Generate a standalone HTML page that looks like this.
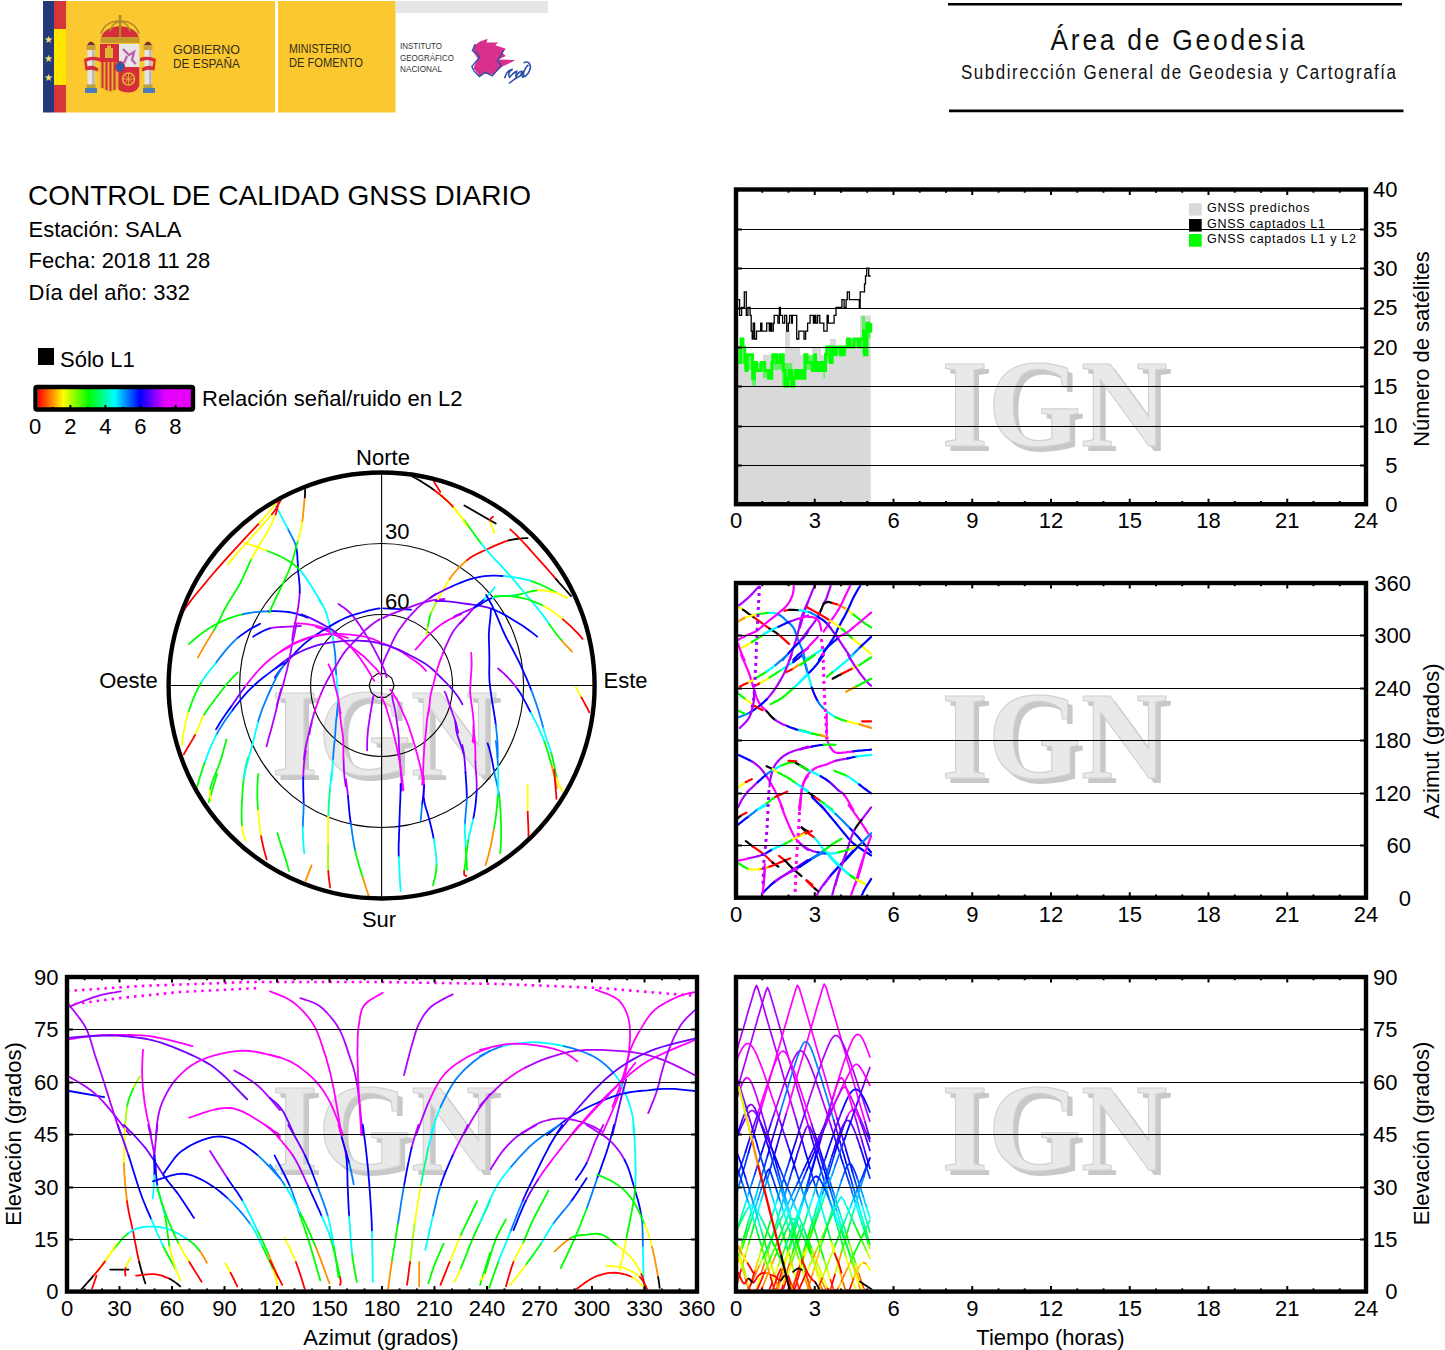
<!DOCTYPE html>
<html><head><meta charset="utf-8"><style>html,body{margin:0;padding:0;background:#fff;}svg{display:block;}</style></head>
<body><svg width="1445" height="1350" viewBox="0 0 1445 1350" font-family='"Liberation Sans", sans-serif'>
<rect width="1445" height="1350" fill="#fff"/>
<g id="logo">
<rect x="43" y="1" width="11" height="111.5" fill="#233a7a"/>
<rect x="54" y="1" width="12" height="28" fill="#d8343b"/>
<rect x="54" y="29" width="12" height="56" fill="#ffe600"/>
<rect x="54" y="85" width="12" height="27.5" fill="#d8343b"/>
<text x="48.5" y="42.5" font-size="10" text-anchor="middle" fill="#f5e06a">&#9733;</text>
<text x="48.5" y="62.0" font-size="10" text-anchor="middle" fill="#f5e06a">&#9733;</text>
<text x="48.5" y="80.5" font-size="10" text-anchor="middle" fill="#f5e06a">&#9733;</text>
<rect x="66" y="1" width="209" height="111.5" fill="#fcc830"/>
<rect x="278" y="1" width="117.5" height="111.5" fill="#fcc830"/>
<rect x="395.5" y="1" width="152.5" height="12" fill="#e6e6e6"/>
<g>
<!-- pillars -->
<rect x="87.5" y="49" width="7" height="37" fill="#e4e4e4"/><rect x="92" y="49" width="2.5" height="37" fill="#b9b9b9"/>
<rect x="144.5" y="49" width="7" height="37" fill="#e4e4e4"/><rect x="149" y="49" width="2.5" height="37" fill="#b9b9b9"/>
<rect x="86.5" y="45" width="9" height="5" fill="#c9a23a"/><rect x="143.5" y="45" width="9" height="5" fill="#c9a23a"/>
<rect x="86.5" y="84.5" width="9" height="3.5" fill="#b8a040"/><rect x="143.5" y="84.5" width="9" height="3.5" fill="#b8a040"/>
<rect x="85" y="88" width="12" height="5" fill="#4a7cc0"/><rect x="143" y="88" width="12" height="5" fill="#4a7cc0"/>
<path d="M87 45 q4 -7 8 0z" fill="#7a2a3a"/><path d="M144 45 q4 -7 8 0z" fill="#7a2a3a"/>
<!-- ribbons -->
<path d="M84 59 q8 -4 16 -1 l0 3.5 q-8 -3 -13.5 0 l1 5 q6 -2 11 2 l-1 3 q-5 -3 -12 -1z" fill="#d62d3a"/>
<path d="M156 59 q-8 -4 -16 -1 l0 3.5 q8 -3 13.5 0 l-1 5 q-6 -2 -11 2 l1 3 q5 -3 12 -1z" fill="#d62d3a"/>
<!-- shield -->
<path d="M100 44 h19 v18 h-19z" fill="#d62d3a"/>
<path d="M119 44 h20.3 v23 h-20.3z" fill="#e6e6e6"/>
<path d="M100 62 h18.5 v25 q-4 5 -9 5 q-6 -1 -9.5 -6z" fill="#e0b530"/>
<path d="M102.5 62 v26 M106.5 62 v28 M110.5 62 v29 M114.5 62 v28" stroke="#d62d3a" stroke-width="2"/>
<path d="M118.5 67 h20.8 v19 q-3 6 -10 6.5 q-8 0 -11 -3z" fill="#d62d3a"/>
<circle cx="128.5" cy="79" r="6" fill="none" stroke="#e0b530" stroke-width="1.6"/>
<path d="M122.5 79 h12 M128.5 73 v12 M124.3 74.8 l8.4 8.4 M132.7 74.8 l-8.4 8.4" stroke="#e0b530" stroke-width="0.9"/>
<rect x="105" y="48" width="8" height="10" fill="#e0b530"/><rect x="107" y="45.5" width="4" height="3" fill="#e0b530"/>
<path d="M123 49 l6 6 l5 -3 l-2 8 l4 4 M127 56 l-3 7" stroke="#c060b0" stroke-width="2.4" fill="none"/>
<ellipse cx="120" cy="66.8" rx="4.6" ry="5.3" fill="#2c5ab0" stroke="#d62d3a" stroke-width="1.2"/>
<!-- crown -->
<path d="M101 42 q-1 -14 19 -16 q20 2 19 16z" fill="#d62d3a"/>
<path d="M100.5 37 h39 v6 h-39z" fill="#c49a2c"/>
<path d="M101 34 q4 -13 19 -13 q15 0 19 13" fill="none" stroke="#b08a2a" stroke-width="1.6"/>
<path d="M110 32 q2 -10 10 -10 q8 0 10 10" fill="none" stroke="#b08a2a" stroke-width="1.3"/>
<rect x="119" y="15" width="2.2" height="22" fill="#b08a2a"/>
<circle cx="120" cy="16.5" r="1.6" fill="#b08a2a"/>
</g>
<text x="173" y="54" font-size="12.5" fill="#332e1a" textLength="67" lengthAdjust="spacingAndGlyphs">GOBIERNO</text>
<text x="173" y="68" font-size="12.5" fill="#332e1a" textLength="67" lengthAdjust="spacingAndGlyphs">DE ESPAÑA</text>
<text x="289" y="53.2" font-size="12" fill="#332e1a" textLength="62" lengthAdjust="spacingAndGlyphs">MINISTERIO</text>
<text x="289" y="67.2" font-size="12" fill="#332e1a" textLength="74" lengthAdjust="spacingAndGlyphs">DE FOMENTO</text>
<text x="400" y="49.3" font-size="9" fill="#333" textLength="42" lengthAdjust="spacingAndGlyphs">INSTITUTO</text>
<text x="400" y="60.5" font-size="9" fill="#333" textLength="54" lengthAdjust="spacingAndGlyphs">GEOGRÁFICO</text>
<text x="400" y="71.8" font-size="9" fill="#333" textLength="42" lengthAdjust="spacingAndGlyphs">NACIONAL</text>
<polygon points="473.5,46.5 479.4,41.8 487.6,38.8 486.5,42.4 498.2,42.4 495.3,45.3 505.9,48.8 502.4,52.9 505.9,55.9 498.2,59.4 515.3,60.0 510.0,62.9 502.4,66.5 492.9,74.7 483.5,73.5 480.0,76.5 473.5,68.2 477.6,58.2 473.5,52.4" fill="#d8308c"/>
<polyline points="475.3,44.1 472.4,50.6 477.6,53.5 479.4,57.6 471.8,66.5 474.1,71.2 479.4,76.5 485.3,72.4 492.4,75.9 501.2,65.3 497.6,60.6 502.4,52.4 503.5,50.6" fill="none" stroke="#2a4fa8" stroke-width="1.4"/>
<path d="M504.7 78.2 q2 -8 8 -9 q-6 4 -3 8 q4 -5 7 -6 l-1 6 q3 -6 6 -6 l-1 5 q2 -3 3 -5 l-1 7 M523.5 62.9 q6 -3 7 4 q-1 6 -4 8 q-3 4 -3 -2 q2 -6 5 -8 M508.8 83.5 q6 -5 12 -8" fill="none" stroke="#2a4fa8" stroke-width="1.6"/>
</g>
<line x1="948" y1="4.2" x2="1402" y2="4.2" stroke="#000" stroke-width="2.4"/>
<line x1="949" y1="110.8" x2="1403.5" y2="110.8" stroke="#000" stroke-width="2.8"/>
<text transform="scale(0.88 1)" x="1193.75" y="49.8" font-size="30" fill="#111" textLength="288.64" lengthAdjust="spacing">Área de Geodesia</text>
<text transform="scale(0.88 1)" x="1092.05" y="78.8" font-size="19.3" fill="#111" textLength="494.32" lengthAdjust="spacing">Subdirección General de Geodesia y Cartografía</text>
<text x="28" y="204.8" font-size="28" text-anchor="start" fill="#000" >CONTROL DE CALIDAD GNSS DIARIO</text>
<text x="28.5" y="236.6" font-size="22" text-anchor="start" fill="#000" >Estación: SALA</text>
<text x="28.5" y="268.4" font-size="22" text-anchor="start" fill="#000" >Fecha: 2018 11 28</text>
<text x="28.5" y="299.8" font-size="22" text-anchor="start" fill="#000" >Día del año: 332</text>
<rect x="38" y="348" width="16" height="17" fill="#000"/>
<text x="60" y="366.8" font-size="22" text-anchor="start" fill="#000" >Sólo L1</text>
<defs><linearGradient id="cb" x1="0" x2="1" y1="0" y2="0"><stop offset="0.0000" stop-color="#ff0000"/><stop offset="0.1667" stop-color="#ffff00"/><stop offset="0.3333" stop-color="#00ff00"/><stop offset="0.5000" stop-color="#00ffff"/><stop offset="0.6667" stop-color="#0000ff"/><stop offset="0.8333" stop-color="#e800ff"/></linearGradient></defs>
<rect x="37.8" y="389" width="153.2" height="19" fill="url(#cb)"/>
<rect x="35.5" y="387" width="157.5" height="22.5" fill="none" stroke="#000" stroke-width="4.4" rx="1.5"/>
<line x1="52.8" y1="408.5" x2="52.8" y2="407.0" stroke="#000" stroke-width="2"/>
<line x1="70.4" y1="408.5" x2="70.4" y2="405.0" stroke="#000" stroke-width="2"/>
<line x1="87.9" y1="408.5" x2="87.9" y2="407.0" stroke="#000" stroke-width="2"/>
<line x1="105.4" y1="408.5" x2="105.4" y2="405.0" stroke="#000" stroke-width="2"/>
<line x1="123.0" y1="408.5" x2="123.0" y2="407.0" stroke="#000" stroke-width="2"/>
<line x1="140.5" y1="408.5" x2="140.5" y2="405.0" stroke="#000" stroke-width="2"/>
<line x1="158.0" y1="408.5" x2="158.0" y2="407.0" stroke="#000" stroke-width="2"/>
<line x1="175.5" y1="408.5" x2="175.5" y2="405.0" stroke="#000" stroke-width="2"/>
<text x="35.2" y="434" font-size="22" text-anchor="middle" fill="#000" >0</text>
<text x="70.26" y="434" font-size="22" text-anchor="middle" fill="#000" >2</text>
<text x="105.32000000000001" y="434" font-size="22" text-anchor="middle" fill="#000" >4</text>
<text x="140.38" y="434" font-size="22" text-anchor="middle" fill="#000" >6</text>
<text x="175.44" y="434" font-size="22" text-anchor="middle" fill="#000" >8</text>
<text x="202" y="406" font-size="22" text-anchor="start" fill="#000" >Relación señal/ruido en L2</text>
<g font-family='"Liberation Serif", serif' font-size="125" font-weight="bold">
<text x="946.5" y="450.975" fill="#c8c8c8" textLength="226" lengthAdjust="spacingAndGlyphs">IGN</text>
<text x="941.5" y="445.975" fill="#e9e9e9" stroke="#d2d2d2" stroke-width="1.2" textLength="226" lengthAdjust="spacingAndGlyphs">IGN</text>
</g>
<g font-family='"Liberation Serif", serif' font-size="125" font-weight="bold">
<text x="946.5" y="782.675" fill="#c8c8c8" textLength="226" lengthAdjust="spacingAndGlyphs">IGN</text>
<text x="941.5" y="777.675" fill="#e9e9e9" stroke="#d2d2d2" stroke-width="1.2" textLength="226" lengthAdjust="spacingAndGlyphs">IGN</text>
</g>
<g font-family='"Liberation Serif", serif' font-size="125" font-weight="bold">
<text x="946.5" y="1174.675" fill="#c8c8c8" textLength="226" lengthAdjust="spacingAndGlyphs">IGN</text>
<text x="941.5" y="1169.675" fill="#e9e9e9" stroke="#d2d2d2" stroke-width="1.2" textLength="226" lengthAdjust="spacingAndGlyphs">IGN</text>
</g>
<g font-family='"Liberation Serif", serif' font-size="125" font-weight="bold">
<text x="276.5" y="780.375" fill="#c8c8c8" textLength="226" lengthAdjust="spacingAndGlyphs">IGN</text>
<text x="271.5" y="775.375" fill="#e9e9e9" stroke="#d2d2d2" stroke-width="1.2" textLength="226" lengthAdjust="spacingAndGlyphs">IGN</text>
</g>
<g font-family='"Liberation Serif", serif' font-size="125" font-weight="bold">
<text x="276.5" y="1174.675" fill="#c8c8c8" textLength="226" lengthAdjust="spacingAndGlyphs">IGN</text>
<text x="271.5" y="1169.675" fill="#e9e9e9" stroke="#d2d2d2" stroke-width="1.2" textLength="226" lengthAdjust="spacingAndGlyphs">IGN</text>
</g>
<path d="M737.8 504.2 L737.8 346.9 L744 346.9 L744 354.7 L751 354.7 L751 362.6 L763 362.6 L763 354.7 L785 354.7 L785 331.1 L790 331.1 L790 346.9 L800 346.9 L800 354.7 L812 354.7 L812 346.9 L821 346.9 L821 354.7 L830 354.7 L830 339.0 L836 339.0 L836 346.9 L845 346.9 L845 339.0 L860 339.0 L860 315.4 L870.7 315.4 L870.7 504.2 Z" fill="#d9d9d9"/>
<rect x="737.8" y="347.4" width="2.6" height="14.7" fill="#00ff00" opacity="0.55"/>
<rect x="740.4" y="339.5" width="3.6" height="6.9" fill="#00ff00" opacity="0.55"/>
<rect x="744.0" y="355.2" width="7.8" height="14.7" fill="#00ff00" opacity="0.55"/>
<rect x="751.8" y="363.1" width="4.2" height="22.6" fill="#00ff00" opacity="0.55"/>
<rect x="756.0" y="363.1" width="7.0" height="6.9" fill="#00ff00" opacity="0.55"/>
<rect x="763.0" y="371.0" width="8.5" height="6.9" fill="#00ff00" opacity="0.55"/>
<rect x="771.5" y="355.2" width="10.5" height="14.7" fill="#00ff00" opacity="0.55"/>
<rect x="782.0" y="363.1" width="10.3" height="22.6" fill="#00ff00" opacity="0.55"/>
<rect x="792.3" y="371.0" width="12.4" height="6.9" fill="#00ff00" opacity="0.55"/>
<rect x="804.7" y="355.2" width="11.5" height="14.7" fill="#00ff00" opacity="0.55"/>
<rect x="816.2" y="363.1" width="7.2" height="6.9" fill="#00ff00" opacity="0.55"/>
<rect x="823.4" y="363.1" width="1.6" height="14.7" fill="#00ff00" opacity="0.55"/>
<rect x="825.0" y="347.4" width="6.2" height="14.7" fill="#00ff00" opacity="0.55"/>
<rect x="831.2" y="347.4" width="8.8" height="6.9" fill="#00ff00" opacity="0.55"/>
<rect x="840.0" y="347.4" width="6.3" height="6.9" fill="#00ff00" opacity="0.55"/>
<rect x="846.3" y="339.5" width="15.5" height="6.9" fill="#00ff00" opacity="0.55"/>
<rect x="861.8" y="315.9" width="3.2" height="38.3" fill="#00ff00" opacity="0.55"/>
<rect x="865.0" y="323.7" width="5.7" height="14.7" fill="#00ff00" opacity="0.55"/>
<path d="M737.8 362.6 L739.6 362.6 L739.6 362.6 L741.0 362.6 L741.0 339.0 L742.9 339.0 L742.9 346.9 L744.7 346.9 L744.7 362.6 L746.0 362.6 L746.0 370.5 L747.1 370.5 L747.1 354.7 L748.7 354.7 L748.7 354.7 L750.3 354.7 L750.3 354.7 L752.6 354.7 L752.6 378.3 L754.4 378.3 L754.4 362.6 L756.5 362.6 L756.5 370.5 L757.6 370.5 L757.6 370.5 L758.9 370.5 L758.9 370.5 L761.1 370.5 L761.1 362.6 L762.7 362.6 L762.7 362.6 L764.7 362.6 L764.7 370.5 L766.2 370.5 L766.2 370.5 L768.6 370.5 L768.6 378.3 L770.9 378.3 L770.9 378.3 L771.8 378.3 L771.8 362.6 L772.9 362.6 L772.9 354.7 L774.5 354.7 L774.5 354.7 L776.7 354.7 L776.7 362.6 L778.4 362.6 L778.4 362.6 L780.2 362.6 L780.2 354.7 L782.0 354.7 L782.0 354.7 L783.2 354.7 L783.2 370.5 L785.1 370.5 L785.1 386.2 L787.4 386.2 L787.4 378.3 L789.4 378.3 L789.4 370.5 L791.8 370.5 L791.8 386.2 L793.8 386.2 L793.8 378.3 L795.7 378.3 L795.7 370.5 L797.0 370.5 L797.0 378.3 L798.6 378.3 L798.6 370.5 L799.6 370.5 L799.6 378.3 L801.1 378.3 L801.1 378.3 L801.9 378.3 L801.9 370.5 L804.0 370.5 L804.0 378.3 L804.9 378.3 L804.9 354.7 L807.0 354.7 L807.0 362.6 L809.0 362.6 L809.0 362.6 L810.7 362.6 L810.7 362.6 L812.4 362.6 L812.4 370.5 L813.7 370.5 L813.7 370.5 L814.7 370.5 L814.7 354.7 L815.5 354.7 L815.5 370.5 L818.0 370.5 L818.0 362.6 L819.8 362.6 L819.8 370.5 L821.8 370.5 L821.8 362.6 L823.1 362.6 L823.1 370.5 L825.5 370.5 L825.5 354.7 L826.9 354.7 L826.9 346.9 L828.4 346.9 L828.4 346.9 L830.3 346.9 L830.3 362.6 L832.2 362.6 L832.2 346.9 L833.7 346.9 L833.7 354.7 L836.1 354.7 L836.1 346.9 L838.6 346.9 L838.6 346.9 L840.3 346.9 L840.3 354.7 L842.4 354.7 L842.4 346.9 L843.3 346.9 L843.3 354.7 L844.2 354.7 L844.2 346.9 L845.8 346.9 L845.8 346.9 L847.6 346.9 L847.6 339.0 L849.7 339.0 L849.7 346.9 L851.5 346.9 L851.5 346.9 L853.9 346.9 L853.9 339.0 L855.8 339.0 L855.8 339.0 L857.6 339.0 L857.6 339.0 L858.7 339.0 L858.7 346.9 L860.0 346.9 L860.0 339.0 L862.2 339.0 L862.2 339.0 L863.5 339.0 L863.5 331.1 L864.5 331.1 L864.5 354.7 L867.0 354.7 L867.0 323.2 L869.0 323.2 L869.0 331.1 L870.7 331.1 L870.7 323.2 L870.7 323.2" stroke="#00ff00" stroke-width="3" fill="none"/>
<path d="M737.8 299.6 L739.6 299.6 L739.6 315.4 L741.6 315.4 L741.6 307.5 L743.3 307.5 L743.3 307.5 L744.3 307.5 L744.3 291.8 L746.3 291.8 L746.3 315.4 L747.9 315.4 L747.9 307.5 L749.0 307.5 L749.0 307.5 L750.1 307.5 L750.1 315.4 L751.2 315.4 L751.2 331.1 L752.2 331.1 L752.2 339.0 L753.2 339.0 L753.2 323.2 L754.6 323.2 L754.6 339.0 L755.4 339.0 L755.4 339.0 L756.5 339.0 L756.5 331.1 L758.6 331.1 L758.6 331.1 L760.7 331.1 L760.7 323.2 L761.9 323.2 L761.9 331.1 L763.5 331.1 L763.5 331.1 L764.5 331.1 L764.5 331.1 L766.7 331.1 L766.7 323.2 L767.9 323.2 L767.9 323.2 L769.3 323.2 L769.3 331.1 L770.4 331.1 L770.4 323.2 L771.7 323.2 L771.7 331.1 L773.3 331.1 L773.3 323.2 L774.2 323.2 L774.2 315.4 L776.1 315.4 L776.1 315.4 L777.9 315.4 L777.9 323.2 L779.4 323.2 L779.4 307.5 L780.4 307.5 L780.4 315.4 L782.6 315.4 L782.6 323.2 L784.7 323.2 L784.7 315.4 L786.7 315.4 L786.7 331.1 L788.3 331.1 L788.3 323.2 L789.6 323.2 L789.6 315.4 L791.6 315.4 L791.6 323.2 L792.4 323.2 L792.4 315.4 L793.5 315.4 L793.5 315.4 L795.6 315.4 L795.6 315.4 L796.7 315.4 L796.7 339.0 L798.8 339.0 L798.8 331.1 L800.1 331.1 L800.1 331.1 L802.1 331.1 L802.1 331.1 L804.0 331.1 L804.0 339.0 L805.6 339.0 L805.6 331.1 L807.6 331.1 L807.6 323.2 L809.0 323.2 L809.0 323.2 L810.1 323.2 L810.1 315.4 L812.2 315.4 L812.2 315.4 L813.4 315.4 L813.4 323.2 L814.7 323.2 L814.7 315.4 L815.9 315.4 L815.9 323.2 L817.6 323.2 L817.6 315.4 L819.8 315.4 L819.8 323.2 L820.8 323.2 L820.8 323.2 L821.6 323.2 L821.6 323.2 L823.8 323.2 L823.8 331.1 L825.9 331.1 L825.9 331.1 L827.1 331.1 L827.1 315.4 L828.3 315.4 L828.3 323.2 L829.8 323.2 L829.8 323.2 L831.2 323.2 L831.2 323.2 L832.0 323.2 L832.0 323.2 L834.1 323.2 L834.1 315.4 L836.0 315.4 L836.0 307.5 L838.0 307.5 L838.0 307.5 L840.2 307.5 L840.2 307.5 L841.9 307.5 L841.9 299.6 L842.8 299.6 L842.8 299.6 L844.1 299.6 L844.1 307.5 L846.1 307.5 L846.1 299.6 L847.3 299.6 L847.3 291.8 L849.4 291.8 L849.4 299.6 L851.6 299.6 L851.6 299.6 L853.0 299.6 L853.0 299.6 L854.5 299.6 L854.5 299.6 L856.3 299.6 L856.3 299.6 L857.8 299.6 L857.8 299.6 L859.3 299.6 L859.3 307.5 L860.2 307.5 L860.2 291.8 L862.4 291.8 L862.4 291.8 L864.5 291.8 L864.5 283.9 L865.5 283.9 L865.5 276.0 L866.7 276.0 L866.7 268.2 L868.7 268.2 L868.7 276.0 L869.6 276.0 L869.6 276.0 L870.7 276.0" stroke="#000" stroke-width="1.3" fill="none"/>
<line x1="736" y1="229.50" x2="1366" y2="229.50" stroke="#000" stroke-width="1"/>
<line x1="736" y1="229.50" x2="742" y2="229.50" stroke="#000" stroke-width="2"/>
<line x1="1360" y1="229.50" x2="1366" y2="229.50" stroke="#000" stroke-width="2"/>
<line x1="736" y1="268.50" x2="1366" y2="268.50" stroke="#000" stroke-width="1"/>
<line x1="736" y1="268.50" x2="742" y2="268.50" stroke="#000" stroke-width="2"/>
<line x1="1360" y1="268.50" x2="1366" y2="268.50" stroke="#000" stroke-width="2"/>
<line x1="736" y1="308.50" x2="1366" y2="308.50" stroke="#000" stroke-width="1"/>
<line x1="736" y1="308.50" x2="742" y2="308.50" stroke="#000" stroke-width="2"/>
<line x1="1360" y1="308.50" x2="1366" y2="308.50" stroke="#000" stroke-width="2"/>
<line x1="736" y1="347.50" x2="1366" y2="347.50" stroke="#000" stroke-width="1"/>
<line x1="736" y1="347.50" x2="742" y2="347.50" stroke="#000" stroke-width="2"/>
<line x1="1360" y1="347.50" x2="1366" y2="347.50" stroke="#000" stroke-width="2"/>
<line x1="736" y1="386.50" x2="1366" y2="386.50" stroke="#000" stroke-width="1"/>
<line x1="736" y1="386.50" x2="742" y2="386.50" stroke="#000" stroke-width="2"/>
<line x1="1360" y1="386.50" x2="1366" y2="386.50" stroke="#000" stroke-width="2"/>
<line x1="736" y1="426.50" x2="1366" y2="426.50" stroke="#000" stroke-width="1"/>
<line x1="736" y1="426.50" x2="742" y2="426.50" stroke="#000" stroke-width="2"/>
<line x1="1360" y1="426.50" x2="1366" y2="426.50" stroke="#000" stroke-width="2"/>
<line x1="736" y1="465.50" x2="1366" y2="465.50" stroke="#000" stroke-width="1"/>
<line x1="736" y1="465.50" x2="742" y2="465.50" stroke="#000" stroke-width="2"/>
<line x1="1360" y1="465.50" x2="1366" y2="465.50" stroke="#000" stroke-width="2"/>
<line x1="762.25" y1="504.2" x2="762.25" y2="501.0" stroke="#000" stroke-width="2"/>
<line x1="762.25" y1="189.5" x2="762.25" y2="192.7" stroke="#000" stroke-width="2"/>
<line x1="788.50" y1="504.2" x2="788.50" y2="501.0" stroke="#000" stroke-width="2"/>
<line x1="788.50" y1="189.5" x2="788.50" y2="192.7" stroke="#000" stroke-width="2"/>
<line x1="814.75" y1="504.2" x2="814.75" y2="498.7" stroke="#000" stroke-width="2"/>
<line x1="814.75" y1="189.5" x2="814.75" y2="195.0" stroke="#000" stroke-width="2"/>
<line x1="841.00" y1="504.2" x2="841.00" y2="501.0" stroke="#000" stroke-width="2"/>
<line x1="841.00" y1="189.5" x2="841.00" y2="192.7" stroke="#000" stroke-width="2"/>
<line x1="867.25" y1="504.2" x2="867.25" y2="501.0" stroke="#000" stroke-width="2"/>
<line x1="867.25" y1="189.5" x2="867.25" y2="192.7" stroke="#000" stroke-width="2"/>
<line x1="893.50" y1="504.2" x2="893.50" y2="498.7" stroke="#000" stroke-width="2"/>
<line x1="893.50" y1="189.5" x2="893.50" y2="195.0" stroke="#000" stroke-width="2"/>
<line x1="919.75" y1="504.2" x2="919.75" y2="501.0" stroke="#000" stroke-width="2"/>
<line x1="919.75" y1="189.5" x2="919.75" y2="192.7" stroke="#000" stroke-width="2"/>
<line x1="946.00" y1="504.2" x2="946.00" y2="501.0" stroke="#000" stroke-width="2"/>
<line x1="946.00" y1="189.5" x2="946.00" y2="192.7" stroke="#000" stroke-width="2"/>
<line x1="972.25" y1="504.2" x2="972.25" y2="498.7" stroke="#000" stroke-width="2"/>
<line x1="972.25" y1="189.5" x2="972.25" y2="195.0" stroke="#000" stroke-width="2"/>
<line x1="998.50" y1="504.2" x2="998.50" y2="501.0" stroke="#000" stroke-width="2"/>
<line x1="998.50" y1="189.5" x2="998.50" y2="192.7" stroke="#000" stroke-width="2"/>
<line x1="1024.75" y1="504.2" x2="1024.75" y2="501.0" stroke="#000" stroke-width="2"/>
<line x1="1024.75" y1="189.5" x2="1024.75" y2="192.7" stroke="#000" stroke-width="2"/>
<line x1="1051.00" y1="504.2" x2="1051.00" y2="498.7" stroke="#000" stroke-width="2"/>
<line x1="1051.00" y1="189.5" x2="1051.00" y2="195.0" stroke="#000" stroke-width="2"/>
<line x1="1077.25" y1="504.2" x2="1077.25" y2="501.0" stroke="#000" stroke-width="2"/>
<line x1="1077.25" y1="189.5" x2="1077.25" y2="192.7" stroke="#000" stroke-width="2"/>
<line x1="1103.50" y1="504.2" x2="1103.50" y2="501.0" stroke="#000" stroke-width="2"/>
<line x1="1103.50" y1="189.5" x2="1103.50" y2="192.7" stroke="#000" stroke-width="2"/>
<line x1="1129.75" y1="504.2" x2="1129.75" y2="498.7" stroke="#000" stroke-width="2"/>
<line x1="1129.75" y1="189.5" x2="1129.75" y2="195.0" stroke="#000" stroke-width="2"/>
<line x1="1156.00" y1="504.2" x2="1156.00" y2="501.0" stroke="#000" stroke-width="2"/>
<line x1="1156.00" y1="189.5" x2="1156.00" y2="192.7" stroke="#000" stroke-width="2"/>
<line x1="1182.25" y1="504.2" x2="1182.25" y2="501.0" stroke="#000" stroke-width="2"/>
<line x1="1182.25" y1="189.5" x2="1182.25" y2="192.7" stroke="#000" stroke-width="2"/>
<line x1="1208.50" y1="504.2" x2="1208.50" y2="498.7" stroke="#000" stroke-width="2"/>
<line x1="1208.50" y1="189.5" x2="1208.50" y2="195.0" stroke="#000" stroke-width="2"/>
<line x1="1234.75" y1="504.2" x2="1234.75" y2="501.0" stroke="#000" stroke-width="2"/>
<line x1="1234.75" y1="189.5" x2="1234.75" y2="192.7" stroke="#000" stroke-width="2"/>
<line x1="1261.00" y1="504.2" x2="1261.00" y2="501.0" stroke="#000" stroke-width="2"/>
<line x1="1261.00" y1="189.5" x2="1261.00" y2="192.7" stroke="#000" stroke-width="2"/>
<line x1="1287.25" y1="504.2" x2="1287.25" y2="498.7" stroke="#000" stroke-width="2"/>
<line x1="1287.25" y1="189.5" x2="1287.25" y2="195.0" stroke="#000" stroke-width="2"/>
<line x1="1313.50" y1="504.2" x2="1313.50" y2="501.0" stroke="#000" stroke-width="2"/>
<line x1="1313.50" y1="189.5" x2="1313.50" y2="192.7" stroke="#000" stroke-width="2"/>
<line x1="1339.75" y1="504.2" x2="1339.75" y2="501.0" stroke="#000" stroke-width="2"/>
<line x1="1339.75" y1="189.5" x2="1339.75" y2="192.7" stroke="#000" stroke-width="2"/>
<rect x="736" y="189.5" width="630" height="314.7" fill="none" stroke="#000" stroke-width="4.4"/>
<text x="1397.5" y="197.3" font-size="22" text-anchor="end" fill="#000" >40</text>
<text x="1397.5" y="236.63750000000002" font-size="22" text-anchor="end" fill="#000" >35</text>
<text x="1397.5" y="275.975" font-size="22" text-anchor="end" fill="#000" >30</text>
<text x="1397.5" y="315.3125" font-size="22" text-anchor="end" fill="#000" >25</text>
<text x="1397.5" y="354.65000000000003" font-size="22" text-anchor="end" fill="#000" >20</text>
<text x="1397.5" y="393.9875" font-size="22" text-anchor="end" fill="#000" >15</text>
<text x="1397.5" y="433.325" font-size="22" text-anchor="end" fill="#000" >10</text>
<text x="1397.5" y="472.6625" font-size="22" text-anchor="end" fill="#000" >5</text>
<text x="1397.5" y="512.0" font-size="22" text-anchor="end" fill="#000" >0</text>
<text x="736.0" y="528.2" font-size="22" text-anchor="middle" fill="#000" >0</text>
<text x="814.75" y="528.2" font-size="22" text-anchor="middle" fill="#000" >3</text>
<text x="893.5" y="528.2" font-size="22" text-anchor="middle" fill="#000" >6</text>
<text x="972.25" y="528.2" font-size="22" text-anchor="middle" fill="#000" >9</text>
<text x="1051.0" y="528.2" font-size="22" text-anchor="middle" fill="#000" >12</text>
<text x="1129.75" y="528.2" font-size="22" text-anchor="middle" fill="#000" >15</text>
<text x="1208.5" y="528.2" font-size="22" text-anchor="middle" fill="#000" >18</text>
<text x="1287.25" y="528.2" font-size="22" text-anchor="middle" fill="#000" >21</text>
<text x="1366.0" y="528.2" font-size="22" text-anchor="middle" fill="#000" >24</text>
<text transform="translate(1428.6 349) rotate(-90)" font-size="22" text-anchor="middle">Número de satélites</text>
<rect x="1189" y="203.2" width="12.7" height="12.4" fill="#d9d9d9"/>
<rect x="1189" y="219" width="12.7" height="12.6" fill="#000"/>
<rect x="1189" y="234" width="12.7" height="12.7" fill="#00ff00"/>
<g font-size="12.5"><text x="1207" y="212" textLength="102.5" lengthAdjust="spacing">GNSS predichos</text><text x="1207" y="227.5" textLength="118" lengthAdjust="spacing">GNSS captados L1</text><text x="1207" y="243" textLength="149" lengthAdjust="spacing">GNSS captados L1 y L2</text></g>
<defs><clipPath id="clipB"><rect x="738" y="585.2" width="626" height="310.3"/></clipPath></defs><g clip-path="url(#clipB)" fill="none" stroke-width="2.2" stroke-linecap="round" stroke-linejoin="round">
<path d="M738.1 606.1 739.3 605.1 740.9 603.8 742.9 602.3 744.9 600.6 746.9 598.9 748.8 597.2 750.6 595.4 752.6 593.4 754.5 591.3 756.3 589.3 757.8 587.7 758.9 586.5" stroke="#b000ff"/>
<path d="M738.7 607.3 739.1 607.4 739.5 607.6 740.1 607.9 740.8 608.3 741.7 608.9 742.9 609.6" stroke="#ffff00"/>
<path d="M742.9 609.6 744.4 610.6 746.2 611.9 748.1 613.3 750.3 614.8 752.5 616.3 754.7 617.9" stroke="#000000"/>
<path d="M754.7 617.9 757.1 619.6 759.7 621.5 762.3 623.4 764.9 625.3 767.4 627.1 769.5 628.6" stroke="#ff0000"/>
<path d="M769.5 628.6 771.4 629.8 772.9 630.8 774.3 631.6 775.6 632.4 776.9 633.4 778.4 634.5" stroke="#000000"/>
<path d="M778.4 634.5 780.2 636 782.3 637.8 784.3 639.6 786.3 641.4 787.9 642.9 789.1 644" stroke="#ff0000"/>
<path d="M738.1 621.5 738.9 621 740 620.4 741.3 619.6 742.7 618.8 744.2 618 745.8 617.3" stroke="#ff9000"/>
<path d="M745.8 617.3 747.6 616.7 749.5 616.2 751.5 615.7 753.6 615.2 755.7 614.8 757.7 614.4" stroke="#ffff00"/>
<path d="M757.7 614.4 759.7 614 761.8 613.7 763.8 613.3 765.8 613.1 767.7 612.9 769.5 612.9" stroke="#00ff00"/>
<path d="M769.5 612.9 771.2 612.9 772.7 612.9 774.2 613.1 775.6 613.3 777 613.8 778.4 614.4" stroke="#00ffff"/>
<path d="M778.4 614.4 780 615.2 781.5 616.4 783.1 617.6 784.6 619 786 620.3 787.3 621.5 788.5 622.5 789.6 623.5 790.7 624.4 791.6 625.4 792.5 626.4 793.2 627.4 793.9 628.5 794.5 629.7 794.9 630.8 795.3 632 795.8 633.3 796.2 634.5 796.7 635.7 797.2 637 797.7 638.2 798.1 639.5 798.6 640.9 799.2 642.2 799.7 643.6 800.4 645.1 801 646.6 801.6 648.1 802.2 649.6 802.7 651.1 803.2 652.7 803.7 654.4 804.1 656.1 804.5 657.6 804.9 659 805.1 659.9" stroke="#0080ff"/>
<path d="M793.8 585.3 793.8 586.4 793.7 587.8 793.6 589.4 793.4 591.3 793.1 593.1 792.7 594.8 792 596.5 791.3 598.2 790.5 599.9 789.5 601.6 788.5 603.3 787.3 604.9 786.1 606.4 784.7 607.7 783.3 609.1 781.7 610.4 780.1 611.7 778.4 613.2 776.6 614.7 774.6 616.3 772.6 617.9 770.5 619.5 768.5 621.1 766.6 622.7 764.8 624.2 763.1 625.6 761.5 627.1 759.8 628.5 758.2 629.8 756.5 631 754.7 632 752.9 632.8 751 633.6 749.2 634.3 747.5 635 745.8 635.7 744.3 636.5 742.8 637.3 741.3 638.1 740 638.8 739 639.4 738.1 639.8" stroke="#ff00ff"/>
<path d="M741.1 648.1 742.3 647.5 743.8 646.7 745.7 645.7 747.7 644.5 749.8 643.4 751.8 642.2" stroke="#ffff00"/>
<path d="M751.8 642.2 753.7 641 755.9 639.6 758 638.2 760.1 636.8 762 635.6 763.6 634.5" stroke="#00ff00"/>
<path d="M763.6 634.5 764.9 633.7 765.9 633 766.8 632.5 767.6 632 768.5 631.5 769.5 631 770.8 630.3 772.2 629.7 773.6 629 775.1 628.3 776.7 627.6 778.4 626.8" stroke="#00ffff"/>
<path d="M778.4 626.8 780.2 626 781.9 625.1 783.8 624.3 785.8 623.3 787.9 622.4 790.3 621.5" stroke="#0000ff"/>
<path d="M790.3 621.5 793.1 620.5 796.4 619.3 799.9 618.2 803.2 617.1 806 616.2 808 615.5" stroke="#b000ff"/>
<path d="M784.4 610.8 784.8 610.7 785.4 610.5 786.1 610.3 786.9 610.2 787.9 610 789.1 609.9" stroke="#ff0000"/>
<path d="M789.1 609.9 790.5 609.9 792.1 609.9 793.9 609.9 795.7 610 797.5 610.1 799.2 610.2" stroke="#000000"/>
<path d="M799.2 610.2 800.8 610.4 802.5 610.8 804.2 611.1 805.8 611.5 807.1 611.8 808 612" stroke="#00ffff"/>
<path d="M808 601.9 807.3 603.4 806.4 605.5 805.3 608 804.1 610.6 803 613.2 802.1 615.5 801.5 617.6 800.9 619.6 800.5 621.6 800.1 623.5 799.6 625.4 799.2 627.4 798.7 629.4 798.2 631.5 797.7 633.5 797.2 635.5 796.7 637.4 796.2 639.2 795.7 640.9 795.2 642.3 794.8 643.7 794.3 645.1 793.8 646.5 793.2 648.1 792.6 650.1 792 652.3 791.3 654.6 790.6 656.8 790.1 658.6 789.7 659.9" stroke="#b000ff"/>
<path d="M738.1 644 738.5 645.1 739.1 646.8 739.7 648.7 740.4 650.6 741.1 652.5 741.7 654.1 742.3 655.3 742.8 656.5 743.4 657.6 743.9 658.6 744.3 659.3 744.7 659.9" stroke="#ff00ff"/>
<path d="M808 631.5 807.4 632.4 806.6 633.5 805.6 634.8 804.5 636.3 803.4 637.8 802.1 639.2 800.8 640.6 799.5 642 798 643.4 796.5 644.9 794.9 646.5 793.2 648.1 791.4 650.1 789.4 652.3 787.4 654.6 785.4 656.8 783.8 658.6 782.6 659.9" stroke="#0000ff"/>
<path d="M808 648.1 807 648.8 805.6 649.7 804 650.7 802.2 651.9 800.6 653 799.2 654.1 797.9 655.1 796.8 656.2 795.7 657.4 794.7 658.4 793.9 659.3 793.2 659.9" stroke="#0000ff"/>
<path d="M814.8 585.3 814.2 586.9 813.2 589.1 812.1 591.6 811 594.4 809.9 597.1 808.9 599.6 808 601.8 807.2 603.9 806.4 606 805.6 608.2 804.9 610.3 804.1 612.6 803.4 615.1 802.6 617.9 801.8 620.8 801.1 623.5 800.4 625.8 800 627.4" stroke="#b000ff"/>
<path d="M830.8 585.3 830.3 586.8 829.7 588.8 828.9 591.2 828.1 593.6 827.3 595.9 826.7 597.8 826.1 599.1 825.6 600.1 825.2 600.9 824.7 601.7 824.2 602.6 823.7 603.7" stroke="#b000ff"/>
<path d="M823.7 603.7 823.1 605.1 822.4 606.6 821.7 608.3 821 610 820.3 611.6 819.6 613.2" stroke="#000000"/>
<path d="M819.6 613.2 818.8 614.6 818.2 615.9 817.5 617.2 816.7 618.5 815.8 619.9 814.8 621.5 813.5 623.3 812 625.3 810.4 627.4 808.8 629.5 807.3 631.5 805.9 633.3 804.7 634.9 803.5 636.5 802.4 637.9 801.4 639.2 800.6 640.2 800 641" stroke="#b000ff"/>
<path d="M823.7 603.7 824.1 603.5 824.8 603.1 825.5 602.7 826.3 602.4 827.1 602.1 827.8 601.9 828.6 601.9 829.3 602.1 830.1 602.3 830.9 602.6 831.7 602.8 832.6 603.1" stroke="#000000"/>
<path d="M832.6 603.1 833.5 603.3 834.4 603.6 835.4 603.8 836.4 604.1 837.4 604.4 838.5 604.9" stroke="#ff0000"/>
<path d="M838.5 604.9 839.7 605.4 841 606 842.3 606.7 843.6 607.5 844.9 608.2 846.2 609" stroke="#ff9000"/>
<path d="M846.2 609 847.4 609.8 848.6 610.7 849.7 611.5 850.8 612.4 852 613.4 853.3 614.4" stroke="#ffff00"/>
<path d="M853.3 614.4 854.7 615.5 856.2 616.6 857.7 617.9 859.2 619.1 860.7 620.3 862.2 621.5 863.8 622.6 865.5 623.8 867.2 624.9 868.8 625.9 870.1 626.8 871.1 627.4" stroke="#00ff00"/>
<path d="M850.4 585.3 849.7 586.7 848.8 588.6 847.8 590.8 846.6 593.2 845.5 595.6 844.4 597.8 843.5 599.8 842.6 601.7 841.7 603.7 840.7 605.6 839.7 607.6 838.5 609.6 837.2 611.8 835.7 614 834.1 616.3 832.5 618.6 831 620.7 829.6 622.7 828.4 624.5 827.2 626.3 826.1 627.9 825.1 629.4 824.3 630.6 823.7 631.5" stroke="#ff00ff"/>
<path d="M860.4 585.3 859.6 586.7 858.5 588.5 857.2 590.7 855.9 593.1 854.5 595.5 853.3 597.8 852.3 599.9 851.4 601.9 850.5 604 849.5 606.2 848.5 608.4 847.4 610.8 846 613.5 844.5 616.4 842.8 619.4 841.2 622.3 839.8 625 838.5 627.4 837.6 629.3 836.9 630.8 836.4 632.1 835.8 633.4 835.2 634.7 834.4 636.3 833.3 638.1 832.1 640 830.7 642 829.4 644.1 828 646.1 826.7 648.1 825.3 650.2 823.8 652.5 822.3 654.8 821 656.9 819.8 658.6 819 659.9" stroke="#0000ff"/>
<path d="M807.1 607.3 808.3 607.9 809.8 608.7 811.7 609.8 813.7 610.9 815.8 612.1 817.8 613.2 819.7 614.3 821.6 615.4 823.6 616.6 825.6 617.8 827.6 619 829.6 620.3" stroke="#ff0000"/>
<path d="M829.6 620.3 831.6 621.6 833.6 622.9 835.5 624.2 837.5 625.6 839.5 627 841.5 628.6" stroke="#ffff00"/>
<path d="M841.5 628.6 843.5 630.3 845.5 632.1 847.6 634 849.6 635.9 851.5 637.6 853.3 639.2" stroke="#00ff00"/>
<path d="M853.3 639.2 855 640.6 856.5 641.9 858 643 859.4 644.1 860.8 645.2 862.2 646.4 863.8 647.7 865.5 649.2 867.2 650.7 868.8 652 870.1 653.2 871.1 654.1" stroke="#ffff00"/>
<path d="M800 610.2 801 610.4 802.3 610.6 803.9 610.8 805.6 611.1 807.3 611.5 808.9 612" stroke="#00ffff"/>
<path d="M808.9 612 810.4 612.6 811.8 613.3 813.3 614.1 814.8 614.9 816.3 615.8 817.8 616.7" stroke="#0080ff"/>
<path d="M817.8 616.7 819.3 617.7 820.8 618.6 822.3 619.7 823.8 620.7 825.2 621.9 826.7 623.3" stroke="#0000ff"/>
<path d="M826.7 623.3 828.1 624.8 829.4 626.5 830.8 628.3 832.1 630.1 833.3 631.8 834.4 633.3 835.2 634.5 835.9 635.5 836.5 636.4 837.1 637.2 837.8 638.1 838.5 639.2" stroke="#7000ff"/>
<path d="M838.5 639.2 839.4 640.6 840.4 642 841.4 643.5 842.4 645.1 843.4 646.6 844.4 648.1 845.5 649.7 846.6 651.4 847.8 653.1 848.8 654.7 849.7 656.1 850.4 657" stroke="#b000ff"/>
<path d="M800 618.5 800.6 618.3 801.4 617.9 802.4 617.5 803.5 617.2 804.7 616.9 805.9 616.7 807.3 616.7 808.8 616.8 810.5 617 812.1 617.2 813.6 617.5 814.8 617.9 815.8 618.3 816.6 618.7 817.3 619.2 817.9 619.8 818.4 620.5 819 621.5 819.5 622.7 820 624.4 820.4 626.1 820.8 627.9 821.1 629.3 821.3 630.4" stroke="#ff00ff"/>
<path d="M871.1 612.6 869.8 613.7 868 615.2 865.9 617 863.6 619 861.4 620.9 859.2 622.7 857.2 624.3 855.2 626 853.1 627.7 851.1 629.4 849.2 630.8 847.4 632.1 845.6 633.3 843.9 634.2 842.2 635.1 840.7 635.8 839.4 636.4 838.5 636.9" stroke="#ff00ff"/>
<path d="M871.1 636.9 869.8 638.1 867.9 639.9 865.7 642 863.4 644.1 861.2 646.3 859.2 648.1" stroke="#0000ff"/>
<path d="M859.2 648.1 857.5 649.9 855.7 651.6 854.1 653.3 852.6 654.8 851.3 656.1 850.4 657" stroke="#0080ff"/>
<path d="M817.8 636.9 816.8 637.9 815.4 639.4 813.7 641.2 812 643.1 810.3 644.8 808.9 646.4 807.7 647.7 806.5 649 805.4 650.2 804.4 651.3 803.6 652.2 803 652.9" stroke="#ff00ff"/>
<path d="M823.7 648.1 822.7 648.8 821.4 649.7 819.8 650.8 818.1 651.9 816.4 653 814.8 654.1 813.2 655 811.5 656.1 809.8 657.1 808.2 658 806.9 658.8 805.9 659.4" stroke="#00ffff"/>
<path d="M836.7 639.2 835.9 639.9 834.8 640.8 833.5 641.8 832.2 643 830.8 644.1 829.6 645.2 828.5 646.2 827.3 647.4 826.2 648.5 825.2 649.6 824.3 650.5 823.7 651.1" stroke="#0000ff"/>
<path d="M741.1 655 742 657 743.2 659.7 744.7 662.9 746.2 666.4 747.6 669.7 748.8 672.8 749.8 675.5 750.6 678.1 751.3 680.7 752 683.2 752.8 685.7 753.6 688.2 754.4 690.7 755.2 693.2 756 695.7 756.9 698.1 757.9 700.4 758.9 702.4 760 704.2 761.2 705.8 762.5 707.2 763.8 708.5 765.2 709.9 766.6 711.3" stroke="#ff00ff"/>
<path d="M766.6 711.3 768 712.8 769.4 714.4 770.8 715.9 772.2 717.4 773.8 718.9 775.5 720.2" stroke="#000000"/>
<path d="M775.5 720.2 777.3 721.4 779.2 722.4 781.2 723.4 783.3 724.4 785.3 725.2 787.3 726.1" stroke="#b000ff"/>
<path d="M787.3 726.1 789.3 726.9 791.4 727.7 793.4 728.4 795.4 729.1 797.4 729.7 799.2 730.2" stroke="#0000ff"/>
<path d="M799.2 730.2 800.9 730.7 802.7 731.1 804.3 731.4 805.8 731.6 807.1 731.9 808 732" stroke="#00ffff"/>
<path d="M739.9 686.4 740.9 685.9 742.3 685.3 744 684.5 745.7 683.7 747.4 683 748.8 682.3" stroke="#ff0000"/>
<path d="M748.8 682.3 749.9 681.7 750.8 681.2 751.6 680.7 752.4 680.1 753.4 679.5 754.7 678.7" stroke="#ffff00"/>
<path d="M754.7 678.7 756.4 677.7 758.4 676.6 760.5 675.3 762.6 674 764.7 672.8 766.6 671.6" stroke="#00ff00"/>
<path d="M766.6 671.6 768.2 670.5 769.7 669.5 771 668.5 772.4 667.5 773.9 666.4 775.5 665.1" stroke="#00ffff"/>
<path d="M775.5 665.1 777.4 663.5 779.6 661.6 782 659.6 784.1 657.7 786 656.1 787.3 655" stroke="#0080ff"/>
<path d="M754.7 685.8 755.3 685.5 756.2 685.1 757.1 684.7 758.2 684.1 759.4 683.5 760.7 682.8" stroke="#ff0000"/>
<path d="M760.7 682.8 761.9 682.1 763.3 681.3 764.7 680.5 766.3 679.6 767.9 678.6 769.5 677.5" stroke="#ffff00"/>
<path d="M769.5 677.5 771.4 676.4 773.3 675.1 775.3 673.8 777.3 672.5 779.4 671.1 781.4 669.8" stroke="#00ff00"/>
<path d="M781.4 669.8 783.4 668.5 785.5 667.2 787.5 665.9 789.5 664.6 791.4 663.4 793.2 662.1" stroke="#00ffff"/>
<path d="M793.2 662.1 795 660.8 796.8 659.4 798.4 658.1 799.9 656.8 801.2 655.8 802.1 655" stroke="#0000ff"/>
<path d="M791.5 655 790.7 657 789.7 659.7 788.5 662.9 787.1 666.4 785.7 669.7 784.4 672.8 783 675.5 781.5 678.2 780 680.9 778.5 683.4 777 685.9 775.5 688.2 774 690.3 772.5 692.4 771 694.3 769.5 696.1 768.1 697.8 766.6 699.4" stroke="#b000ff"/>
<path d="M766.6 699.4 765.1 700.9 763.6 702.3 762.1 703.6 760.7 704.8 759.2 706 757.7 707.1 756.2 708.2 754.8 709.3 753.3 710.3 751.9 711.3 750.4 712.2 748.8 713.1" stroke="#0000ff"/>
<path d="M748.8 713.1 747.1 713.9 745.2 714.7 743.2 715.5 741.4 716.2 739.8 716.8 738.7 717.2" stroke="#0080ff"/>
<path d="M786.1 672.2 786.9 671.8 788 671.3 789.3 670.7 790.7 670 792 669.3 793.2 668.6" stroke="#ff0000"/>
<path d="M793.2 668.6 794.3 668 795.2 667.3 796.1 666.6 797 665.9 798 665.2 799.2 664.5" stroke="#ff9000"/>
<path d="M799.2 664.5 800.6 663.7 802.2 662.8 804 661.9 805.6 661 807 660.3 808 659.7" stroke="#ffff00"/>
<path d="M802.7 655 807.5 672.8" stroke="#0080ff"/>
<path d="M806.9 675.1 805.4 676.6 803.3 678.6 800.8 681 798.2 683.6 795.6 686 793.2 688.2" stroke="#00ffff"/>
<path d="M793.2 688.2 791.2 690.1 789.1 691.9 787.1 693.7 785.2 695.3 783.3 696.8 781.4 698.3 779.4 699.5 777.4 700.8 775.3 701.8 773.5 702.8 771.9 703.6 770.7 704.2" stroke="#00ff00"/>
<path d="M738.1 693.5 739 694.1 740.1 695 741.4 696.1 742.9 697.2 744.4 698.3 745.8 699.4" stroke="#00ff00"/>
<path d="M745.8 699.4 747.3 700.5 748.8 701.7 750.3 702.8 751.8 703.9 753.3 705 754.7 706" stroke="#ffff00"/>
<path d="M754.7 706 756.2 706.8 757.7 707.7 759.1 708.4 760.5 709.1 761.6 709.7 762.4 710.1" stroke="#ff0000"/>
<path d="M754.1 690.5 754.1 691.8 754.1 693.5 754.1 695.5 754 697.8 753.9 700.1 753.6 702.4 753.1 704.7 752.6 707.3 752 709.9 751.3 712.5 750.4 714.9 749.4 717.2 748 719.4 746.3 721.5 744.4 723.5 742.6 725.3 741 726.8 739.9 727.9" stroke="#b000ff"/>
<path d="M738.1 710.7 744.7 713.7" stroke="#00ff00"/>
<path d="M803 655 803.5 657 804.2 659.7 805.1 663 806 666.4 806.9 669.8 807.7 672.8" stroke="#0080ff"/>
<path d="M807.7 672.8 808.4 675.4 809.1 678 809.7 680.4 810.4 682.8 811.1 685.2 811.8 687.6" stroke="#00ffff"/>
<path d="M811.8 687.6 812.7 690 813.6 692.4 814.6 694.8 815.6 697.1 816.7 699.3 817.8 701.2" stroke="#0000ff"/>
<path d="M817.8 701.2 818.8 702.9 819.9 704.4 821 705.7 822.2 707 823.5 708.2 824.9 709.5" stroke="#0080ff"/>
<path d="M824.9 709.5 826.4 710.9 828.1 712.3 829.9 713.6 831.8 714.9 833.7 716.1 835.5 717.2" stroke="#00ffff"/>
<path d="M835.5 717.2 837.5 718.1 839.4 718.9 841.4 719.6 843.4 720.2 845.4 720.8 847.4 721.4" stroke="#00ff00"/>
<path d="M847.4 721.4 849.4 721.9 851.3 722.4 853.3 722.9 855.3 723.3 857.3 723.8 859.2 724.3" stroke="#ffff00"/>
<path d="M859.2 724.3 861.4 724.9 863.6 725.6 865.9 726.3 868 726.9 869.8 727.5 871.1 727.9" stroke="#ff9000"/>
<path d="M823.7 655 822.7 656.3 821.3 658.2 819.7 660.5 818 662.8 816.3 665 814.8 666.8 813.5 668.3 812.3 669.5 811.2 670.6 810.1 671.7 808.9 672.8 807.7 674" stroke="#0000ff"/>
<path d="M807.7 674 806.4 675.4 804.9 676.9 803.4 678.6 802 680.1 800.8 681.3 800 682.3" stroke="#00ffff"/>
<path d="M826.7 714.2 826.7 734.9" stroke="#ff00ff"/>
<path d="M853.3 655 852 656.1 850.1 657.7 848 659.6 845.6 661.6 843.4 663.4 841.5 665.1 839.8 666.5 838.2 667.7 836.7 669 835.2 670.1 833.9 671.2 832.6 672.2" stroke="#00ffff"/>
<path d="M832.6 672.2 831.4 673.2 830.2 674.1 829.1 675 828.1 675.8 827.3 676.4 826.7 676.9" stroke="#00ff00"/>
<path d="M832.6 678.7 833.5 678.2 834.8 677.5 836.3 676.7 838 675.8 839.7 674.9 841.5 674" stroke="#000000"/>
<path d="M841.5 674 843.3 673 845.4 672 847.6 670.9 849.7 669.8 851.7 668.9 853.3 668" stroke="#ff0000"/>
<path d="M853.3 668 854.6 667.4 855.5 667 856.3 666.7 857.1 666.3 858 665.8 859.2 665.1" stroke="#ffff00"/>
<path d="M859.2 665.1 861 664 863.2 662.6 865.5 661 867.8 659.5 869.7 658.3 871.1 657.4" stroke="#00ff00"/>
<path d="M848 655 848.9 656.4 850.1 658.4 851.6 660.8 853.2 663.3 854.8 665.8 856.3 668 857.8 670.1 859.3 672.3 860.9 674.4 862.4 676.4 863.9 678.3 865.2 679.9 866.4 681.3 867.6 682.5 868.7 683.6 869.7 684.5 870.5 685.2 871.1 685.8" stroke="#b000ff"/>
<path d="M846.2 691.7 847.3 691.2 848.6 690.4 850.3 689.5 852.2 688.6 854.2 687.5 856.3 686.4" stroke="#ff9000"/>
<path d="M856.3 686.4 858.7 685.2 861.4 683.7 864.3 682.2 867.1 680.8 869.4 679.6 871.1 678.7" stroke="#00ff00"/>
<path d="M862.2 721.4 871.1 721.4" stroke="#ff0000"/>
<path d="M800 729.7 801.3 730.1 803.1 730.6 805.3 731.3 807.6 732 809.8 732.7 811.8 733.2" stroke="#00ff00"/>
<path d="M811.8 733.2 813.7 733.6 815.7 734 817.6 734.3 819.4 734.5 820.8 734.8 821.9 734.9" stroke="#ffff00"/>
<path d="M800 665.1 800.8 664.6 801.8 663.9 803.1 663 804.4 662.1 805.8 661.2 807.1 660.3 808.4 659.4 809.9 658.4 811.4 657.4 812.8 656.4 814 655.6 814.8 655" stroke="#00ff00"/>
<path d="M738.1 754.9 739.7 755.6 741.9 756.6 744.4 757.7 747.1 758.9 749.6 760.2 751.8 761.4" stroke="#0000ff"/>
<path d="M751.8 761.4 753.6 762.5 755.2 763.7 756.7 764.8 758.1 766 759.4 767.2 760.7 768.5 761.9 769.9 763.1 771.3 764.1 772.8 765.2 774.4 766.2 775.9 767.2 777.4" stroke="#b000ff"/>
<path d="M767.2 777.4 768.1 778.8 769 780.3 769.9 781.7 770.7 783.1 771.6 784.6 772.5 786.3 773.5 788.1 774.5 790 775.5 792 776.5 794.1 777.5 796.1 778.4 798.1 779.3 800.2 780.3 802.5 781.2 804.8 782 806.9 782.7 808.6 783.2 809.9" stroke="#ff00ff"/>
<path d="M808 746.6 805.6 747.3 802.3 748.3 798.4 749.5 794.3 750.8 790.5 752.2 787.3 753.7 784.8 755.2 782.5 756.9 780.4 758.7 778.6 760.5 776.9 762.4 775.5 764.4 774.2 766.4 773.2 768.7 772.4 771 771.8 773.3 771.2 775.4 770.7 777.4 770.3 779.2 770 781 769.8 782.7 769.7 784.1 769.6 785.4 769.5 786.3" stroke="#b000ff"/>
<path d="M747 792.2 748.2 791.1 749.9 789.5 751.8 787.7 753.9 785.7 755.9 783.8 757.7 782.1" stroke="#b000ff"/>
<path d="M757.7 782.1 759.3 780.7 760.9 779.3 762.4 777.9 763.9 776.7 765.3 775.5 766.6 774.4" stroke="#0000ff"/>
<path d="M766.6 774.4 767.7 773.5 768.7 772.8 769.5 772.2 770.4 771.6 771.4 771 772.5 770.3" stroke="#0080ff"/>
<path d="M772.5 770.3 773.8 769.5 775.3 768.7 776.8 767.8 778.3 767 779.9 766.2 781.4 765.5" stroke="#00ffff"/>
<path d="M781.4 765.5 782.9 764.9 784.5 764.3 786 763.7 787.5 763.2 789 762.9 790.3 762.6 791.4 762.4 792.3 762.3 793.1 762.3 793.9 762.4 794.9 762.7 796.2 763.2" stroke="#00ff00"/>
<path d="M796.2 763.2 798 764.1 800.1 765.3 802.5 766.8 804.7 768.2 806.6 769.4 808 770.3" stroke="#000000"/>
<path d="M738.1 787.5 739 786.9 740.2 786 741.6 785 743.1 783.9 744.6 783 745.8 782.1" stroke="#ffff00"/>
<path d="M745.8 782.1 747 781.5 748.2 780.9 749.3 780.3 750.3 779.9 751.2 779.5 751.8 779.2" stroke="#ff0000"/>
<path d="M766.6 766.1 767.2 766.5 768.1 766.9 769.2 767.4 770.3 768 771.5 768.5 772.5 769.1" stroke="#000000"/>
<path d="M772.5 769.1 773.5 769.6 774.4 770.2 775.3 770.8 776.2 771.4 777.3 772 778.4 772.7" stroke="#ffff00"/>
<path d="M778.4 772.7 779.7 773.4 781.2 774.1 782.7 774.9 784.3 775.7 785.8 776.5 787.3 777.4 788.8 778.3 790.2 779.2 791.6 780.2 793 781.2 794.6 782.2 796.2 783.3" stroke="#00ff00"/>
<path d="M796.2 783.3 798.1 784.6 800.4 786 802.7 787.5 804.8 789 806.7 790.2 808 791" stroke="#00ffff"/>
<path d="M738.1 807 738.7 806 739.4 804.6 740.2 802.9 741.1 801.2 742 799.5 742.9 798.1 743.7 796.9 744.6 795.7 745.6 794.6 746.4 793.6 747.1 792.8 747.6 792.2" stroke="#b000ff"/>
<path d="M808 776.2 807.5 776.9 806.7 777.9 805.8 779 804.9 780.3 804 781.8 803.3 783.3 802.8 785 802.3 786.8 802 788.8 801.6 790.8 801.3 793 800.9 795.2 800.6 797.6 800.2 800.4 799.9 803.3 799.6 806 799.4 808.3 799.2 809.9" stroke="#ff00ff"/>
<path d="M756.5 809.9 757.6 809.2 759.2 808.3 761 807.1 762.9 805.9 764.9 804.6 766.6 803.5" stroke="#00ffff"/>
<path d="M766.6 803.5 768.1 802.4 769.5 801.3 770.9 800.1 772.3 799 773.8 798 775.5 796.9" stroke="#00ff00"/>
<path d="M775.5 796.9 777.4 795.9 779.6 794.9 782 793.9 784.1 793 786 792.2 787.3 791.6" stroke="#ff0000"/>
<path d="M788.5 760.8 796.2 761.4" stroke="#ff0000"/>
<path d="M800 730.6 801.3 730.9 803.2 731.4 805.4 732 807.7 732.5 809.9 733.1 811.8 733.6" stroke="#00ffff"/>
<path d="M811.8 733.6 813.5 733.9 815.1 734.2 816.6 734.5 818.1 734.8 819.4 735 820.7 735.3" stroke="#00ff00"/>
<path d="M820.7 735.3 822 735.6 823.3 736 824.6 736.3 825.7 736.6 826.6 736.9 827.3 737.1" stroke="#ff9000"/>
<path d="M827.3 740.7 827.6 741.5 828.1 742.6 828.7 743.9 829.4 745.3 830.1 746.6 830.8 747.8 831.5 748.8 832.1 749.7 832.8 750.6 833.6 751.4 834.5 752 835.5 752.5 836.8 752.8 838.2 752.9 839.7 752.9 841.3 752.8 842.9 752.6 844.4 752.5 845.8 752.4 847.1 752.2 848.3 752 849.7 751.8 851.3 751.6 853.3 751.3" stroke="#ff00ff"/>
<path d="M853.3 751.3 856 751 859.2 750.7 862.8 750.4 866.2 750 869.1 749.8 871.1 749.6" stroke="#0000ff"/>
<path d="M800 749.6 801.3 749.2 803.1 748.7 805.2 748.2 807.5 747.6 809.7 747 811.8 746.6" stroke="#b000ff"/>
<path d="M811.8 746.6 813.8 746.2 815.8 745.8 817.8 745.5 819.7 745.2 821.7 745 823.7 744.8" stroke="#0000ff"/>
<path d="M823.7 744.8 825.8 744.7 828.1 744.7 830.4 744.7 832.5 744.7 834.3 744.8 835.5 744.8" stroke="#00ff00"/>
<path d="M801.8 789.2 802.2 787.9 802.7 786.1 803.3 783.9 804 781.6 804.9 779.3 805.9 777.4 807.1 775.7 808.4 774 809.9 772.5 811.5 771 813.1 769.7 814.8 768.5 816.6 767.5 818.7 766.8 820.7 766.1 822.8 765.5 824.8 765 826.7 764.4 828.3 763.7 829.7 763.1 831.1 762.5 832.5 761.9 833.9 761.3 835.5 760.8" stroke="#ff00ff"/>
<path d="M835.5 760.8 837.4 760.3 839.4 759.9 841.5 759.5 843.6 759.1 845.6 758.8 847.4 758.4" stroke="#b000ff"/>
<path d="M847.4 758.4 849 758.1 850.4 757.8 851.7 757.5 853 757.2 854.5 757 856.3 756.7" stroke="#0000ff"/>
<path d="M856.3 756.7 858.6 756.3 861.3 756 864.2 755.7 867 755.3 869.4 755.1 871.1 754.9" stroke="#00ffff"/>
<path d="M800 765.5 800.9 766.1 802.2 766.7 803.7 767.5 805.4 768.4 807.1 769.4 808.9 770.3" stroke="#00ff00"/>
<path d="M808.9 770.3 810.7 771.2 812.7 772.2 814.8 773.2 816.9 774.2 818.9 775.2 820.7 776.2" stroke="#00ffff"/>
<path d="M820.7 776.2 822.4 777.2 823.9 778.1 825.4 779 826.8 780 828.2 781 829.6 782.1" stroke="#0000ff"/>
<path d="M829.6 782.1 831.1 783.4 832.7 784.9 834.3 786.4 835.8 787.8 837.2 789.2 838.5 790.4" stroke="#7000ff"/>
<path d="M838.5 790.4 839.6 791.3 840.6 791.9 841.5 792.4 842.4 793 843.3 793.8 844.4 795.2" stroke="#b000ff"/>
<path d="M844.4 795.2 845.8 797.2 847.5 799.9 849.2 802.8 850.9 805.7 852.3 808.2 853.3 809.9" stroke="#ff00ff"/>
<path d="M834.4 770.9 835.8 771.4 837.8 772.2 840.1 773 842.7 774 845.1 775.1 847.4 776.2" stroke="#00ff00"/>
<path d="M847.4 776.2 849.4 777.4 851.4 778.7 853.4 780.1 855.3 781.6 857.3 783.1 859.2 784.5" stroke="#00ffff"/>
<path d="M859.2 784.5 861.4 786.1 863.6 787.8 865.9 789.5 868 791.1 869.8 792.4 871.1 793.4" stroke="#0000ff"/>
<path d="M800 786.3 801 787 802.4 788.1 804.1 789.3 805.8 790.6 807.5 791.8 808.9 792.8" stroke="#00ffff"/>
<path d="M808.9 792.8 810 793.6 811.1 794.4 812 795 812.9 795.7 813.9 796.3 814.8 796.9" stroke="#000000"/>
<path d="M814.8 796.9 815.7 797.6 816.6 798.2 817.4 798.7 818.3 799.4 819.4 800.1 820.7 801.1" stroke="#ff0000"/>
<path d="M820.7 801.1 822.5 802.4 824.7 804 827 805.8 829.3 807.5 831.2 808.9 832.6 809.9" stroke="#00ff00"/>
<path d="M811.8 796.9 824.9 809.9" stroke="#0000ff"/>
<path d="M801.8 789.2 800 809.9" stroke="#ff00ff"/>
<path d="M738.1 824.6 739.3 823.6 741 822.3 742.9 820.8 745 819.2 747 817.6 748.8 816.3" stroke="#0000ff"/>
<path d="M748.8 816.3 750.4 815 751.9 813.9 753.4 812.8 754.8 811.7 756.2 810.7 757.7 809.7" stroke="#0080ff"/>
<path d="M757.7 809.7 759.3 808.8 761 807.9 762.7 807 764.3 806.2 765.6 805.5 766.6 805" stroke="#00ffff"/>
<path d="M738.1 818 738.5 817.7 739 817.2 739.6 816.7 740.3 816.1 741 815.6 741.7 815.1" stroke="#000000"/>
<path d="M741.7 815.1 742.5 814.6 743.4 814.2 744.3 813.7 745.2 813.3 745.9 813 746.4 812.7" stroke="#ff0000"/>
<path d="M764.8 864.2 763.6 884.9" stroke="#ff00ff"/>
<path d="M780.8 805 781.5 806.8 782.5 809.3 783.6 812.3 784.8 815.5 786.1 818.7 787.3 821.6 788.5 824.4 789.8 827.3 791.1 830.1 792.5 832.9 793.8 835.4 795 837.6 796.3 839.4 797.5 840.9 798.7 842.1 799.9 843.2 801 844.3 802.1 845.3" stroke="#ff00ff"/>
<path d="M802.1 845.3 803.3 846.3 804.4 847.3 805.5 848.1 806.5 848.9 807.4 849.5 808 850" stroke="#b000ff"/>
<path d="M745.8 841.1 746.6 841.7 747.6 842.4 748.7 843.3 750.1 844.3 751.5 845.4 753 846.5" stroke="#000000"/>
<path d="M753 846.5 754.6 847.6 756.3 848.8 758.2 850.1 760.1 851.5 761.9 852.8 763.6 854.2 765.2 855.6 766.8 857 768.4 858.5 769.8 860 771.2 861.3 772.5 862.5" stroke="#ff0000"/>
<path d="M772.5 862.5 773.7 863.4 774.9 864.3 776 865.1 777 865.7 777.8 866.2 778.4 866.6" stroke="#000000"/>
<path d="M738.1 860.7 739.3 860.4 740.8 860.1 742.6 859.7 744.6 859.3 746.7 858.8 748.8 858.3" stroke="#ff00ff"/>
<path d="M748.8 858.3 751 857.8 753.3 857.3 755.7 856.7 758.1 856.1 760.3 855.5 762.4 854.8" stroke="#b000ff"/>
<path d="M762.4 854.8 764.3 854 766 853.1 767.6 852.2 769.2 851.3 770.8 850.3 772.5 849.4" stroke="#0000ff"/>
<path d="M772.5 849.4 774.4 848.5 776.4 847.6 778.5 846.7 780.6 845.8 782.5 845 784.4 844.1" stroke="#00ffff"/>
<path d="M784.4 844.1 786 843.3 787.7 842.4 789.2 841.6 790.6 840.8 792 840.1 793.2 839.4" stroke="#00ff00"/>
<path d="M793.2 839.4 794.4 838.7 795.3 838.1 796.2 837.6 797.1 837 798.1 836.5 799.2 835.8" stroke="#ffff00"/>
<path d="M799.2 835.8 800.6 835 802.2 834.1 804 833.2 805.6 832.3 807 831.6 808 831.1" stroke="#ff0000"/>
<path d="M738.1 863.1 739.3 863.8 740.9 864.8 742.7 866 744.8 867.2 746.8 868.3 748.8 869" stroke="#00ff00"/>
<path d="M748.8 869 750.8 869.4 752.8 869.5 754.8 869.5 756.9 869.4 758.8 869.2 760.7 869" stroke="#ffff00"/>
<path d="M760.7 869 762.3 868.8 763.7 868.5 765.1 868.1 766.5 867.7 767.9 867.2 769.5 866.6" stroke="#ff9000"/>
<path d="M769.5 866.6 771.4 866 773.4 865.2 775.5 864.3 777.6 863.5 779.6 862.6 781.4 861.9 783.2 861.2 784.9 860.5 786.6 859.8 788.1 859.2 789.4 858.7 790.3 858.3" stroke="#ff0000"/>
<path d="M779 856 779.6 856.3 780.3 856.9 781.1 857.5 782.1 858.2 783.2 859.1 784.4 860.1" stroke="#ff0000"/>
<path d="M784.4 860.1 785.6 861.3 787.1 862.8 788.6 864.4 790.2 866 791.8 867.6 793.2 869 794.8 870.4 796.4 871.8 798 873.1 799.4 874.3 800.6 875.3 801.5 876.1" stroke="#000000"/>
<path d="M770.7 884.9 772.5 883.7 774.9 881.9 777.7 879.8 780.9 877.6 784.1 875.3 787.3 873.1 790.8 870.9 794.7 868.4 798.7 865.9 802.5 863.5 805.7 861.5 808 860.1" stroke="#b000ff"/>
<path d="M801.5 827.5 808 831.7" stroke="#000000"/>
<path d="M820.7 805 822.3 806.9 824.6 809.6 827.2 812.8 830.1 816.2 832.9 819.6 835.5 822.8 838.1 825.9 840.7 829.1 843.3 832.3 845.9 835.4 848.2 838.2 850.4 840.5 852.2 842.3 853.7 843.7 855 844.7 856.3 845.6 857.7 846.6 859.2 847.7 861.2 849 863.4 850.5 865.7 852 867.9 853.3 869.8 854.5 871.1 855.4" stroke="#0000ff"/>
<path d="M824.9 805 826 805.9 827.5 807.1 829.3 808.5 831.3 810.2 833.4 812 835.5 813.9" stroke="#00ffff"/>
<path d="M835.5 813.9 837.8 816 840.3 818.5 842.9 821 845.5 823.7 848 826.3 850.4 828.7" stroke="#0080ff"/>
<path d="M850.4 828.7 852.5 831 854.6 833.3 856.7 835.5 858.6 837.6 860.4 839.7 862.2 841.7 864 843.8 865.7 845.9 867.4 847.9 868.9 849.7 870.2 851.3 871.1 852.4" stroke="#0000ff"/>
<path d="M848.6 805 849.8 806.6 851.4 808.9 853.4 811.6 855.4 814.4 857.4 817.2 859.2 819.8 860.9 822.3 862.7 824.9 864.4 827.6 865.9 829.9 867.2 832 868.1 833.4" stroke="#ff00ff"/>
<path d="M871.1 807.4 870 808.8 868.6 810.7 866.8 813 865 815.4 863.2 817.7 861.6 819.8" stroke="#b000ff"/>
<path d="M861.6 819.8 860.3 821.6 859 823.2 857.8 824.8 856.7 826.4 855.6 828 854.5 829.9" stroke="#000000"/>
<path d="M854.5 829.9 853.5 831.9 852.6 834.1 851.7 836.4 850.8 838.7 850 841.1 849.2 843.5 848.4 845.9 847.6 848.4 846.8 850.8 846.1 853.3 845.3 855.8 844.4 858.3 843.5 860.8 842.4 863.4 841.4 865.9 840.3 868.4 839.3 870.8 838.5 873.1 837.8 875.4 837.2 877.7 836.7 880 836.2 882 835.8 883.7 835.5 884.9" stroke="#b000ff"/>
<path d="M801.8 827.5 802.2 827.9 802.7 828.5 803.3 829.2 804 829.9 804.9 830.8 805.9 831.7" stroke="#000000"/>
<path d="M805.9 831.7 807.1 832.6 808.5 833.5 810.1 834.5 811.7 835.6 813.3 836.8 814.8 838.2" stroke="#ff0000"/>
<path d="M814.8 838.2 816.3 839.8 817.7 841.5 819.1 843.4 820.5 845.3 822 847.4 823.7 849.4 825.5 851.6 827.4 853.9 829.4 856.3 831.5 858.7 833.5 861 835.5 863.1 837.6 865 839.6 866.8 841.7 868.6 843.7 870.2 845.6 871.7 847.4 873.1" stroke="#00ffff"/>
<path d="M847.4 873.1 849.1 874.4 850.6 875.5 852 876.4 853.4 877.3 854.8 878.2 856.3 879.1" stroke="#00ff00"/>
<path d="M856.3 879.1 857.9 880 859.6 880.9 861.3 881.8 862.9 882.6 864.2 883.3 865.2 883.8" stroke="#ffff00"/>
<path d="M800 843.5 801 844.2 802.3 845.2 803.9 846.3 805.6 847.5 807.3 848.6 808.9 849.4 810.4 850.1 811.8 850.7 813.3 851.2 814.8 851.7 816.3 852 817.8 852.4" stroke="#b000ff"/>
<path d="M817.8 852.4 819.2 852.7 820.6 853 822 853.2 823.5 853.4 825 853.5 826.7 853.6" stroke="#0000ff"/>
<path d="M826.7 853.6 828.5 853.5 830.4 853.5 832.4 853.3 834.5 853.1 836.5 852.8 838.5 852.4" stroke="#00ffff"/>
<path d="M838.5 852.4 840.6 851.9 842.7 851.3 844.8 850.7 846.8 850 848.7 849.4 850.4 848.8" stroke="#00ff00"/>
<path d="M850.4 848.8 851.8 848.4 853 847.9 854.1 847.4 855 847 855.7 846.7 856.3 846.5" stroke="#ffff00"/>
<path d="M800 866.6 801.3 865.7 803.1 864.4 805.2 863 807.5 861.4 809.7 859.8 811.8 858.3" stroke="#0000ff"/>
<path d="M811.8 858.3 813.9 857 815.9 855.7 818 854.4 820 853.1 821.9 851.8 823.7 850.6" stroke="#0080ff"/>
<path d="M823.7 850.6 825.4 849.5 826.9 848.3 828.3 847.2 829.7 846.1 831.1 845.1 832.6 844.1 834.2 843.1 835.9 842 837.6 841 839.2 840.1 840.5 839.3 841.5 838.8" stroke="#00ff00"/>
<path d="M871.1 833.4 869.8 834.7 868.1 836.4 866.1 838.4 863.9 840.6 861.5 842.9 859.2 845.3" stroke="#0080ff"/>
<path d="M859.2 845.3 856.9 847.8 854.4 850.5 851.8 853.3 849.3 856.1 846.8 858.8 844.4 861.3" stroke="#0000ff"/>
<path d="M844.4 861.3 842.3 863.5 840.2 865.5 838.1 867.5 836.2 869.3 834.4 871.2 832.6 873.1 830.8 875.2 829.1 877.5 827.4 879.8 825.9 881.9 824.6 883.6 823.7 884.9" stroke="#b000ff"/>
<path d="M871.1 835.8 870.5 837.6 869.6 840.1 868.5 843 867.4 846.2 866.2 849.4 865.2 852.4 864.2 855.3 863.1 858.3 862.1 861.4 861.1 864.4 860.1 867.4 859.2 870.2 858.4 873 857.6 875.9 856.8 878.7 856.1 881.2 855.5 883.4 855.1 884.9" stroke="#ff00ff"/>
<path d="M800 835.8 800.6 835.6 801.5 835.2 802.6 834.8 803.7 834.3 804.9 833.9 805.9 833.4" stroke="#ffff00"/>
<path d="M805.9 833.4 807 833 808.1 832.6 809.3 832.1 810.3 831.7 811.2 831.3 811.8 831.1" stroke="#ff0000"/>
<path d="M806.5 880.2 812.4 884.9" stroke="#ff0000"/>
<path d="M761.8 893.8 763.3 892.4 765.4 890.2 767.9 887.8 770.6 885.2 773.1 882.8 775.5 880.8" stroke="#0000ff"/>
<path d="M775.5 880.8 777.6 879.3 779.7 877.9 781.7 876.7 783.7 875.7 785.5 874.7 787.3 873.7 788.9 872.8 790.4 872.1 791.8 871.4 793.1 870.8 794.6 870 796.2 869" stroke="#b000ff"/>
<path d="M796.2 869 798.1 867.6 800.4 866 802.7 864.2 804.8 862.5 806.7 861.1 808 860.1" stroke="#0000ff"/>
<path d="M764.8 869.6 764.7 871.4 764.5 873.9 764.3 876.9 764.1 880.1 763.9 883 763.6 885.5 763.3 887.7 763 889.7 762.7 891.6 762.3 893.2 762 894.6 761.8 895.6" stroke="#ff00ff"/>
<path d="M853.3 850.6 852 852 850.3 854 848.1 856.3 845.9 858.8 843.6 861.3 841.5 863.6 839.5 865.8 837.4 868 835.4 870.2 833.4 872.4 831.4 874.6 829.6 876.7" stroke="#0000ff"/>
<path d="M829.6 876.7 827.9 878.8 826.3 880.9 824.7 883 823.2 885 821.9 886.8 820.7 888.5 819.7 890.1 818.8 891.5 818.1 892.8 817.5 894 817 894.9 816.6 895.6" stroke="#b000ff"/>
<path d="M846.2 852.4 845.6 854.2 844.6 856.8 843.5 859.8 842.4 863 841.3 866.1 840.3 869 839.4 871.5 838.6 873.9 837.8 876.3 837 878.7 836.3 880.9 835.5 883.2 834.8 885.5 834.1 887.9 833.5 890.3 832.9 892.5 832.4 894.3 832 895.6" stroke="#b000ff"/>
<path d="M865.2 851.2 864.5 853.8 863.6 857.4 862.5 861.7 861.4 866.2 860.2 870.3 859.2 873.7 858.4 876.3 857.5 878.5 856.7 880.4 856 882.1 855.2 883.8 854.5 885.5 853.8 887.4 853.1 889.4 852.4 891.3 851.8 893.1 851.3 894.5 851 895.6" stroke="#ff00ff"/>
<path d="M826.7 851.8 828 853.2 829.7 855.2 831.8 857.6 834.1 860.2 836.4 862.6 838.5 864.8 840.6 866.8 842.7 868.8 844.8 870.7 846.8 872.5 848.7 874.1 850.4 875.5" stroke="#00ffff"/>
<path d="M850.4 875.5 851.7 876.5 852.7 877.3 853.5 877.9 854.3 878.4 855.2 879 856.3 879.6" stroke="#00ff00"/>
<path d="M856.3 879.6 857.7 880.4 859.4 881.3 861.1 882.3 862.8 883.1 864.2 883.8 865.2 884.4" stroke="#ffff00"/>
<path d="M871.1 879 870.4 880.1 869.5 881.6 868.4 883.3 867.2 885.2 866.1 887 865.2 888.5 864.4 889.9 863.7 891.3 863 892.7 862.5 893.9 862 894.9 861.6 895.6" stroke="#0000ff"/>
<path d="M806.5 880.8 807.5 881.7 808.9 883 810.5 884.5 812.1 886.1 813.6 887.4 814.8 888.5" stroke="#ff0000"/>
<path d="M814.8 888.5 815.6 889.2 816.3 889.8 816.8 890.2 817.2 890.5 817.5 890.7 817.8 890.9" stroke="#000000"/>
<path d="M800 866.6 801.3 865.7 803.1 864.5 805.2 863.1 807.5 861.7 809.7 860.2 811.8 858.9" stroke="#0000ff"/>
<path d="M811.8 858.9 814 857.7 816.2 856.4 818.5 855.1 820.6 854 822.4 853.1 823.7 852.4" stroke="#0080ff"/>
</g><g clip-path="url(#clipB)"><polyline points="759.5,586 757,633 756,659 754,697 752,708" fill="none" stroke="#b000ff" stroke-width="3" stroke-dasharray="3 4"/><polyline points="769,790 767,829 765.5,846 763.6,864 763,885" fill="none" stroke="#b000ff" stroke-width="3" stroke-dasharray="3 4"/><polyline points="821.3,639 823,651 824,685 825.5,714 827,740" fill="none" stroke="#ff00ff" stroke-width="3" stroke-dasharray="3 4"/><polyline points="799.8,805 798.6,829 797.4,846 796.2,864 795,897" fill="none" stroke="#ff00ff" stroke-width="3" stroke-dasharray="3 4"/></g>
<line x1="736" y1="635.50" x2="1366" y2="635.50" stroke="#000" stroke-width="1"/>
<line x1="736" y1="635.50" x2="742" y2="635.50" stroke="#000" stroke-width="2"/>
<line x1="1360" y1="635.50" x2="1366" y2="635.50" stroke="#000" stroke-width="2"/>
<line x1="736" y1="688.50" x2="1366" y2="688.50" stroke="#000" stroke-width="1"/>
<line x1="736" y1="688.50" x2="742" y2="688.50" stroke="#000" stroke-width="2"/>
<line x1="1360" y1="688.50" x2="1366" y2="688.50" stroke="#000" stroke-width="2"/>
<line x1="736" y1="740.50" x2="1366" y2="740.50" stroke="#000" stroke-width="1"/>
<line x1="736" y1="740.50" x2="742" y2="740.50" stroke="#000" stroke-width="2"/>
<line x1="1360" y1="740.50" x2="1366" y2="740.50" stroke="#000" stroke-width="2"/>
<line x1="736" y1="793.50" x2="1366" y2="793.50" stroke="#000" stroke-width="1"/>
<line x1="736" y1="793.50" x2="742" y2="793.50" stroke="#000" stroke-width="2"/>
<line x1="1360" y1="793.50" x2="1366" y2="793.50" stroke="#000" stroke-width="2"/>
<line x1="736" y1="845.50" x2="1366" y2="845.50" stroke="#000" stroke-width="1"/>
<line x1="736" y1="845.50" x2="742" y2="845.50" stroke="#000" stroke-width="2"/>
<line x1="1360" y1="845.50" x2="1366" y2="845.50" stroke="#000" stroke-width="2"/>
<line x1="762.25" y1="897.7" x2="762.25" y2="894.5" stroke="#000" stroke-width="2"/>
<line x1="762.25" y1="583.0" x2="762.25" y2="586.2" stroke="#000" stroke-width="2"/>
<line x1="788.50" y1="897.7" x2="788.50" y2="894.5" stroke="#000" stroke-width="2"/>
<line x1="788.50" y1="583.0" x2="788.50" y2="586.2" stroke="#000" stroke-width="2"/>
<line x1="814.75" y1="897.7" x2="814.75" y2="892.2" stroke="#000" stroke-width="2"/>
<line x1="814.75" y1="583.0" x2="814.75" y2="588.5" stroke="#000" stroke-width="2"/>
<line x1="841.00" y1="897.7" x2="841.00" y2="894.5" stroke="#000" stroke-width="2"/>
<line x1="841.00" y1="583.0" x2="841.00" y2="586.2" stroke="#000" stroke-width="2"/>
<line x1="867.25" y1="897.7" x2="867.25" y2="894.5" stroke="#000" stroke-width="2"/>
<line x1="867.25" y1="583.0" x2="867.25" y2="586.2" stroke="#000" stroke-width="2"/>
<line x1="893.50" y1="897.7" x2="893.50" y2="892.2" stroke="#000" stroke-width="2"/>
<line x1="893.50" y1="583.0" x2="893.50" y2="588.5" stroke="#000" stroke-width="2"/>
<line x1="919.75" y1="897.7" x2="919.75" y2="894.5" stroke="#000" stroke-width="2"/>
<line x1="919.75" y1="583.0" x2="919.75" y2="586.2" stroke="#000" stroke-width="2"/>
<line x1="946.00" y1="897.7" x2="946.00" y2="894.5" stroke="#000" stroke-width="2"/>
<line x1="946.00" y1="583.0" x2="946.00" y2="586.2" stroke="#000" stroke-width="2"/>
<line x1="972.25" y1="897.7" x2="972.25" y2="892.2" stroke="#000" stroke-width="2"/>
<line x1="972.25" y1="583.0" x2="972.25" y2="588.5" stroke="#000" stroke-width="2"/>
<line x1="998.50" y1="897.7" x2="998.50" y2="894.5" stroke="#000" stroke-width="2"/>
<line x1="998.50" y1="583.0" x2="998.50" y2="586.2" stroke="#000" stroke-width="2"/>
<line x1="1024.75" y1="897.7" x2="1024.75" y2="894.5" stroke="#000" stroke-width="2"/>
<line x1="1024.75" y1="583.0" x2="1024.75" y2="586.2" stroke="#000" stroke-width="2"/>
<line x1="1051.00" y1="897.7" x2="1051.00" y2="892.2" stroke="#000" stroke-width="2"/>
<line x1="1051.00" y1="583.0" x2="1051.00" y2="588.5" stroke="#000" stroke-width="2"/>
<line x1="1077.25" y1="897.7" x2="1077.25" y2="894.5" stroke="#000" stroke-width="2"/>
<line x1="1077.25" y1="583.0" x2="1077.25" y2="586.2" stroke="#000" stroke-width="2"/>
<line x1="1103.50" y1="897.7" x2="1103.50" y2="894.5" stroke="#000" stroke-width="2"/>
<line x1="1103.50" y1="583.0" x2="1103.50" y2="586.2" stroke="#000" stroke-width="2"/>
<line x1="1129.75" y1="897.7" x2="1129.75" y2="892.2" stroke="#000" stroke-width="2"/>
<line x1="1129.75" y1="583.0" x2="1129.75" y2="588.5" stroke="#000" stroke-width="2"/>
<line x1="1156.00" y1="897.7" x2="1156.00" y2="894.5" stroke="#000" stroke-width="2"/>
<line x1="1156.00" y1="583.0" x2="1156.00" y2="586.2" stroke="#000" stroke-width="2"/>
<line x1="1182.25" y1="897.7" x2="1182.25" y2="894.5" stroke="#000" stroke-width="2"/>
<line x1="1182.25" y1="583.0" x2="1182.25" y2="586.2" stroke="#000" stroke-width="2"/>
<line x1="1208.50" y1="897.7" x2="1208.50" y2="892.2" stroke="#000" stroke-width="2"/>
<line x1="1208.50" y1="583.0" x2="1208.50" y2="588.5" stroke="#000" stroke-width="2"/>
<line x1="1234.75" y1="897.7" x2="1234.75" y2="894.5" stroke="#000" stroke-width="2"/>
<line x1="1234.75" y1="583.0" x2="1234.75" y2="586.2" stroke="#000" stroke-width="2"/>
<line x1="1261.00" y1="897.7" x2="1261.00" y2="894.5" stroke="#000" stroke-width="2"/>
<line x1="1261.00" y1="583.0" x2="1261.00" y2="586.2" stroke="#000" stroke-width="2"/>
<line x1="1287.25" y1="897.7" x2="1287.25" y2="892.2" stroke="#000" stroke-width="2"/>
<line x1="1287.25" y1="583.0" x2="1287.25" y2="588.5" stroke="#000" stroke-width="2"/>
<line x1="1313.50" y1="897.7" x2="1313.50" y2="894.5" stroke="#000" stroke-width="2"/>
<line x1="1313.50" y1="583.0" x2="1313.50" y2="586.2" stroke="#000" stroke-width="2"/>
<line x1="1339.75" y1="897.7" x2="1339.75" y2="894.5" stroke="#000" stroke-width="2"/>
<line x1="1339.75" y1="583.0" x2="1339.75" y2="586.2" stroke="#000" stroke-width="2"/>
<rect x="736" y="583.0" width="630" height="314.70000000000005" fill="none" stroke="#000" stroke-width="4.4"/>
<text x="1411" y="590.8" font-size="22" text-anchor="end" fill="#000" >360</text>
<text x="1411" y="643.25" font-size="22" text-anchor="end" fill="#000" >300</text>
<text x="1411" y="695.6999999999999" font-size="22" text-anchor="end" fill="#000" >240</text>
<text x="1411" y="748.15" font-size="22" text-anchor="end" fill="#000" >180</text>
<text x="1411" y="800.6" font-size="22" text-anchor="end" fill="#000" >120</text>
<text x="1411" y="853.05" font-size="22" text-anchor="end" fill="#000" >60</text>
<text x="1411" y="905.5" font-size="22" text-anchor="end" fill="#000" >0</text>
<text x="736.0" y="922" font-size="22" text-anchor="middle" fill="#000" >0</text>
<text x="814.75" y="922" font-size="22" text-anchor="middle" fill="#000" >3</text>
<text x="893.5" y="922" font-size="22" text-anchor="middle" fill="#000" >6</text>
<text x="972.25" y="922" font-size="22" text-anchor="middle" fill="#000" >9</text>
<text x="1051.0" y="922" font-size="22" text-anchor="middle" fill="#000" >12</text>
<text x="1129.75" y="922" font-size="22" text-anchor="middle" fill="#000" >15</text>
<text x="1208.5" y="922" font-size="22" text-anchor="middle" fill="#000" >18</text>
<text x="1287.25" y="922" font-size="22" text-anchor="middle" fill="#000" >21</text>
<text x="1366.0" y="922" font-size="22" text-anchor="middle" fill="#000" >24</text>
<text transform="translate(1438.5 741) rotate(-90)" font-size="22" text-anchor="middle">Azimut (grados)</text>
<defs><clipPath id="clipC"><rect x="738" y="979.2" width="626" height="310.3"/></clipPath></defs><g clip-path="url(#clipC)" fill="none" stroke-width="1.7" stroke-linecap="round" stroke-linejoin="round">
<path d="M736 1053.6 737.6 1048.2 739.1 1042.7 740.7 1037.3 742.3 1031.8 743.9 1026.4 745.5 1020.9 747 1015.5 748.6 1010.1 750.2 1004.6 751.8 999.2 753.3 993.9 754.9 988.8 756.5 985.4 758 988.8 759.6 993.9 761.2 999.2 762.8 1004.6 764.4 1010.1 765.9 1015.5 767.5 1020.9 769.1 1026.4 770.6 1031.8 772.2 1037.3 773.8 1042.7 775.4 1048.2 777 1053.6 778.5 1059.1 780.1 1064.5 781.7 1070 783.2 1075.4 784.8 1080.9 786.4 1086.3 788 1091.8 789.6 1097.2 791.1 1102.7 792.7 1108.1 794.3 1113.6 795.9 1119" stroke="#b000ff"/>
<path d="M795.9 1119 797.4 1124.5 799 1129.9 800.6 1135.4 802.2 1140.8" stroke="#6500ff"/>
<path d="M802.2 1140.8 803.7 1146.3 805.3 1151.7" stroke="#3200ff"/>
<path d="M805.3 1151.7 806.9 1157.2 808.5 1162.6" stroke="#0000ff"/>
<path d="M808.5 1162.6 810 1168.1 811.6 1173.5 813.2 1179 814.8 1184.4" stroke="#0033ff"/>
<path d="M814.8 1184.4 816.3 1189.9 817.9 1195.3" stroke="#0066ff"/>
<path d="M817.9 1195.3 819.5 1200.8 821.1 1206.3" stroke="#00cbff"/>
<path d="M821.1 1206.3 822.6 1211.7 824.2 1217.2" stroke="#00ffff"/>
<path d="M824.2 1217.2 825.8 1222.6 827.4 1228.1" stroke="#00ffcb"/>
<path d="M827.4 1228.1 828.9 1233.5 830.5 1239" stroke="#00ff66"/>
<path d="M830.5 1239 832.1 1244.4 833.7 1249.9" stroke="#00ff00"/>
<path d="M833.7 1249.9 835.2 1255.3 836.8 1260.8" stroke="#33ff00"/>
<path d="M836.8 1260.8 838.4 1266.2 840 1271.7" stroke="#cbff00"/>
<path d="M840 1271.7 841.5 1277.1 843.1 1282.6" stroke="#ffcc00"/>
<path d="M843.1 1282.6 844.7 1288 846.2 1289.9" stroke="#ff6600"/>
<path d="M736 1093.9 737.6 1088.4 739.1 1083 740.7 1077.5 742.3 1072.1 743.9 1066.6 745.5 1061.2 747 1055.7 748.6 1050.3 750.2 1044.8 751.8 1039.4 753.3 1033.9 754.9 1028.5 756.5 1023 758 1017.6 759.6 1012.2 761.2 1006.7 762.8 1001.3 764.4 996 765.9 990.9 767.5 987.5 769.1 990.9 770.6 996 772.2 1001.3 773.8 1006.7 775.4 1012.2 777 1017.6 778.5 1023 780.1 1028.5 781.7 1033.9 783.2 1039.4 784.8 1044.8 786.4 1050.3 788 1055.7 789.6 1061.2 791.1 1066.6 792.7 1072.1 794.3 1077.5 795.9 1083 797.4 1088.4 799 1093.9 800.6 1099.3 802.2 1104.8 803.7 1110.2 805.3 1115.7 806.9 1121.1 808.5 1126.6" stroke="#b000ff"/>
<path d="M808.5 1126.6 810 1132 811.6 1137.5" stroke="#6500ff"/>
<path d="M811.6 1137.5 813.2 1142.9 814.8 1148.4" stroke="#3200ff"/>
<path d="M814.8 1148.4 816.3 1153.8 817.9 1159.3 819.5 1164.7 821.1 1170.2" stroke="#0000ff"/>
<path d="M821.1 1170.2 822.6 1175.6 824.2 1181.1" stroke="#0033ff"/>
<path d="M824.2 1181.1 825.8 1186.5 827.4 1192" stroke="#0066ff"/>
<path d="M827.4 1192 828.9 1197.4 830.5 1202.9" stroke="#0099ff"/>
<path d="M830.5 1202.9 832.1 1208.4 833.7 1213.8" stroke="#00cbff"/>
<path d="M833.7 1213.8 835.2 1219.3 836.8 1224.7" stroke="#00ffcb"/>
<path d="M836.8 1224.7 838.4 1230.2 840 1235.6" stroke="#00ff66"/>
<path d="M840 1235.6 841.5 1241.1 843.1 1246.5" stroke="#00ff32"/>
<path d="M843.1 1246.5 844.7 1252 846.2 1257.4" stroke="#99ff00"/>
<path d="M846.2 1257.4 847.8 1262.9 849.4 1268.3" stroke="#ffff00"/>
<path d="M849.4 1268.3 851 1273.8 852.5 1279.2" stroke="#cbff00"/>
<path d="M852.5 1279.2 854.1 1284.7 855.7 1289.9" stroke="#ffff00"/>
<path d="M736 1195.9 737.6 1190.5 739.1 1185" stroke="#00cbff"/>
<path d="M739.1 1185 740.7 1179.6 742.3 1174.1" stroke="#0066ff"/>
<path d="M742.3 1174.1 743.9 1168.6 745.5 1163.2 747 1157.7 748.6 1152.3" stroke="#0033ff"/>
<path d="M748.6 1152.3 750.2 1146.8 751.8 1141.4" stroke="#0000ff"/>
<path d="M751.8 1141.4 753.3 1135.9 754.9 1130.5" stroke="#3200ff"/>
<path d="M754.9 1130.5 756.5 1125 758 1119.6 759.6 1114.1 761.2 1108.7" stroke="#6500ff"/>
<path d="M761.2 1108.7 762.8 1103.2 764.4 1097.8 765.9 1092.3 767.5 1086.9 769.1 1081.4 770.6 1076 772.2 1070.5 773.8 1065.1 775.4 1059.6 777 1054.2 778.5 1048.7 780.1 1043.3 781.7 1037.8 783.2 1032.4 784.8 1026.9 786.4 1021.5 788 1016.1 789.6 1010.6 791.1 1005.2 792.7 999.8 794.3 994.4 795.9 989.2 797.4 985.2 799 987.6 800.6 992.7 802.2 998 803.7 1003.4 805.3 1008.8 806.9 1014.2 808.5 1019.7 810 1025.1 811.6 1030.6 813.2 1036 814.8 1041.5 816.3 1046.9 817.9 1052.3 819.5 1057.8 821.1 1063.2 822.6 1068.7 824.2 1074.1 825.8 1079.6 827.4 1085 828.9 1090.5 830.5 1096 832.1 1101.4 833.7 1106.9 835.2 1112.3 836.8 1117.8" stroke="#ff00ff"/>
<path d="M836.8 1117.8 838.4 1123.2 840 1128.7 841.5 1134.1 843.1 1139.6" stroke="#6500ff"/>
<path d="M843.1 1139.6 844.7 1145 846.2 1150.5" stroke="#3200ff"/>
<path d="M846.2 1150.5 847.8 1155.9 849.4 1161.4 851 1166.8 852.5 1172.3" stroke="#0000ff"/>
<path d="M852.5 1172.3 854.1 1177.7 855.7 1183.2" stroke="#0033ff"/>
<path d="M855.7 1183.2 857.3 1188.6 858.8 1194.1" stroke="#0066ff"/>
<path d="M858.8 1194.1 860.4 1199.5 862 1205" stroke="#0099ff"/>
<path d="M862 1205 863.6 1210.4 865.1 1215.9" stroke="#00ffff"/>
<path d="M865.1 1215.9 866.7 1221.4 868.3 1226.8" stroke="#00ffcb"/>
<path d="M868.3 1226.8 869.9 1232.3" stroke="#00ff66"/>
<path d="M736 1287.6 737.6 1282.1 739.1 1276.7" stroke="#ff3200"/>
<path d="M739.1 1276.7 740.7 1271.2 742.3 1265.7" stroke="#ff0000"/>
<path d="M742.3 1265.7 743.9 1260.3 745.5 1254.8" stroke="#ff9900"/>
<path d="M745.5 1254.8 747 1249.4 748.6 1243.9" stroke="#cbff00"/>
<path d="M748.6 1243.9 750.2 1238.5 751.8 1233" stroke="#33ff00"/>
<path d="M751.8 1233 753.3 1227.6 754.9 1222.1" stroke="#00ff32"/>
<path d="M754.9 1222.1 756.5 1216.7 758 1211.2" stroke="#00ff99"/>
<path d="M758 1211.2 759.6 1205.8 761.2 1200.3" stroke="#00ffff"/>
<path d="M761.2 1200.3 762.8 1194.9 764.4 1189.4" stroke="#00cbff"/>
<path d="M764.4 1189.4 765.9 1184 767.5 1178.5" stroke="#0099ff"/>
<path d="M767.5 1178.5 769.1 1173.1 770.6 1167.6" stroke="#0066ff"/>
<path d="M770.6 1167.6 772.2 1162.1 773.8 1156.7" stroke="#0033ff"/>
<path d="M773.8 1156.7 775.4 1151.2 777 1145.8" stroke="#0000ff"/>
<path d="M777 1145.8 778.5 1140.3 780.1 1134.9 781.7 1129.4 783.2 1124" stroke="#3200ff"/>
<path d="M783.2 1124 784.8 1118.5 786.4 1113.1" stroke="#6500ff"/>
<path d="M786.4 1113.1 788 1107.6 789.6 1102.2 791.1 1096.7 792.7 1091.3 794.3 1085.8 795.9 1080.4 797.4 1074.9 799 1069.5 800.6 1064 802.2 1058.6 803.7 1053.1 805.3 1047.7 806.9 1042.2 808.5 1036.8 810 1031.3 811.6 1025.9 813.2 1020.4 814.8 1015 816.3 1009.6 817.9 1004.1 819.5 998.7 821.1 993.4 822.6 988.2 824.2 984.1 825.8 986.6 827.4 991.6 828.9 997 830.5 1002.3 832.1 1007.8 833.7 1013.2 835.2 1018.6 836.8 1024.1 838.4 1029.5 840 1035 841.5 1040.4 843.1 1045.9 844.7 1051.3 846.2 1056.7 847.8 1062.2 849.4 1067.6 851 1073.1 852.5 1078.5 854.1 1084 855.7 1089.5 857.3 1094.9 858.8 1100.4 860.4 1105.8 862 1111.3 863.6 1116.7 865.1 1122.2" stroke="#ff00ff"/>
<path d="M865.1 1122.2 866.7 1127.6 868.3 1133.1" stroke="#6500ff"/>
<path d="M868.3 1133.1 869.9 1138.5" stroke="#3200ff"/>
<path d="M736 1061.9 737.6 1058 739.1 1054.4 740.7 1051.1 742.3 1048.3 743.9 1046 745.5 1044.4 747 1043.5 748.6 1043.5 750.2 1044.4 751.8 1046 753.3 1048.3 754.9 1051.1 756.5 1054.4 758 1058 759.6 1061.9 761.2 1065.9 762.8 1070.2 764.4 1074.5 765.9 1079 767.5 1083.5 769.1 1088.1 770.6 1092.7 772.2 1097.4 773.8 1102.1 775.4 1106.9 777 1111.7 778.5 1116.5 780.1 1121.3" stroke="#ff00ff"/>
<path d="M780.1 1121.3 781.7 1126.2 783.2 1131.1 784.8 1135.9 786.4 1140.8" stroke="#6500ff"/>
<path d="M786.4 1140.8 788 1145.7 789.6 1150.6" stroke="#3200ff"/>
<path d="M789.6 1150.6 791.1 1155.6 792.7 1160.5 794.3 1165.4 795.9 1170.4" stroke="#0000ff"/>
<path d="M795.9 1170.4 797.4 1175.3 799 1180.3" stroke="#0033ff"/>
<path d="M799 1180.3 800.6 1185.2 802.2 1190.2" stroke="#0066ff"/>
<path d="M802.2 1190.2 803.7 1195.1 805.3 1200.1" stroke="#0099ff"/>
<path d="M805.3 1200.1 806.9 1205.1 808.5 1210.1" stroke="#00cbff"/>
<path d="M808.5 1210.1 810 1215 811.6 1220" stroke="#00ffff"/>
<path d="M811.6 1220 813.2 1225 814.8 1230" stroke="#00ff99"/>
<path d="M814.8 1230 816.3 1235 817.9 1240" stroke="#00ff32"/>
<path d="M817.9 1240 819.5 1245 821.1 1249.9 822.6 1254.9 824.2 1259.9" stroke="#00ff00"/>
<path d="M824.2 1259.9 825.8 1264.9 827.4 1269.9" stroke="#99ff00"/>
<path d="M827.4 1269.9 828.9 1274.9 830.5 1279.9" stroke="#ffff00"/>
<path d="M830.5 1279.9 832.1 1284.9 833.7 1289.9" stroke="#ff3200"/>
<path d="M833.7 1289.9 835.2 1289.9" stroke="#ff9900"/>
<path d="M775.4 1289.9 777 1288.3 778.5 1282.9" stroke="#ff3200"/>
<path d="M778.5 1282.9 780.1 1277.5 781.7 1272" stroke="#ff0000"/>
<path d="M781.7 1272 783.2 1266.6 784.8 1261.2" stroke="#ff3200"/>
<path d="M784.8 1261.2 786.4 1255.8 788 1250.3" stroke="#cbff00"/>
<path d="M788 1250.3 789.6 1244.9 791.1 1239.5" stroke="#65ff00"/>
<path d="M791.1 1239.5 792.7 1234.1 794.3 1228.7" stroke="#00ff00"/>
<path d="M794.3 1228.7 795.9 1223.3 797.4 1217.9" stroke="#00ff66"/>
<path d="M797.4 1217.9 799 1212.5 800.6 1207.1" stroke="#00ffcb"/>
<path d="M800.6 1207.1 802.2 1201.7 803.7 1196.3" stroke="#00ffff"/>
<path d="M803.7 1196.3 805.3 1190.9 806.9 1185.5" stroke="#00cbff"/>
<path d="M806.9 1185.5 808.5 1180.1 810 1174.7" stroke="#0066ff"/>
<path d="M810 1174.7 811.6 1169.3 813.2 1164 814.8 1158.6 816.3 1153.2" stroke="#0033ff"/>
<path d="M816.3 1153.2 817.9 1147.9 819.5 1142.5" stroke="#0000ff"/>
<path d="M819.5 1142.5 821.1 1137.2 822.6 1131.9" stroke="#3200ff"/>
<path d="M822.6 1131.9 824.2 1126.5 825.8 1121.2 827.4 1116 828.9 1110.7" stroke="#6500ff"/>
<path d="M828.9 1110.7 830.5 1105.4 832.1 1100.2 833.7 1095 835.2 1089.8 836.8 1084.7 838.4 1079.6 840 1074.6 841.5 1069.7 843.1 1064.8 844.7 1060.1 846.2 1055.5 847.8 1051.1 849.4 1046.9 851 1043.1 852.5 1039.8 854.1 1037.1 855.7 1035.3 857.3 1034.4 858.8 1034.6 860.4 1035.8 862 1038 863.6 1040.9 865.1 1044.4 866.7 1048.3 868.3 1052.5 869.9 1057" stroke="#ff00ff"/>
<path d="M748.6 1289.9 750.2 1285.7 751.8 1280.7" stroke="#ff6600"/>
<path d="M751.8 1280.7 753.3 1275.7 754.9 1270.7" stroke="#ff0000"/>
<path d="M754.9 1270.7 756.5 1265.6 758 1260.6" stroke="#ffcc00"/>
<path d="M758 1260.6 759.6 1255.6 761.2 1250.6" stroke="#cbff00"/>
<path d="M761.2 1250.6 762.8 1245.6 764.4 1240.6" stroke="#33ff00"/>
<path d="M764.4 1240.6 765.9 1235.6 767.5 1230.6" stroke="#00ff00"/>
<path d="M767.5 1230.6 769.1 1225.6 770.6 1220.6" stroke="#00ff32"/>
<path d="M770.6 1220.6 772.2 1215.6 773.8 1210.6" stroke="#00ff99"/>
<path d="M773.8 1210.6 775.4 1205.6 777 1200.6" stroke="#00ffff"/>
<path d="M777 1200.6 778.5 1195.7 780.1 1190.7" stroke="#00cbff"/>
<path d="M780.1 1190.7 781.7 1185.7 783.2 1180.7" stroke="#0099ff"/>
<path d="M783.2 1180.7 784.8 1175.7 786.4 1170.8" stroke="#0066ff"/>
<path d="M786.4 1170.8 788 1165.8 789.6 1160.8" stroke="#0033ff"/>
<path d="M789.6 1160.8 791.1 1155.9 792.7 1150.9 794.3 1146 795.9 1141" stroke="#0000ff"/>
<path d="M795.9 1141 797.4 1136.1 799 1131.1" stroke="#3200ff"/>
<path d="M799 1131.1 800.6 1126.2 802.2 1121.3 803.7 1116.4 805.3 1111.5" stroke="#6500ff"/>
<path d="M805.3 1111.5 806.9 1106.7 808.5 1101.8 810 1097 811.6 1092.2 813.2 1087.4 814.8 1082.7 816.3 1078 817.9 1073.3 819.5 1068.7 821.1 1064.2 822.6 1059.8 824.2 1055.6 825.8 1051.5 827.4 1047.6 828.9 1044.1 830.5 1040.9 832.1 1038.3 833.7 1036.5 835.2 1035.5 836.8 1035.5 838.4 1036.5 840 1038.3 841.5 1040.9 843.1 1044.1 844.7 1047.6 846.2 1051.5 847.8 1055.6 849.4 1059.8 851 1064.2 852.5 1068.7 854.1 1073.3 855.7 1078 857.3 1082.7 858.8 1087.4 860.4 1092.2 862 1097 863.6 1101.8 865.1 1106.7 866.7 1111.5 868.3 1116.4 869.9 1121.3" stroke="#b000ff"/>
<path d="M736 1264.3 737.6 1258.8 739.1 1253.4" stroke="#ffcc00"/>
<path d="M739.1 1253.4 740.7 1248 742.3 1242.5" stroke="#99ff00"/>
<path d="M742.3 1242.5 743.9 1237.1 745.5 1231.7" stroke="#00ff00"/>
<path d="M745.5 1231.7 747 1226.2 748.6 1220.8" stroke="#00ff32"/>
<path d="M748.6 1220.8 750.2 1215.4 751.8 1210" stroke="#00ff99"/>
<path d="M751.8 1210 753.3 1204.5 754.9 1199.1" stroke="#00ffff"/>
<path d="M754.9 1199.1 756.5 1193.7 758 1188.3" stroke="#00cbff"/>
<path d="M758 1188.3 759.6 1182.9 761.2 1177.5" stroke="#0099ff"/>
<path d="M761.2 1177.5 762.8 1172.1 764.4 1166.7" stroke="#0066ff"/>
<path d="M764.4 1166.7 765.9 1161.3 767.5 1155.9" stroke="#0033ff"/>
<path d="M767.5 1155.9 769.1 1150.5 770.6 1145.1" stroke="#0000ff"/>
<path d="M770.6 1145.1 772.2 1139.7 773.8 1134.3 775.4 1129 777 1123.6" stroke="#3200ff"/>
<path d="M777 1123.6 778.5 1118.3 780.1 1113" stroke="#6500ff"/>
<path d="M780.1 1113 781.7 1107.6 783.2 1102.4 784.8 1097.1 786.4 1091.8 788 1086.6 789.6 1081.5 791.1 1076.4 792.7 1071.3 794.3 1066.4 795.9 1061.6 797.4 1057 799 1052.6 800.6 1048.7 802.2 1045.4 803.7 1042.9 805.3 1041.8 806.9 1042 808.5 1043.6 810 1046.4 811.6 1049.9 813.2 1054 814.8 1058.5 816.3 1063.2 817.9 1068 819.5 1073 821.1 1078.1 822.6 1083.2 824.2 1088.4 825.8 1093.6 827.4 1098.8 828.9 1104.1 830.5 1109.4 832.1 1114.7 833.7 1120.1" stroke="#0080ff"/>
<path d="M833.7 1120.1 835.2 1125.4 836.8 1130.8 838.4 1136.1 840 1141.5" stroke="#6500ff"/>
<path d="M840 1141.5 841.5 1146.9 843.1 1152.3" stroke="#3200ff"/>
<path d="M843.1 1152.3 844.7 1157.7 846.2 1163.1" stroke="#0000ff"/>
<path d="M846.2 1163.1 847.8 1168.5 849.4 1173.9 851 1179.3 852.5 1184.7" stroke="#0033ff"/>
<path d="M852.5 1184.7 854.1 1190.1 855.7 1195.5" stroke="#0066ff"/>
<path d="M855.7 1195.5 857.3 1200.9 858.8 1206.3" stroke="#00cbff"/>
<path d="M858.8 1206.3 860.4 1211.8 862 1217.2" stroke="#00ffff"/>
<path d="M862 1217.2 863.6 1222.6 865.1 1228" stroke="#00ffcb"/>
<path d="M865.1 1228 866.7 1233.5 868.3 1238.9" stroke="#00ff66"/>
<path d="M868.3 1238.9 869.9 1244.3" stroke="#00ff00"/>
<path d="M736 1233.5 737.6 1228.5 739.1 1223.5" stroke="#00ff32"/>
<path d="M739.1 1223.5 740.7 1218.5 742.3 1213.5" stroke="#00ff99"/>
<path d="M742.3 1213.5 743.9 1208.5 745.5 1203.6" stroke="#00ffcb"/>
<path d="M745.5 1203.6 747 1198.6 748.6 1193.6" stroke="#00ffff"/>
<path d="M748.6 1193.6 750.2 1188.6 751.8 1183.6" stroke="#0099ff"/>
<path d="M751.8 1183.6 753.3 1178.7 754.9 1173.7" stroke="#0066ff"/>
<path d="M754.9 1173.7 756.5 1168.8 758 1163.8 759.6 1158.9 761.2 1153.9" stroke="#0033ff"/>
<path d="M761.2 1153.9 762.8 1149 764.4 1144.1" stroke="#0000ff"/>
<path d="M764.4 1144.1 765.9 1139.2 767.5 1134.2 769.1 1129.4 770.6 1124.5" stroke="#3200ff"/>
<path d="M770.6 1124.5 772.2 1119.6 773.8 1114.8" stroke="#6500ff"/>
<path d="M773.8 1114.8 775.4 1110 777 1105.2 778.5 1100.4 780.1 1095.7 781.7 1091 783.2 1086.4 784.8 1081.9 786.4 1077.4 788 1073.1 789.6 1068.9 791.1 1064.9 792.7 1061.2 794.3 1057.8 795.9 1054.9 797.4 1052.7 799 1051.3 800.6 1050.8 802.2 1051.3 803.7 1052.7 805.3 1054.9 806.9 1057.8 808.5 1061.2 810 1064.9 811.6 1068.9 813.2 1073.1 814.8 1077.4 816.3 1081.9 817.9 1086.4 819.5 1091 821.1 1095.7 822.6 1100.4 824.2 1105.2 825.8 1110 827.4 1114.8 828.9 1119.6 830.5 1124.5" stroke="#b000ff"/>
<path d="M830.5 1124.5 832.1 1129.4 833.7 1134.2" stroke="#6500ff"/>
<path d="M833.7 1134.2 835.2 1139.2 836.8 1144.1 838.4 1149 840 1153.9" stroke="#3200ff"/>
<path d="M840 1153.9 841.5 1158.9 843.1 1163.8" stroke="#0000ff"/>
<path d="M843.1 1163.8 844.7 1168.8 846.2 1173.7 847.8 1178.7 849.4 1183.6" stroke="#0033ff"/>
<path d="M849.4 1183.6 851 1188.6 852.5 1193.6" stroke="#0066ff"/>
<path d="M852.5 1193.6 854.1 1198.6 855.7 1203.6" stroke="#0099ff"/>
<path d="M855.7 1203.6 857.3 1208.5 858.8 1213.5" stroke="#00ffff"/>
<path d="M858.8 1213.5 860.4 1218.5 862 1223.5" stroke="#00ffcb"/>
<path d="M862 1223.5 863.6 1228.5 865.1 1233.5" stroke="#00ff99"/>
<path d="M865.1 1233.5 866.7 1238.5 868.3 1243.5" stroke="#00ff32"/>
<path d="M868.3 1243.5 869.9 1248.5" stroke="#99ff00"/>
<path d="M736 1181.8 737.6 1176.8 739.1 1171.8" stroke="#0066ff"/>
<path d="M739.1 1171.8 740.7 1166.8 742.3 1161.8 743.9 1156.9 745.5 1151.9" stroke="#0033ff"/>
<path d="M745.5 1151.9 747 1147 748.6 1142" stroke="#0000ff"/>
<path d="M748.6 1142 750.2 1137.1 751.8 1132.1" stroke="#3200ff"/>
<path d="M751.8 1132.1 753.3 1127.2 754.9 1122.3 756.5 1117.4 758 1112.5" stroke="#6500ff"/>
<path d="M758 1112.5 759.6 1107.7 761.2 1102.9 762.8 1098 764.4 1093.3 765.9 1088.6 767.5 1083.9 769.1 1079.3 770.6 1074.8 772.2 1070.4 773.8 1066.2 775.4 1062.3 777 1058.6 778.5 1055.5 780.1 1053 781.7 1051.5 783.2 1051.1 784.8 1051.9 786.4 1053.8 788 1056.5 789.6 1059.8 791.1 1063.5 792.7 1067.6 794.3 1071.9 795.9 1076.3 797.4 1080.8 799 1085.4 800.6 1090.1 802.2 1094.9 803.7 1099.6 805.3 1104.5 806.9 1109.3 808.5 1114.2 810 1119.1 811.6 1124" stroke="#ff00ff"/>
<path d="M811.6 1124 813.2 1128.9 814.8 1133.8" stroke="#6500ff"/>
<path d="M814.8 1133.8 816.3 1138.7 817.9 1143.7 819.5 1148.6 821.1 1153.6" stroke="#3200ff"/>
<path d="M821.1 1153.6 822.6 1158.5 824.2 1163.5" stroke="#0000ff"/>
<path d="M824.2 1163.5 825.8 1168.5 827.4 1173.5 828.9 1178.4 830.5 1183.4" stroke="#0033ff"/>
<path d="M830.5 1183.4 832.1 1188.4 833.7 1193.4" stroke="#0066ff"/>
<path d="M833.7 1193.4 835.2 1198.4 836.8 1203.4" stroke="#0099ff"/>
<path d="M836.8 1203.4 838.4 1208.4 840 1213.4" stroke="#00cbff"/>
<path d="M840 1213.4 841.5 1218.4 843.1 1223.4" stroke="#00ffcb"/>
<path d="M843.1 1223.4 844.7 1228.4 846.2 1233.4" stroke="#00ff99"/>
<path d="M846.2 1233.4 847.8 1238.4 849.4 1243.4" stroke="#00ff32"/>
<path d="M849.4 1243.4 851 1248.4 852.5 1253.4" stroke="#99ff00"/>
<path d="M852.5 1253.4 854.1 1258.4 855.7 1263.5" stroke="#33ff00"/>
<path d="M855.7 1263.5 857.3 1268.5 858.8 1273.5" stroke="#cbff00"/>
<path d="M858.8 1273.5 860.4 1278.5 862 1283.5" stroke="#ff6600"/>
<path d="M862 1283.5 863.6 1288.5 865.1 1289.9" stroke="#ff0000"/>
<path d="M781.7 1289.9 783.2 1289.6 784.8 1284.6 786.4 1279.7 788 1274.7" stroke="#ff0000"/>
<path d="M788 1274.7 789.6 1269.7 791.1 1264.7" stroke="#ffff00"/>
<path d="M791.1 1264.7 792.7 1259.8 794.3 1254.8" stroke="#65ff00"/>
<path d="M794.3 1254.8 795.9 1249.8 797.4 1244.9" stroke="#99ff00"/>
<path d="M797.4 1244.9 799 1239.9 800.6 1235" stroke="#00ff00"/>
<path d="M800.6 1235 802.2 1230.1 803.7 1225.1" stroke="#00ff32"/>
<path d="M803.7 1225.1 805.3 1220.2 806.9 1215.3" stroke="#00ff66"/>
<path d="M806.9 1215.3 808.5 1210.3 810 1205.4" stroke="#00ffcb"/>
<path d="M810 1205.4 811.6 1200.5 813.2 1195.6" stroke="#00ffff"/>
<path d="M813.2 1195.6 814.8 1190.8 816.3 1185.9" stroke="#00cbff"/>
<path d="M816.3 1185.9 817.9 1181 819.5 1176.2 821.1 1171.4 822.6 1166.6" stroke="#0066ff"/>
<path d="M822.6 1166.6 824.2 1161.8 825.8 1157" stroke="#0033ff"/>
<path d="M825.8 1157 827.4 1152.3 828.9 1147.6 830.5 1142.9 832.1 1138.3" stroke="#0000ff"/>
<path d="M832.1 1138.3 833.7 1133.7 835.2 1129.2" stroke="#3200ff"/>
<path d="M835.2 1129.2 836.8 1124.7 838.4 1120.4 840 1116.1 841.5 1112" stroke="#6500ff"/>
<path d="M841.5 1112 843.1 1108.1 844.7 1104.3 846.2 1100.8 847.8 1097.6 849.4 1094.8 851 1092.4 852.5 1090.7 854.1 1089.6 855.7 1089.2 857.3 1089.6 858.8 1090.7 860.4 1092.4 862 1094.8 863.6 1097.6 865.1 1100.8 866.7 1104.3 868.3 1108.1 869.9 1112" stroke="#0000ff"/>
<path d="M794.3 1289.9 795.9 1285.6 797.4 1280.2 799 1274.8 800.6 1269.4" stroke="#ff0000"/>
<path d="M800.6 1269.4 802.2 1264 803.7 1258.6" stroke="#cbff00"/>
<path d="M803.7 1258.6 805.3 1253.2 806.9 1247.8" stroke="#ffff00"/>
<path d="M806.9 1247.8 808.5 1242.4 810 1237" stroke="#cbff00"/>
<path d="M810 1237 811.6 1231.6 813.2 1226.2" stroke="#00ff00"/>
<path d="M813.2 1226.2 814.8 1220.8 816.3 1215.5" stroke="#00ff66"/>
<path d="M816.3 1215.5 817.9 1210.1 819.5 1204.7" stroke="#00ffcb"/>
<path d="M819.5 1204.7 821.1 1199.4 822.6 1194.1" stroke="#00ffff"/>
<path d="M822.6 1194.1 824.2 1188.7 825.8 1183.4" stroke="#0099ff"/>
<path d="M825.8 1183.4 827.4 1178.1 828.9 1172.9" stroke="#0066ff"/>
<path d="M828.9 1172.9 830.5 1167.6 832.1 1162.4 833.7 1157.2 835.2 1152.1" stroke="#0033ff"/>
<path d="M835.2 1152.1 836.8 1147 838.4 1142" stroke="#0000ff"/>
<path d="M838.4 1142 840 1137.1 841.5 1132.3 843.1 1127.7 844.7 1123.3" stroke="#3200ff"/>
<path d="M844.7 1123.3 846.2 1119.2 847.8 1115.6" stroke="#6500ff"/>
<path d="M847.8 1115.6 849.4 1112.7 851 1110.7 852.5 1109.8 854.1 1110.3 855.7 1111.9 857.3 1114.6 858.8 1118 860.4 1121.9" stroke="#ff00ff"/>
<path d="M860.4 1121.9 862 1126.2 863.6 1130.8 865.1 1135.5 866.7 1140.4" stroke="#6500ff"/>
<path d="M866.7 1140.4 868.3 1145.3 869.9 1150.4" stroke="#3200ff"/>
<path d="M791.1 1289.9 792.7 1288.9 794.3 1283.5" stroke="#ff3200"/>
<path d="M794.3 1283.5 795.9 1278.1 797.4 1272.7" stroke="#ff6600"/>
<path d="M797.4 1272.7 799 1267.3 800.6 1261.9" stroke="#ff9900"/>
<path d="M800.6 1261.9 802.2 1256.5 803.7 1251.1" stroke="#cbff00"/>
<path d="M803.7 1251.1 805.3 1245.7 806.9 1240.3 808.5 1234.9 810 1229.5" stroke="#00ff00"/>
<path d="M810 1229.5 811.6 1224.2 813.2 1218.8" stroke="#00ff66"/>
<path d="M813.2 1218.8 814.8 1213.5 816.3 1208.1" stroke="#00ff99"/>
<path d="M816.3 1208.1 817.9 1202.8 819.5 1197.5" stroke="#00ffff"/>
<path d="M819.5 1197.5 821.1 1192.2 822.6 1186.9" stroke="#00cbff"/>
<path d="M822.6 1186.9 824.2 1181.6 825.8 1176.4" stroke="#0099ff"/>
<path d="M825.8 1176.4 827.4 1171.2 828.9 1166" stroke="#0066ff"/>
<path d="M828.9 1166 830.5 1160.9 832.1 1155.8" stroke="#0033ff"/>
<path d="M832.1 1155.8 833.7 1150.9 835.2 1146" stroke="#0000ff"/>
<path d="M835.2 1146 836.8 1141.2 838.4 1136.7 840 1132.4 841.5 1128.5" stroke="#3200ff"/>
<path d="M841.5 1128.5 843.1 1125.1 844.7 1122.4 846.2 1120.8 847.8 1120.3 849.4 1121.2 851 1123.2 852.5 1126.1 854.1 1129.7 855.7 1133.8 857.3 1138.2" stroke="#6500ff"/>
<path d="M857.3 1138.2 858.8 1142.8 860.4 1147.6" stroke="#3200ff"/>
<path d="M860.4 1147.6 862 1152.5 863.6 1157.5 865.1 1162.6 866.7 1167.7" stroke="#0000ff"/>
<path d="M866.7 1167.7 868.3 1172.9 869.9 1178.1" stroke="#0033ff"/>
<path d="M736 1076.7 737.6 1079.9 739.1 1084.4" stroke="#cc00ff"/>
<path d="M739.1 1084.4 740.7 1089.3 742.3 1094.5 743.9 1099.7 745.5 1105" stroke="#9900ff"/>
<path d="M745.5 1105 747 1110.3 748.6 1115.7 750.2 1121.1 751.8 1126.4" stroke="#6500ff"/>
<path d="M751.8 1126.4 753.3 1131.8 754.9 1137.2" stroke="#3200ff"/>
<path d="M754.9 1137.2 756.5 1142.6 758 1148" stroke="#0000ff"/>
<path d="M758 1148 759.6 1153.4 761.2 1158.8 762.8 1164.1 764.4 1169.5" stroke="#0033ff"/>
<path d="M764.4 1169.5 765.9 1175 767.5 1180.4" stroke="#0066ff"/>
<path d="M767.5 1180.4 769.1 1185.8 770.6 1191.2" stroke="#0099ff"/>
<path d="M770.6 1191.2 772.2 1196.6 773.8 1202" stroke="#00cbff"/>
<path d="M773.8 1202 775.4 1207.4 777 1212.8" stroke="#00ffff"/>
<path d="M777 1212.8 778.5 1218.2 780.1 1223.6" stroke="#00ff99"/>
<path d="M780.1 1223.6 781.7 1229 783.2 1234.4" stroke="#00ff66"/>
<path d="M783.2 1234.4 784.8 1239.8 786.4 1245.2 788 1250.6 789.6 1256.1" stroke="#00ff00"/>
<path d="M789.6 1256.1 791.1 1261.5 792.7 1266.9" stroke="#ffcc00"/>
<path d="M792.7 1266.9 794.3 1272.3 795.9 1277.7" stroke="#cbff00"/>
<path d="M795.9 1277.7 797.4 1283.1 799 1288.5" stroke="#ff3200"/>
<path d="M799 1288.5 800.6 1289.9" stroke="#ff0000"/>
<path d="M736 1139.6 737.6 1135.9 739.1 1132.2" stroke="#3200ff"/>
<path d="M739.1 1132.2 740.7 1128.5 742.3 1125 743.9 1121.6 745.5 1118.3" stroke="#6500ff"/>
<path d="M745.5 1118.3 747 1115.4 748.6 1113 750.2 1111.3 751.8 1110.5 753.3 1110.8 754.9 1112.2 756.5 1114.4 758 1117.1 759.6 1120.2 761.2 1123.6" stroke="#9900ff"/>
<path d="M761.2 1123.6 762.8 1127.1 764.4 1130.7 765.9 1134.4 767.5 1138.1" stroke="#6500ff"/>
<path d="M767.5 1138.1 769.1 1141.9 770.6 1145.7 772.2 1149.6 773.8 1153.5" stroke="#3200ff"/>
<path d="M773.8 1153.5 775.4 1157.4 777 1161.3 778.5 1165.2 780.1 1169.1" stroke="#0000ff"/>
<path d="M780.1 1169.1 781.7 1173 783.2 1177 784.8 1180.9 786.4 1184.9" stroke="#0033ff"/>
<path d="M786.4 1184.9 788 1188.8 789.6 1192.8" stroke="#0066ff"/>
<path d="M789.6 1192.8 791.1 1196.7 792.7 1200.7" stroke="#0099ff"/>
<path d="M792.7 1200.7 794.3 1204.7 795.9 1208.6" stroke="#00cbff"/>
<path d="M795.9 1208.6 797.4 1212.6 799 1216.6" stroke="#00ffff"/>
<path d="M799 1216.6 800.6 1220.6 802.2 1224.5" stroke="#00ffcb"/>
<path d="M802.2 1224.5 803.7 1228.5 805.3 1232.5" stroke="#00ff99"/>
<path d="M805.3 1232.5 806.9 1236.5 808.5 1240.5" stroke="#00ff32"/>
<path d="M808.5 1240.5 810 1244.4 811.6 1248.4" stroke="#00ff00"/>
<path d="M811.6 1248.4 813.2 1252.4 814.8 1256.4" stroke="#99ff00"/>
<path d="M814.8 1256.4 816.3 1260.4 817.9 1264.4" stroke="#ffff00"/>
<path d="M817.9 1264.4 819.5 1268.4 821.1 1272.4" stroke="#cbff00"/>
<path d="M821.1 1272.4 822.6 1276.4 824.2 1280.3 825.8 1284.3 827.4 1288.3" stroke="#ffff00"/>
<path d="M827.4 1288.3 828.9 1289.9" stroke="#ff0000"/>
<path d="M759.6 1289.9 761.2 1289.9 762.8 1286.1" stroke="#ff0000"/>
<path d="M762.8 1286.1 764.4 1282.3 765.9 1278.6 767.5 1274.8 769.1 1271" stroke="#ff9900"/>
<path d="M769.1 1271 770.6 1267.2 772.2 1263.5" stroke="#ffff00"/>
<path d="M772.2 1263.5 773.8 1259.7 775.4 1255.9" stroke="#ff9900"/>
<path d="M775.4 1255.9 777 1252.2 778.5 1248.4" stroke="#00ff00"/>
<path d="M778.5 1248.4 780.1 1244.7 781.7 1241" stroke="#00ff32"/>
<path d="M781.7 1241 783.2 1237.3 784.8 1233.7" stroke="#00ff00"/>
<path d="M784.8 1233.7 786.4 1230.1 788 1226.6" stroke="#00ff32"/>
<path d="M788 1226.6 789.6 1223.4 791.1 1220.5" stroke="#00ff66"/>
<path d="M791.1 1220.5 792.7 1218.8 794.3 1218.9" stroke="#00ff99"/>
<path d="M794.3 1218.9 795.9 1220.8 797.4 1223.6" stroke="#00ffcb"/>
<path d="M797.4 1223.6 799 1226.9 800.6 1230.4" stroke="#00ff99"/>
<path d="M800.6 1230.4 802.2 1234 803.7 1237.6" stroke="#00ff66"/>
<path d="M803.7 1237.6 805.3 1241.3 806.9 1245" stroke="#00ff32"/>
<path d="M806.9 1245 808.5 1248.8 810 1252.5" stroke="#00ff00"/>
<path d="M810 1252.5 811.6 1256.3 813.2 1260" stroke="#33ff00"/>
<path d="M813.2 1260 814.8 1263.8 816.3 1267.6" stroke="#00ff00"/>
<path d="M816.3 1267.6 817.9 1271.3 819.5 1275.1" stroke="#ffff00"/>
<path d="M819.5 1275.1 821.1 1278.9 822.6 1282.7" stroke="#cbff00"/>
<path d="M822.6 1282.7 824.2 1286.4 825.8 1289.9 827.4 1289.9" stroke="#ff9900"/>
<path d="M777 1289.9 778.5 1287.8 780.1 1282.3 781.7 1276.7 783.2 1271.2" stroke="#ff9900"/>
<path d="M783.2 1271.2 784.8 1265.6 786.4 1260.1 788 1254.6 789.6 1249" stroke="#ffff00"/>
<path d="M789.6 1249 791.1 1243.5 792.7 1237.9" stroke="#00ff66"/>
<path d="M792.7 1237.9 794.3 1232.4 795.9 1226.9" stroke="#00ff32"/>
<path d="M795.9 1226.9 797.4 1221.3 799 1215.8" stroke="#00ff99"/>
<path d="M799 1215.8 800.6 1210.3 802.2 1204.7" stroke="#00ffff"/>
<path d="M802.2 1204.7 803.7 1199.2 805.3 1193.7" stroke="#00cbff"/>
<path d="M805.3 1193.7 806.9 1188.2 808.5 1182.6" stroke="#0066ff"/>
<path d="M808.5 1182.6 810 1177.1 811.6 1171.6" stroke="#0033ff"/>
<path d="M811.6 1171.6 813.2 1166.1 814.8 1160.6 816.3 1155 817.9 1149.5" stroke="#0000ff"/>
<path d="M817.9 1149.5 819.5 1144 821.1 1138.5" stroke="#3200ff"/>
<path d="M821.1 1138.5 822.6 1133.1 824.2 1127.6" stroke="#6500ff"/>
<path d="M824.2 1127.6 825.8 1122.1 827.4 1116.7 828.9 1111.3 830.5 1106" stroke="#9900ff"/>
<path d="M830.5 1106 832.1 1100.7 833.7 1095.4" stroke="#cc00ff"/>
<path d="M833.7 1095.4 835.2 1090.4 836.8 1085.6 838.4 1081.4 840 1078.4 841.5 1077.6 843.1 1079.5 844.7 1083.1 846.2 1087.6 847.8 1092.5 849.4 1097.7 851 1102.9 852.5 1108.3" stroke="#ff00ff"/>
<path d="M852.5 1108.3 854.1 1113.6 855.7 1119" stroke="#cc00ff"/>
<path d="M855.7 1119 857.3 1124.5 858.8 1129.9 860.4 1135.4 862 1140.9" stroke="#9900ff"/>
<path d="M862 1140.9 863.6 1146.4 865.1 1151.9" stroke="#6500ff"/>
<path d="M865.1 1151.9 866.7 1157.4 868.3 1162.9" stroke="#3200ff"/>
<path d="M868.3 1162.9 869.9 1168.4" stroke="#0000ff"/>
<path d="M806.9 1289.9 808.5 1287.4 810 1282.2" stroke="#ff6600"/>
<path d="M810 1282.2 811.6 1277.1 813.2 1271.9" stroke="#ff9900"/>
<path d="M813.2 1271.9 814.8 1266.7 816.3 1261.5 817.9 1256.4 819.5 1251.2" stroke="#ffcc00"/>
<path d="M819.5 1251.2 821.1 1246.1 822.6 1240.9" stroke="#65ff00"/>
<path d="M822.6 1240.9 824.2 1235.8 825.8 1230.6" stroke="#00ff00"/>
<path d="M825.8 1230.6 827.4 1225.5 828.9 1220.4" stroke="#00ff32"/>
<path d="M828.9 1220.4 830.5 1215.3 832.1 1210.2" stroke="#00ff99"/>
<path d="M832.1 1210.2 833.7 1205.1 835.2 1200.1" stroke="#00ffff"/>
<path d="M835.2 1200.1 836.8 1195.1 838.4 1190.2" stroke="#00cbff"/>
<path d="M838.4 1190.2 840 1185.3 841.5 1180.5" stroke="#0099ff"/>
<path d="M841.5 1180.5 843.1 1176 844.7 1171.7" stroke="#0066ff"/>
<path d="M844.7 1171.7 846.2 1167.9 847.8 1165 849.4 1163.6 851 1164.1 852.5 1166.4 854.1 1169.8 855.7 1173.9 857.3 1178.3" stroke="#0033ff"/>
<path d="M857.3 1178.3 858.8 1183 860.4 1187.8" stroke="#0066ff"/>
<path d="M860.4 1187.8 862 1192.7 863.6 1197.7" stroke="#0099ff"/>
<path d="M863.6 1197.7 865.1 1202.7 866.7 1207.8" stroke="#00cbff"/>
<path d="M866.7 1207.8 868.3 1212.8 869.9 1217.9" stroke="#00ffff"/>
<path d="M835.2 1289.9 836.8 1289.9 838.4 1287.8" stroke="#ff0000"/>
<path d="M838.4 1287.8 840 1284.4 841.5 1281" stroke="#ffcc00"/>
<path d="M841.5 1281 843.1 1277.6 844.7 1274.2" stroke="#ff6600"/>
<path d="M844.7 1274.2 846.2 1270.9 847.8 1267.5" stroke="#ff9900"/>
<path d="M847.8 1267.5 849.4 1264.1 851 1260.7" stroke="#ffcc00"/>
<path d="M851 1260.7 852.5 1257.3 854.1 1254" stroke="#33ff00"/>
<path d="M854.1 1254 855.7 1250.6 857.3 1247.2 858.8 1243.8 860.4 1240.5 862 1237.1 863.6 1233.7" stroke="#00ff00"/>
<path d="M863.6 1233.7 865.1 1230.4 866.7 1227" stroke="#00ff32"/>
<path d="M866.7 1227 868.3 1223.6 869.9 1220.3" stroke="#00ff99"/>
<path d="M736 1150.5 737.6 1154.1 739.1 1158.3" stroke="#3200ff"/>
<path d="M739.1 1158.3 740.7 1162.8 742.3 1167.5 743.9 1172.4 745.5 1177.4" stroke="#0000ff"/>
<path d="M745.5 1177.4 747 1182.5 748.6 1187.7" stroke="#0033ff"/>
<path d="M748.6 1187.7 750.2 1192.9 751.8 1198.1" stroke="#0066ff"/>
<path d="M751.8 1198.1 753.3 1203.4 754.9 1208.7" stroke="#0099ff"/>
<path d="M754.9 1208.7 756.5 1214 758 1219.4" stroke="#00cbff"/>
<path d="M758 1219.4 759.6 1224.7 761.2 1230.1" stroke="#00ffcb"/>
<path d="M761.2 1230.1 762.8 1235.4 764.4 1240.8" stroke="#00ff66"/>
<path d="M764.4 1240.8 765.9 1246.2 767.5 1251.6" stroke="#00ff00"/>
<path d="M767.5 1251.6 769.1 1257 770.6 1262.4" stroke="#99ff00"/>
<path d="M770.6 1262.4 772.2 1267.8 773.8 1273.2" stroke="#cbff00"/>
<path d="M773.8 1273.2 775.4 1278.6 777 1284.1 778.5 1289.5 780.1 1289.9" stroke="#ff9900"/>
<path d="M791.1 1289.9 792.7 1287.2 794.3 1282.7 795.9 1278.2 797.4 1273.7 799 1269.2 800.6 1264.7 802.2 1260.2 803.7 1255.7" stroke="#ff3200"/>
<path d="M803.7 1255.7 805.3 1251.2 806.9 1246.7" stroke="#cbff00"/>
<path d="M806.9 1246.7 808.5 1242.2 810 1237.7 811.6 1233.2 813.2 1228.7" stroke="#33ff00"/>
<path d="M813.2 1228.7 814.8 1224.2 816.3 1219.8" stroke="#00ff00"/>
<path d="M816.3 1219.8 817.9 1215.3 819.5 1210.8" stroke="#00ff66"/>
<path d="M819.5 1210.8 821.1 1206.3 822.6 1201.8" stroke="#00ff99"/>
<path d="M822.6 1201.8 824.2 1197.3 825.8 1192.8" stroke="#00ffcb"/>
<path d="M825.8 1192.8 827.4 1188.3 828.9 1183.8" stroke="#00ffff"/>
<path d="M828.9 1183.8 830.5 1179.3 832.1 1174.8" stroke="#00cbff"/>
<path d="M832.1 1174.8 833.7 1170.3 835.2 1165.8" stroke="#0099ff"/>
<path d="M835.2 1165.8 836.8 1161.3 838.4 1156.8 840 1152.4 841.5 1147.9" stroke="#0066ff"/>
<path d="M841.5 1147.9 843.1 1143.4 844.7 1138.9" stroke="#0033ff"/>
<path d="M844.7 1138.9 846.2 1134.4 847.8 1129.9 849.4 1125.4 851 1120.9" stroke="#0000ff"/>
<path d="M851 1120.9 852.5 1116.4 854.1 1111.9 855.7 1107.4 857.3 1103" stroke="#3200ff"/>
<path d="M857.3 1103 858.8 1098.5 860.4 1094 862 1089.5 863.6 1085.1" stroke="#6500ff"/>
<path d="M863.6 1085.1 865.1 1080.6 866.7 1076.2 868.3 1071.8 869.9 1067.5" stroke="#9900ff"/>
<path d="M736 1231.8 737.6 1228.4 739.1 1225.1" stroke="#00ff32"/>
<path d="M739.1 1225.1 740.7 1221.9 742.3 1218.7" stroke="#00ff66"/>
<path d="M742.3 1218.7 743.9 1215.5 745.5 1212.6" stroke="#00ff99"/>
<path d="M745.5 1212.6 747 1209.8 748.6 1207.5" stroke="#00ffcb"/>
<path d="M748.6 1207.5 750.2 1205.7 751.8 1205 753.3 1205.6 754.9 1207.2 756.5 1209.5 758 1212.2" stroke="#00ffff"/>
<path d="M758 1212.2 759.6 1215.1 761.2 1218.2" stroke="#00ffcb"/>
<path d="M761.2 1218.2 762.8 1221.4 764.4 1224.7" stroke="#00ff99"/>
<path d="M764.4 1224.7 765.9 1228 767.5 1231.3" stroke="#00ff66"/>
<path d="M767.5 1231.3 769.1 1234.6 770.6 1238" stroke="#00ff32"/>
<path d="M770.6 1238 772.2 1241.4 773.8 1244.8 775.4 1248.2 777 1251.7 778.5 1255.1 780.1 1258.5" stroke="#00ff00"/>
<path d="M780.1 1258.5 781.7 1261.9 783.2 1265.4" stroke="#65ff00"/>
<path d="M783.2 1265.4 784.8 1268.8 786.4 1272.3" stroke="#ffff00"/>
<path d="M786.4 1272.3 788 1275.7 789.6 1279.2" stroke="#ff3200"/>
<path d="M789.6 1279.2 791.1 1282.6 792.7 1286.1" stroke="#ff9900"/>
<path d="M792.7 1286.1 794.3 1289.5 795.9 1289.9" stroke="#ff0000"/>
<path d="M754.9 1289.9 756.5 1289.3 758 1284" stroke="#ffcc00"/>
<path d="M758 1284 759.6 1278.8 761.2 1273.5" stroke="#ffff00"/>
<path d="M761.2 1273.5 762.8 1268.3 764.4 1263" stroke="#ff6600"/>
<path d="M764.4 1263 765.9 1257.8 767.5 1252.6" stroke="#99ff00"/>
<path d="M767.5 1252.6 769.1 1247.3 770.6 1242.1" stroke="#65ff00"/>
<path d="M770.6 1242.1 772.2 1236.8 773.8 1231.6" stroke="#00ff32"/>
<path d="M773.8 1231.6 775.4 1226.3 777 1221.1" stroke="#00ff66"/>
<path d="M777 1221.1 778.5 1215.9 780.1 1210.6" stroke="#00ffcb"/>
<path d="M780.1 1210.6 781.7 1205.4 783.2 1200.2" stroke="#00cbff"/>
<path d="M783.2 1200.2 784.8 1195 786.4 1189.7" stroke="#0099ff"/>
<path d="M786.4 1189.7 788 1184.5 789.6 1179.3" stroke="#0066ff"/>
<path d="M789.6 1179.3 791.1 1174.1 792.7 1169" stroke="#0033ff"/>
<path d="M792.7 1169 794.3 1163.8 795.9 1158.7" stroke="#0000ff"/>
<path d="M795.9 1158.7 797.4 1153.6 799 1148.5 800.6 1143.5 802.2 1138.7" stroke="#3200ff"/>
<path d="M802.2 1138.7 803.7 1134.1 805.3 1129.9" stroke="#6500ff"/>
<path d="M805.3 1129.9 806.9 1126.7 808.5 1125.6 810 1127.1 811.6 1130.5" stroke="#9900ff"/>
<path d="M811.6 1130.5 813.2 1134.8 814.8 1139.4 816.3 1144.3 817.9 1149.3" stroke="#6500ff"/>
<path d="M817.9 1149.3 819.5 1154.4 821.1 1159.5 822.6 1164.6 824.2 1169.8" stroke="#3200ff"/>
<path d="M824.2 1169.8 825.8 1175 827.4 1180.2" stroke="#0000ff"/>
<path d="M827.4 1180.2 828.9 1185.4 830.5 1190.6" stroke="#0033ff"/>
<path d="M830.5 1190.6 832.1 1195.8 833.7 1201" stroke="#0066ff"/>
<path d="M833.7 1201 835.2 1206.2 836.8 1211.5" stroke="#0099ff"/>
<path d="M836.8 1211.5 838.4 1216.7 840 1221.9" stroke="#00ffff"/>
<path d="M840 1221.9 841.5 1227.2 843.1 1232.4" stroke="#00ffcb"/>
<path d="M843.1 1232.4 844.7 1237.7 846.2 1242.9" stroke="#00ff66"/>
<path d="M846.2 1242.9 847.8 1248.1 849.4 1253.4" stroke="#00ff99"/>
<path d="M849.4 1253.4 851 1258.6 852.5 1263.9" stroke="#00ff32"/>
<path d="M852.5 1263.9 854.1 1269.1 855.7 1274.4" stroke="#99ff00"/>
<path d="M855.7 1274.4 857.3 1279.6 858.8 1284.9" stroke="#ffff00"/>
<path d="M858.8 1284.9 860.4 1289.9" stroke="#ff9900"/>
<path d="M736 1101.2 737.6 1096.3 739.1 1091.6 740.7 1087.3 742.3 1083.5 743.9 1080.4 745.5 1078.4" stroke="#cc00ff"/>
<path d="M745.5 1078.4 747 1077.7 748.6 1078.4 750.2 1080.3 751.8 1083.3" stroke="#ff00ff"/>
<path d="M751.8 1083.3 753.3 1087.1 754.9 1091.4 756.5 1096.1 758 1101 759.6 1106.1 761.2 1111.4" stroke="#cc00ff"/>
<path d="M761.2 1111.4 762.8 1116.7 764.4 1122.1" stroke="#9900ff"/>
<path d="M764.4 1122.1 765.9 1127.6 767.5 1133.2 769.1 1138.7 770.6 1144.3" stroke="#6500ff"/>
<path d="M770.6 1144.3 772.2 1150 773.8 1155.6" stroke="#3200ff"/>
<path d="M773.8 1155.6 775.4 1161.3 777 1167" stroke="#0000ff"/>
<path d="M777 1167 778.5 1172.7 780.1 1178.4" stroke="#0033ff"/>
<path d="M780.1 1178.4 781.7 1184.1 783.2 1189.8" stroke="#0066ff"/>
<path d="M783.2 1189.8 784.8 1195.6 786.4 1201.3" stroke="#0099ff"/>
<path d="M786.4 1201.3 788 1207.1 789.6 1212.8" stroke="#00cbff"/>
<path d="M789.6 1212.8 791.1 1218.6 792.7 1224.4" stroke="#00ffcb"/>
<path d="M792.7 1224.4 794.3 1230.1 795.9 1235.9" stroke="#00ff99"/>
<path d="M795.9 1235.9 797.4 1241.7 799 1247.5 800.6 1253.2 802.2 1259" stroke="#00ff32"/>
<path d="M802.2 1259 803.7 1264.8 805.3 1270.6" stroke="#33ff00"/>
<path d="M805.3 1270.6 806.9 1276.4 808.5 1282.2" stroke="#ff9900"/>
<path d="M808.5 1282.2 810 1288 811.6 1289.9" stroke="#ff3200"/>
<path d="M780.1 1289.9 781.7 1289.6 783.2 1284.2" stroke="#ff0000"/>
<path d="M783.2 1284.2 784.8 1278.8 786.4 1273.4" stroke="#ffcc00"/>
<path d="M786.4 1273.4 788 1268 789.6 1262.7" stroke="#ff6600"/>
<path d="M789.6 1262.7 791.1 1257.3 792.7 1251.9" stroke="#65ff00"/>
<path d="M792.7 1251.9 794.3 1246.6 795.9 1241.2" stroke="#00ff00"/>
<path d="M795.9 1241.2 797.4 1235.9 799 1230.7" stroke="#00ff32"/>
<path d="M799 1230.7 800.6 1225.9 802.2 1224.2" stroke="#00ff66"/>
<path d="M802.2 1224.2 803.7 1228.3 805.3 1233.4" stroke="#00ff99"/>
<path d="M805.3 1233.4 806.9 1238.6 808.5 1244" stroke="#00ff66"/>
<path d="M808.5 1244 810 1249.3 811.6 1254.7" stroke="#00ff00"/>
<path d="M811.6 1254.7 813.2 1260 814.8 1265.4 816.3 1270.8 817.9 1276.2" stroke="#cbff00"/>
<path d="M817.9 1276.2 819.5 1281.6 821.1 1287" stroke="#ffff00"/>
<path d="M821.1 1287 822.6 1289.9" stroke="#ff6600"/>
<path d="M769.1 1289.9 770.6 1286.7 772.2 1282.5" stroke="#ff0000"/>
<path d="M772.2 1282.5 773.8 1278.2 775.4 1273.9 777 1269.6 778.5 1265.4" stroke="#ffff00"/>
<path d="M778.5 1265.4 780.1 1261.1 781.7 1256.8" stroke="#99ff00"/>
<path d="M781.7 1256.8 783.2 1252.6 784.8 1248.3" stroke="#33ff00"/>
<path d="M784.8 1248.3 786.4 1244.1 788 1239.9" stroke="#00ff99"/>
<path d="M788 1239.9 789.6 1235.6 791.1 1231.4" stroke="#00ff32"/>
<path d="M791.1 1231.4 792.7 1227.2 794.3 1223" stroke="#00ff66"/>
<path d="M794.3 1223 795.9 1218.8 797.4 1214.7" stroke="#00ffcb"/>
<path d="M797.4 1214.7 799 1210.6 800.6 1206.5" stroke="#00ffff"/>
<path d="M800.6 1206.5 802.2 1202.5 803.7 1198.5" stroke="#00cbff"/>
<path d="M803.7 1198.5 805.3 1194.6 806.9 1190.8" stroke="#0099ff"/>
<path d="M806.9 1190.8 808.5 1187.2 810 1183.9" stroke="#0066ff"/>
<path d="M810 1183.9 811.6 1180.9 813.2 1178.5 814.8 1176.9 816.3 1176.4" stroke="#0033ff"/>
<path d="M816.3 1176.4 817.9 1177.1 819.5 1178.8" stroke="#0000ff"/>
<path d="M819.5 1178.8 821.1 1181.3 822.6 1184.3 824.2 1187.7 825.8 1191.4" stroke="#0033ff"/>
<path d="M825.8 1191.4 827.4 1195.1 828.9 1199" stroke="#0066ff"/>
<path d="M828.9 1199 830.5 1203 832.1 1207.1" stroke="#0099ff"/>
<path d="M832.1 1207.1 833.7 1211.2 835.2 1215.3" stroke="#00cbff"/>
<path d="M835.2 1215.3 836.8 1219.4 838.4 1223.6" stroke="#00ffff"/>
<path d="M838.4 1223.6 840 1227.8 841.5 1232" stroke="#00ffcb"/>
<path d="M841.5 1232 843.1 1236.2 844.7 1240.4" stroke="#00ff66"/>
<path d="M844.7 1240.4 846.2 1244.7 847.8 1248.9 849.4 1253.2 851 1257.4" stroke="#00ff32"/>
<path d="M851 1257.4 852.5 1261.7 854.1 1266" stroke="#65ff00"/>
<path d="M854.1 1266 855.7 1270.2 857.3 1274.5 858.8 1278.8 860.4 1283.1" stroke="#ffcc00"/>
<path d="M860.4 1283.1 862 1287.3 863.6 1289.9" stroke="#ffff00"/>
<path d="M736 1164.9 737.6 1169 739.1 1173.4 740.7 1178.1 742.3 1182.9" stroke="#0033ff"/>
<path d="M742.3 1182.9 743.9 1187.8 745.5 1192.9" stroke="#0066ff"/>
<path d="M745.5 1192.9 747 1197.9 748.6 1203.1" stroke="#0099ff"/>
<path d="M748.6 1203.1 750.2 1208.2 751.8 1213.5" stroke="#00ffff"/>
<path d="M751.8 1213.5 753.3 1218.7 754.9 1223.9" stroke="#00ffcb"/>
<path d="M754.9 1223.9 756.5 1229.2 758 1234.5" stroke="#00ff66"/>
<path d="M758 1234.5 759.6 1239.8 761.2 1245.1" stroke="#00ff32"/>
<path d="M761.2 1245.1 762.8 1250.4 764.4 1255.7 765.9 1261.1 767.5 1266.4" stroke="#65ff00"/>
<path d="M767.5 1266.4 769.1 1271.8 770.6 1277.1" stroke="#ff9900"/>
<path d="M770.6 1277.1 772.2 1282.5 773.8 1287.8 775.4 1289.9" stroke="#ff0000"/>
<path d="M736 1267.7 737.6 1262.8 739.1 1257.9" stroke="#ff9900"/>
<path d="M739.1 1257.9 740.7 1253 742.3 1248.1" stroke="#cbff00"/>
<path d="M742.3 1248.1 743.9 1243.2 745.5 1238.3" stroke="#33ff00"/>
<path d="M745.5 1238.3 747 1233.4 748.6 1228.5" stroke="#00ff32"/>
<path d="M748.6 1228.5 750.2 1223.5 751.8 1218.6" stroke="#00ff66"/>
<path d="M751.8 1218.6 753.3 1213.7 754.9 1208.8" stroke="#00ffcb"/>
<path d="M754.9 1208.8 756.5 1203.9 758 1199" stroke="#00cbff"/>
<path d="M758 1199 759.6 1194.2 761.2 1189.3" stroke="#0099ff"/>
<path d="M761.2 1189.3 762.8 1184.5 764.4 1179.7" stroke="#0066ff"/>
<path d="M764.4 1179.7 765.9 1175 767.5 1170.8" stroke="#0033ff"/>
<path d="M767.5 1170.8 769.1 1169.2 770.6 1172.4" stroke="#0000ff"/>
<path d="M770.6 1172.4 772.2 1176.9 773.8 1181.6 775.4 1186.4 777 1191.3" stroke="#0033ff"/>
<path d="M777 1191.3 778.5 1196.1 780.1 1201" stroke="#0066ff"/>
<path d="M780.1 1201 781.7 1205.9 783.2 1210.8" stroke="#00cbff"/>
<path d="M783.2 1210.8 784.8 1215.7 786.4 1220.6" stroke="#00ffff"/>
<path d="M786.4 1220.6 788 1225.5 789.6 1230.4" stroke="#00ffcb"/>
<path d="M789.6 1230.4 791.1 1235.4 792.7 1240.3" stroke="#00ff66"/>
<path d="M792.7 1240.3 794.3 1245.2 795.9 1250.1" stroke="#00ff32"/>
<path d="M795.9 1250.1 797.4 1255 799 1259.9" stroke="#65ff00"/>
<path d="M799 1259.9 800.6 1264.8 802.2 1269.7" stroke="#ffff00"/>
<path d="M802.2 1269.7 803.7 1274.6 805.3 1279.6" stroke="#cbff00"/>
<path d="M805.3 1279.6 806.9 1284.5 808.5 1289.4" stroke="#ff9900"/>
<path d="M808.5 1289.4 810 1289.9" stroke="#ff6600"/>
<path d="M736 1139 737.6 1134 739.1 1129.1" stroke="#0000ff"/>
<path d="M739.1 1129.1 740.7 1124.4 742.3 1119.8" stroke="#3200ff"/>
<path d="M742.3 1119.8 743.9 1115.6 745.5 1111.7 747 1108.3 748.6 1105.9" stroke="#6500ff"/>
<path d="M748.6 1105.9 750.2 1104.5 751.8 1104.6 753.3 1106 754.9 1108.5" stroke="#9900ff"/>
<path d="M754.9 1108.5 756.5 1111.9 758 1115.8 759.6 1120.1 761.2 1124.7" stroke="#6500ff"/>
<path d="M761.2 1124.7 762.8 1129.4 764.4 1134.3 765.9 1139.3 767.5 1144.3" stroke="#3200ff"/>
<path d="M767.5 1144.3 769.1 1149.4 770.6 1154.6" stroke="#0000ff"/>
<path d="M770.6 1154.6 772.2 1159.7 773.8 1164.9 775.4 1170.2 777 1175.4" stroke="#0033ff"/>
<path d="M777 1175.4 778.5 1180.7 780.1 1186" stroke="#0066ff"/>
<path d="M780.1 1186 781.7 1191.3 783.2 1196.6" stroke="#0099ff"/>
<path d="M783.2 1196.6 784.8 1201.9 786.4 1207.2" stroke="#00cbff"/>
<path d="M786.4 1207.2 788 1212.5 789.6 1217.8" stroke="#00ffff"/>
<path d="M789.6 1217.8 791.1 1223.2 792.7 1228.5" stroke="#00ff99"/>
<path d="M792.7 1228.5 794.3 1233.9 795.9 1239.2" stroke="#00ff32"/>
<path d="M795.9 1239.2 797.4 1244.6 799 1249.9 800.6 1255.3 802.2 1260.6" stroke="#00ff00"/>
<path d="M802.2 1260.6 803.7 1266 805.3 1271.4" stroke="#33ff00"/>
<path d="M805.3 1271.4 806.9 1276.7 808.5 1282.1" stroke="#ff3200"/>
<path d="M808.5 1282.1 810 1287.4 811.6 1289.9" stroke="#ff6600"/>
<path d="M828.9 1289.9 830.5 1289.4 832.1 1284.1" stroke="#ff3200"/>
<path d="M832.1 1284.1 833.7 1278.7 835.2 1273.4" stroke="#ff0000"/>
<path d="M835.2 1273.4 836.8 1268.1 838.4 1262.7" stroke="#cbff00"/>
<path d="M838.4 1262.7 840 1257.4 841.5 1252" stroke="#ff9900"/>
<path d="M841.5 1252 843.1 1246.7 844.7 1241.4 846.2 1236 847.8 1230.7" stroke="#33ff00"/>
<path d="M847.8 1230.7 849.4 1225.4 851 1220" stroke="#00ff32"/>
<path d="M851 1220 852.5 1214.7 854.1 1209.4" stroke="#00ff99"/>
<path d="M854.1 1209.4 855.7 1204 857.3 1198.7" stroke="#00ffff"/>
<path d="M857.3 1198.7 858.8 1193.4 860.4 1188.1" stroke="#00cbff"/>
<path d="M860.4 1188.1 862 1182.8 863.6 1177.5" stroke="#0099ff"/>
<path d="M863.6 1177.5 865.1 1172.3 866.7 1167.2" stroke="#0066ff"/>
<path d="M866.7 1167.2 868.3 1162.3 869.9 1158.5" stroke="#0033ff"/>
<path d="M797.4 1289.9 799 1289.3 800.6 1285.7 802.2 1282.2 803.7 1278.7 805.3 1275.1 806.9 1271.6" stroke="#ff0000"/>
<path d="M806.9 1271.6 808.5 1268.1 810 1264.5" stroke="#ffff00"/>
<path d="M810 1264.5 811.6 1261 813.2 1257.5" stroke="#99ff00"/>
<path d="M813.2 1257.5 814.8 1254 816.3 1250.4" stroke="#ff9900"/>
<path d="M816.3 1250.4 817.9 1246.9 819.5 1243.4 821.1 1239.8 822.6 1236.3" stroke="#99ff00"/>
<path d="M822.6 1236.3 824.2 1232.8 825.8 1229.3" stroke="#33ff00"/>
<path d="M825.8 1229.3 827.4 1225.7 828.9 1222.2" stroke="#00ff00"/>
<path d="M828.9 1222.2 830.5 1218.7 832.1 1215.2" stroke="#00ff32"/>
<path d="M832.1 1215.2 833.7 1211.7 835.2 1208.2" stroke="#00ff99"/>
<path d="M835.2 1208.2 836.8 1204.8 838.4 1201.4 840 1198.3 841.5 1197" stroke="#00ffcb"/>
<path d="M841.5 1197 843.1 1199.2 844.7 1202.4" stroke="#00ffff"/>
<path d="M844.7 1202.4 846.2 1205.8 847.8 1209.2" stroke="#00ffcb"/>
<path d="M847.8 1209.2 849.4 1212.7 851 1216.2 852.5 1219.7 854.1 1223.3" stroke="#00ff99"/>
<path d="M854.1 1223.3 855.7 1226.8 857.3 1230.3" stroke="#00ff32"/>
<path d="M857.3 1230.3 858.8 1233.8 860.4 1237.3" stroke="#00ff00"/>
<path d="M860.4 1237.3 862 1240.9 863.6 1244.4" stroke="#33ff00"/>
<path d="M863.6 1244.4 865.1 1247.9 866.7 1251.5" stroke="#65ff00"/>
<path d="M866.7 1251.5 868.3 1255 869.9 1258.5" stroke="#cbff00"/>
<path d="M756.5 1289.9 758 1288.2 759.6 1284.3 761.2 1280.5 762.8 1276.7" stroke="#ff0000"/>
<path d="M762.8 1276.7 764.4 1272.9 765.9 1269.1" stroke="#ff3200"/>
<path d="M765.9 1269.1 767.5 1265.3 769.1 1261.5" stroke="#99ff00"/>
<path d="M769.1 1261.5 770.6 1257.7 772.2 1253.9" stroke="#33ff00"/>
<path d="M772.2 1253.9 773.8 1250.1 775.4 1246.3" stroke="#65ff00"/>
<path d="M775.4 1246.3 777 1242.5 778.5 1238.6" stroke="#00ff00"/>
<path d="M778.5 1238.6 780.1 1234.8 781.7 1231" stroke="#00ff32"/>
<path d="M781.7 1231 783.2 1227.2 784.8 1223.4" stroke="#00ff66"/>
<path d="M784.8 1223.4 786.4 1219.6 788 1215.8" stroke="#00ff99"/>
<path d="M788 1215.8 789.6 1212 791.1 1208.2" stroke="#00ffff"/>
<path d="M791.1 1208.2 792.7 1204.4 794.3 1200.6" stroke="#00cbff"/>
<path d="M794.3 1200.6 795.9 1196.8 797.4 1193 799 1189.2 800.6 1185.4" stroke="#0099ff"/>
<path d="M800.6 1185.4 802.2 1181.6 803.7 1177.8" stroke="#0066ff"/>
<path d="M803.7 1177.8 805.3 1174 806.9 1170.2" stroke="#0033ff"/>
<path d="M806.9 1170.2 808.5 1166.4 810 1162.6 811.6 1158.8 813.2 1155" stroke="#0000ff"/>
<path d="M813.2 1155 814.8 1151.2 816.3 1147.4 817.9 1143.6 819.5 1139.9" stroke="#3200ff"/>
<path d="M819.5 1139.9 821.1 1136.1 822.6 1132.3 824.2 1128.5 825.8 1124.8" stroke="#6500ff"/>
<path d="M825.8 1124.8 827.4 1121 828.9 1117.3 830.5 1113.6 832.1 1109.9" stroke="#9900ff"/>
<path d="M832.1 1109.9 833.7 1106.2 835.2 1102.6 836.8 1099 838.4 1095.6 840 1092.4 841.5 1089.6" stroke="#cc00ff"/>
<path d="M841.5 1089.6 843.1 1087.6 844.7 1087.1 846.2 1088.3 847.8 1090.7 849.4 1093.7 851 1097" stroke="#ff00ff"/>
<path d="M851 1097 852.5 1100.5 854.1 1104.1 855.7 1107.7 857.3 1111.4 858.8 1115.1 860.4 1118.8" stroke="#cc00ff"/>
<path d="M860.4 1118.8 862 1122.5 863.6 1126.3 865.1 1130.1 866.7 1133.8" stroke="#9900ff"/>
<path d="M866.7 1133.8 868.3 1137.6 869.9 1141.4" stroke="#6500ff"/>
<path d="M816.3 1289.9 817.9 1289.1 819.5 1285.1" stroke="#ff9900"/>
<path d="M819.5 1285.1 821.1 1281.1 822.6 1277.1" stroke="#ff3200"/>
<path d="M822.6 1277.1 824.2 1273.1 825.8 1269.1" stroke="#cbff00"/>
<path d="M825.8 1269.1 827.4 1265.1 828.9 1261.1" stroke="#99ff00"/>
<path d="M828.9 1261.1 830.5 1257.1 832.1 1253.1 833.7 1249.1 835.2 1245.1" stroke="#cbff00"/>
<path d="M835.2 1245.1 836.8 1241.2 838.4 1237.2" stroke="#00ff00"/>
<path d="M838.4 1237.2 840 1233.2 841.5 1229.2" stroke="#00ff32"/>
<path d="M841.5 1229.2 843.1 1225.2 844.7 1221.2" stroke="#00ff66"/>
<path d="M844.7 1221.2 846.2 1217.3 847.8 1213.3" stroke="#00ffcb"/>
<path d="M847.8 1213.3 849.4 1209.3 851 1205.3" stroke="#00ffff"/>
<path d="M851 1205.3 852.5 1201.3 854.1 1197.4" stroke="#00cbff"/>
<path d="M854.1 1197.4 855.7 1193.4 857.3 1189.4" stroke="#0099ff"/>
<path d="M857.3 1189.4 858.8 1185.5 860.4 1181.5" stroke="#0066ff"/>
<path d="M860.4 1181.5 862 1177.5 863.6 1173.6 865.1 1169.6 866.7 1165.7" stroke="#0033ff"/>
<path d="M866.7 1165.7 868.3 1161.7 869.9 1157.8" stroke="#0000ff"/>
<path d="M736 1249.1 737.6 1254 739.1 1258.9" stroke="#00ff00"/>
<path d="M739.1 1258.9 740.7 1263.8 742.3 1268.7" stroke="#ffff00"/>
<path d="M742.3 1268.7 743.9 1273.7 745.5 1278.6" stroke="#ffcc00"/>
<path d="M745.5 1278.6 747 1283.5 748.6 1288.5 750.2 1289.9" stroke="#ff3200"/>
<path d="M747 1289.9 748.6 1289 750.2 1285.6 751.8 1282.2 753.3 1278.8" stroke="#ff0000"/>
<path d="M753.3 1278.8 754.9 1275.3 756.5 1271.9" stroke="#ff6600"/>
<path d="M756.5 1271.9 758 1268.5 759.6 1265.1" stroke="#ff9900"/>
<path d="M759.6 1265.1 761.2 1261.7 762.8 1258.3" stroke="#cbff00"/>
<path d="M762.8 1258.3 764.4 1254.9 765.9 1251.5" stroke="#00ff00"/>
<path d="M765.9 1251.5 767.5 1248.1 769.1 1244.7 770.6 1241.2 772.2 1237.8" stroke="#00ff66"/>
<path d="M772.2 1237.8 773.8 1234.4 775.4 1231" stroke="#00ff32"/>
<path d="M775.4 1231 777 1227.6 778.5 1224.2" stroke="#00ff66"/>
<path d="M778.5 1224.2 780.1 1220.8 781.7 1217.4" stroke="#00ff99"/>
<path d="M781.7 1217.4 783.2 1214 784.8 1210.6" stroke="#00ffcb"/>
<path d="M784.8 1210.6 786.4 1207.2 788 1203.8" stroke="#00ffff"/>
<path d="M788 1203.8 789.6 1200.4 791.1 1196.9" stroke="#00cbff"/>
<path d="M791.1 1196.9 792.7 1193.5 794.3 1190.1" stroke="#0099ff"/>
<path d="M794.3 1190.1 795.9 1186.7 797.4 1183.3" stroke="#0066ff"/>
<path d="M797.4 1183.3 799 1179.9 800.6 1176.5 802.2 1173.1 803.7 1169.7" stroke="#0033ff"/>
<path d="M803.7 1169.7 805.3 1166.3 806.9 1162.9 808.5 1159.5 810 1156.1" stroke="#0000ff"/>
<path d="M810 1156.1 811.6 1152.7 813.2 1149.3 814.8 1145.9 816.3 1142.5" stroke="#3200ff"/>
<path d="M816.3 1142.5 817.9 1139.1 819.5 1135.7 821.1 1132.3 822.6 1129 824.2 1125.6 825.8 1122.2" stroke="#6500ff"/>
<path d="M825.8 1122.2 827.4 1118.8 828.9 1115.4 830.5 1112.1 832.1 1108.7" stroke="#9900ff"/>
<path d="M832.1 1108.7 833.7 1105.3 835.2 1102 836.8 1098.6 838.4 1095.3 840 1092 841.5 1088.7" stroke="#cc00ff"/>
<path d="M841.5 1088.7 843.1 1085.4 844.7 1082.2 846.2 1079 847.8 1075.9 849.4 1072.9 851 1070.1 852.5 1067.6 854.1 1065.5 855.7 1064.4 857.3 1064.4 858.8 1065.6 860.4 1067.6 862 1070.2 863.6 1073 865.1 1076 866.7 1079.1 868.3 1082.3 869.9 1085.5" stroke="#ff00ff"/>
<path d="M736 1265.8 737.6 1260.4 739.1 1256.9" stroke="#ffcc00"/>
<path d="M739.1 1256.9 740.7 1258.3 742.3 1263.2" stroke="#cbff00"/>
<path d="M742.3 1263.2 743.9 1268.9 745.5 1274.9" stroke="#99ff00"/>
<path d="M745.5 1274.9 747 1281.1 748.6 1287.3" stroke="#cbff00"/>
<path d="M748.6 1287.3 750.2 1289.9" stroke="#ff3200"/>
<path d="M772.2 1289.9 773.8 1287.5 775.4 1282.5" stroke="#ff3200"/>
<path d="M775.4 1282.5 777 1277.8 778.5 1273.6 780.1 1270.2 781.7 1268.1" stroke="#ff0000"/>
<path d="M781.7 1268.1 783.2 1267.7 784.8 1269.1" stroke="#ffff00"/>
<path d="M784.8 1269.1 786.4 1271.9 788 1275.8" stroke="#cbff00"/>
<path d="M788 1275.8 789.6 1280.3 791.1 1285.2" stroke="#ff0000"/>
<path d="M791.1 1285.2 792.7 1289.9" stroke="#ff9900"/>
<path d="M847.8 1289.9 849.4 1289.9 851 1285.8" stroke="#ff0000"/>
<path d="M851 1285.8 852.5 1281.5 854.1 1277.4" stroke="#ff3200"/>
<path d="M854.1 1277.4 855.7 1273.5 857.3 1270 858.8 1267 860.4 1264.7" stroke="#ffcc00"/>
<path d="M860.4 1264.7 862 1263.2 863.6 1262.6" stroke="#ffff00"/>
<path d="M863.6 1262.6 865.1 1263.1 866.7 1264.6" stroke="#ff9900"/>
<path d="M866.7 1264.6 868.3 1266.9 869.9 1269.9" stroke="#ffff00"/>
</g><g clip-path="url(#clipC)" fill="none" stroke-width="1.8" stroke-linecap="round" stroke-linejoin="round">
<path d="M738.4 1272.8 738.9 1274.2 739.8 1276.2 740.7 1278.5 741.8 1280.7 742.8 1282.5 743.7 1283.5 744.5 1283.5 745.3 1282.7 746.1 1281.5 746.9 1280.2 747.7 1279.1 748.5 1278.6" stroke="#ff0000"/>
<path d="M748.5 1278.6 749.3 1278.9 750.1 1279.7 750.9 1280.8 751.7 1281.8 752.5 1282.4 753.4 1282.5" stroke="#000000"/>
<path d="M753.4 1282.5 754.3 1281.8 755.2 1280.6 756.2 1279 757.1 1277.3 758.2 1275.8 759.2 1274.8 760.3 1274.1 761.5 1273.5 762.6 1273.2 763.8 1273 764.9 1272.9 766 1272.8" stroke="#ff0000"/>
<path d="M766 1272.8 766.9 1272.9 767.7 1273.2 768.5 1273.5 769.3 1274 770 1274.4 770.8 1274.8" stroke="#ff9000"/>
<path d="M770.8 1274.8 771.6 1275.1 772.4 1275.3 773.2 1275.6 774 1275.9 774.9 1276.3 775.7 1276.7 776.5 1277.3 777.3 1278.2 778.1 1279.1 778.9 1279.9 779.7 1280.4 780.5 1280.6" stroke="#ff0000"/>
<path d="M780.5 1280.6 781.3 1280.1 782.1 1279 782.9 1277.6 783.7 1276.4 784.5 1275.6 785.3 1275.7" stroke="#000000"/>
<path d="M785.3 1275.7 786.2 1277 787.1 1279.1 788.1 1281.7 788.9 1284.4 789.7 1286.7 790.2 1288.3" stroke="#ff0000"/>
<path d="M801.8 1259.3 802.5 1260.8 803.4 1263.1 804.5 1265.7 805.6 1268.4 806.7 1270.9 807.6 1272.8 808.4 1274.3 809.1 1275.4 809.7 1276.3 810.3 1277.1 810.9 1277.9 811.5 1278.6 812.2 1279.4 812.8 1280 813.4 1280.5 814.1 1281.1 814.7 1281.7 815.4 1282.5" stroke="#ff0000"/>
<path d="M815.4 1282.5 816.1 1283.5 816.8 1284.8 817.6 1286.1 818.3 1287.4 818.8 1288.5 819.3 1289.3" stroke="#000000"/>
<path d="M793.1 1271.9 793.6 1271.4 794.4 1270.8 795.3 1270.1 796.2 1269.4 797.1 1268.8 797.9 1268.5 798.7 1268.4 799.5 1268.6 800.2 1269 800.9 1269.4 801.4 1269.7 801.8 1269.9" stroke="#000000"/>
<path d="M860 1281.5 860.6 1282 861.5 1282.5 862.5 1283.2 863.6 1284 864.7 1284.7 865.8 1285.4 866.8 1286.1 867.9 1286.9 869 1287.6 870.1 1288.3 870.9 1288.9 871.6 1289.3" stroke="#000000"/>
<path d="M737.9 1245.7 738.4 1246.8 739.1 1248.3 740 1250.1 740.9 1251.9 741.9 1253.8 742.7 1255.4" stroke="#ff9000"/>
<path d="M742.7 1255.4 743.5 1256.8 744.3 1258 745.1 1259.3 745.9 1260.5 746.7 1261.7 747.6 1263.1" stroke="#ffff00"/>
<path d="M747.6 1263.1 748.5 1264.7 749.6 1266.6 750.8 1268.5 751.8 1270.2 752.7 1271.7 753.4 1272.8" stroke="#ff0000"/>
<path d="M830.9 1241.8 831.3 1243.1 831.9 1244.9 832.6 1247 833.3 1249.3 834.1 1251.5 834.8 1253.4" stroke="#ffff00"/>
<path d="M834.8 1253.4 835.4 1255.2 836.1 1256.8 836.8 1258.4 837.4 1260 838 1261.5 838.6 1263.1 839.2 1264.9 839.8 1266.7 840.3 1268.6 840.8 1270.3 841.2 1271.8 841.5 1272.8" stroke="#ff0000"/>
</g><g clip-path="url(#clipC)"><g stroke-width="2.3" fill="none"><path d="M738.5 1086 L746 1116" stroke="#d0ff00"/><path d="M746 1116 L752 1140" stroke="#ffe000"/><path d="M752 1140 L758 1165" stroke="#ff9000"/><path d="M758 1165 L781 1255" stroke="#ff0000"/><path d="M781 1255 L790 1291" stroke="#000"/></g></g>
<line x1="736" y1="1029.50" x2="1366" y2="1029.50" stroke="#000" stroke-width="1"/>
<line x1="736" y1="1029.50" x2="742" y2="1029.50" stroke="#000" stroke-width="2"/>
<line x1="1360" y1="1029.50" x2="1366" y2="1029.50" stroke="#000" stroke-width="2"/>
<line x1="736" y1="1082.50" x2="1366" y2="1082.50" stroke="#000" stroke-width="1"/>
<line x1="736" y1="1082.50" x2="742" y2="1082.50" stroke="#000" stroke-width="2"/>
<line x1="1360" y1="1082.50" x2="1366" y2="1082.50" stroke="#000" stroke-width="2"/>
<line x1="736" y1="1134.50" x2="1366" y2="1134.50" stroke="#000" stroke-width="1"/>
<line x1="736" y1="1134.50" x2="742" y2="1134.50" stroke="#000" stroke-width="2"/>
<line x1="1360" y1="1134.50" x2="1366" y2="1134.50" stroke="#000" stroke-width="2"/>
<line x1="736" y1="1187.50" x2="1366" y2="1187.50" stroke="#000" stroke-width="1"/>
<line x1="736" y1="1187.50" x2="742" y2="1187.50" stroke="#000" stroke-width="2"/>
<line x1="1360" y1="1187.50" x2="1366" y2="1187.50" stroke="#000" stroke-width="2"/>
<line x1="736" y1="1239.50" x2="1366" y2="1239.50" stroke="#000" stroke-width="1"/>
<line x1="736" y1="1239.50" x2="742" y2="1239.50" stroke="#000" stroke-width="2"/>
<line x1="1360" y1="1239.50" x2="1366" y2="1239.50" stroke="#000" stroke-width="2"/>
<line x1="762.25" y1="1291.6" x2="762.25" y2="1288.3999999999999" stroke="#000" stroke-width="2"/>
<line x1="762.25" y1="977.0" x2="762.25" y2="980.2" stroke="#000" stroke-width="2"/>
<line x1="788.50" y1="1291.6" x2="788.50" y2="1288.3999999999999" stroke="#000" stroke-width="2"/>
<line x1="788.50" y1="977.0" x2="788.50" y2="980.2" stroke="#000" stroke-width="2"/>
<line x1="814.75" y1="1291.6" x2="814.75" y2="1286.1" stroke="#000" stroke-width="2"/>
<line x1="814.75" y1="977.0" x2="814.75" y2="982.5" stroke="#000" stroke-width="2"/>
<line x1="841.00" y1="1291.6" x2="841.00" y2="1288.3999999999999" stroke="#000" stroke-width="2"/>
<line x1="841.00" y1="977.0" x2="841.00" y2="980.2" stroke="#000" stroke-width="2"/>
<line x1="867.25" y1="1291.6" x2="867.25" y2="1288.3999999999999" stroke="#000" stroke-width="2"/>
<line x1="867.25" y1="977.0" x2="867.25" y2="980.2" stroke="#000" stroke-width="2"/>
<line x1="893.50" y1="1291.6" x2="893.50" y2="1286.1" stroke="#000" stroke-width="2"/>
<line x1="893.50" y1="977.0" x2="893.50" y2="982.5" stroke="#000" stroke-width="2"/>
<line x1="919.75" y1="1291.6" x2="919.75" y2="1288.3999999999999" stroke="#000" stroke-width="2"/>
<line x1="919.75" y1="977.0" x2="919.75" y2="980.2" stroke="#000" stroke-width="2"/>
<line x1="946.00" y1="1291.6" x2="946.00" y2="1288.3999999999999" stroke="#000" stroke-width="2"/>
<line x1="946.00" y1="977.0" x2="946.00" y2="980.2" stroke="#000" stroke-width="2"/>
<line x1="972.25" y1="1291.6" x2="972.25" y2="1286.1" stroke="#000" stroke-width="2"/>
<line x1="972.25" y1="977.0" x2="972.25" y2="982.5" stroke="#000" stroke-width="2"/>
<line x1="998.50" y1="1291.6" x2="998.50" y2="1288.3999999999999" stroke="#000" stroke-width="2"/>
<line x1="998.50" y1="977.0" x2="998.50" y2="980.2" stroke="#000" stroke-width="2"/>
<line x1="1024.75" y1="1291.6" x2="1024.75" y2="1288.3999999999999" stroke="#000" stroke-width="2"/>
<line x1="1024.75" y1="977.0" x2="1024.75" y2="980.2" stroke="#000" stroke-width="2"/>
<line x1="1051.00" y1="1291.6" x2="1051.00" y2="1286.1" stroke="#000" stroke-width="2"/>
<line x1="1051.00" y1="977.0" x2="1051.00" y2="982.5" stroke="#000" stroke-width="2"/>
<line x1="1077.25" y1="1291.6" x2="1077.25" y2="1288.3999999999999" stroke="#000" stroke-width="2"/>
<line x1="1077.25" y1="977.0" x2="1077.25" y2="980.2" stroke="#000" stroke-width="2"/>
<line x1="1103.50" y1="1291.6" x2="1103.50" y2="1288.3999999999999" stroke="#000" stroke-width="2"/>
<line x1="1103.50" y1="977.0" x2="1103.50" y2="980.2" stroke="#000" stroke-width="2"/>
<line x1="1129.75" y1="1291.6" x2="1129.75" y2="1286.1" stroke="#000" stroke-width="2"/>
<line x1="1129.75" y1="977.0" x2="1129.75" y2="982.5" stroke="#000" stroke-width="2"/>
<line x1="1156.00" y1="1291.6" x2="1156.00" y2="1288.3999999999999" stroke="#000" stroke-width="2"/>
<line x1="1156.00" y1="977.0" x2="1156.00" y2="980.2" stroke="#000" stroke-width="2"/>
<line x1="1182.25" y1="1291.6" x2="1182.25" y2="1288.3999999999999" stroke="#000" stroke-width="2"/>
<line x1="1182.25" y1="977.0" x2="1182.25" y2="980.2" stroke="#000" stroke-width="2"/>
<line x1="1208.50" y1="1291.6" x2="1208.50" y2="1286.1" stroke="#000" stroke-width="2"/>
<line x1="1208.50" y1="977.0" x2="1208.50" y2="982.5" stroke="#000" stroke-width="2"/>
<line x1="1234.75" y1="1291.6" x2="1234.75" y2="1288.3999999999999" stroke="#000" stroke-width="2"/>
<line x1="1234.75" y1="977.0" x2="1234.75" y2="980.2" stroke="#000" stroke-width="2"/>
<line x1="1261.00" y1="1291.6" x2="1261.00" y2="1288.3999999999999" stroke="#000" stroke-width="2"/>
<line x1="1261.00" y1="977.0" x2="1261.00" y2="980.2" stroke="#000" stroke-width="2"/>
<line x1="1287.25" y1="1291.6" x2="1287.25" y2="1286.1" stroke="#000" stroke-width="2"/>
<line x1="1287.25" y1="977.0" x2="1287.25" y2="982.5" stroke="#000" stroke-width="2"/>
<line x1="1313.50" y1="1291.6" x2="1313.50" y2="1288.3999999999999" stroke="#000" stroke-width="2"/>
<line x1="1313.50" y1="977.0" x2="1313.50" y2="980.2" stroke="#000" stroke-width="2"/>
<line x1="1339.75" y1="1291.6" x2="1339.75" y2="1288.3999999999999" stroke="#000" stroke-width="2"/>
<line x1="1339.75" y1="977.0" x2="1339.75" y2="980.2" stroke="#000" stroke-width="2"/>
<rect x="736" y="977.0" width="630" height="314.5999999999999" fill="none" stroke="#000" stroke-width="4.4"/>
<text x="1397.5" y="984.8" font-size="22" text-anchor="end" fill="#000" >90</text>
<text x="1397.5" y="1037.2333333333333" font-size="22" text-anchor="end" fill="#000" >75</text>
<text x="1397.5" y="1089.6666666666665" font-size="22" text-anchor="end" fill="#000" >60</text>
<text x="1397.5" y="1142.1" font-size="22" text-anchor="end" fill="#000" >45</text>
<text x="1397.5" y="1194.5333333333333" font-size="22" text-anchor="end" fill="#000" >30</text>
<text x="1397.5" y="1246.9666666666665" font-size="22" text-anchor="end" fill="#000" >15</text>
<text x="1397.5" y="1299.3999999999999" font-size="22" text-anchor="end" fill="#000" >0</text>
<text x="736.0" y="1316" font-size="22" text-anchor="middle" fill="#000" >0</text>
<text x="814.75" y="1316" font-size="22" text-anchor="middle" fill="#000" >3</text>
<text x="893.5" y="1316" font-size="22" text-anchor="middle" fill="#000" >6</text>
<text x="972.25" y="1316" font-size="22" text-anchor="middle" fill="#000" >9</text>
<text x="1051.0" y="1316" font-size="22" text-anchor="middle" fill="#000" >12</text>
<text x="1129.75" y="1316" font-size="22" text-anchor="middle" fill="#000" >15</text>
<text x="1208.5" y="1316" font-size="22" text-anchor="middle" fill="#000" >18</text>
<text x="1287.25" y="1316" font-size="22" text-anchor="middle" fill="#000" >21</text>
<text x="1366.0" y="1316" font-size="22" text-anchor="middle" fill="#000" >24</text>
<text transform="translate(1428.6 1133.5) rotate(-90)" font-size="22" text-anchor="middle">Elevación (grados)</text>
<text x="1050.5" y="1344.6" font-size="22" text-anchor="middle" fill="#000" >Tiempo (horas)</text>
<defs><clipPath id="clipD"><rect x="69" y="979" width="626" height="310.5"/></clipPath><clipPath id="clipP"><circle cx="381.6" cy="685.5" r="211"/></clipPath></defs><g clip-path="url(#clipD)" fill="none" stroke-width="1.8" stroke-linecap="round" stroke-linejoin="round">
<path d="M69.1 1005 71 1007.4 73.8 1010.8 76.9 1014.7 80.2 1019.1 83.3 1023.5 85.9 1027.9 87.8 1032.2 89.5 1036.7 90.9 1041.3 92.3 1046 93.6 1050.6 95 1055.3 96.6 1059.9 98.1 1064.5 99.7 1069.2 101.2 1073.8 102.7 1078.3 104.2 1082.7 105.5 1086.9 106.7 1090.9 108 1094.8 109.2 1098.7 110.4 1102.8 111.8 1107 113.3 1111.8 115 1117.1 116.8 1122.6 118.5 1127.6 119.9 1131.9 120.9 1135" stroke="#b000ff"/>
<path d="M69.1 1039.3 72.2 1038.8 76.3 1038.2 81.2 1037.4 86.7 1036.6 92.4 1035.9 98.1 1035.5 104.1 1035.2 110.6 1035 117.5 1034.9 124.2 1034.9 130.6 1035 136.1 1035.2 140.7 1035.4 144.5 1035.6 147.8 1035.9 151.1 1036.4 154.7 1037 159 1037.8 164.3 1038.9 170.6 1040.4 177.1 1042.1 183.4 1043.7 188.7 1045.1 192.5 1046.1" stroke="#ff00ff"/>
<path d="M69.1 1037.8 73.1 1037.4 78.7 1037 85.3 1036.5 92.4 1036 99.3 1035.6 105.7 1035.5 111.5 1035.5 117.3 1035.7 123 1036 128.6 1036.5 134 1037.1 139.2 1037.8 144 1038.5 148.5 1039.4 152.8 1040.4 157.1 1041.5 161.6 1042.9 166.6 1044.6 172.1 1046.7 178.2 1049.1 184.6 1051.8 190.8 1054.6 196.5 1057.3 201.6 1059.8 205.7 1062.1 209.1 1064.1 212.1 1066 214.9 1068.1 217.9 1070.6 221.4 1073.5 225.6 1077.4 230.5 1082.2 235.6 1087.3 240.3 1092.3 244.4 1096.5 247.3 1099.4" stroke="#7000ff"/>
<path d="M143 1049.9 142.8 1052.8 142.6 1056.7 142.4 1061.3 142.2 1066.4 142.1 1071.6 142.2 1076.6 142.5 1081.5 142.8 1086.5 143.3 1091.7 143.9 1096.9 144.5 1102 145.3 1107 146.2 1112.2 147.3 1117.6 148.5 1122.9 149.7 1127.9 150.7 1132 151.3 1135" stroke="#ff00ff"/>
<path d="M139.9 1076.6 139.2 1077.8 138.1 1079.5 136.9 1081.5 135.6 1083.8 134.3 1086.2 133.1 1088.8" stroke="#a0ff00"/>
<path d="M133.1 1088.8 132 1091.3 130.9 1094 129.7 1096.9 128.7 1100 127.8 1103.3 127 1107" stroke="#00ff00"/>
<path d="M127 1107 126.4 1111.5 125.9 1116.7 125.5 1122.2 125.2 1127.4 124.9 1131.9 124.7 1135" stroke="#a0ff00"/>
<path d="M155.9 1135 156.3 1132 156.7 1127.8 157.2 1122.7 158 1117.4 159.1 1112 160.5 1107 162.3 1102.3 164.4 1097.6 166.8 1092.8 169.5 1088.2 172.4 1083.7 175.7 1079.6" stroke="#b000ff"/>
<path d="M175.7 1079.6 179.2 1075.8 183 1072.1 187 1068.6 191.4 1065.4 196.3 1062.4 201.6 1059.8 207.6 1057.5 214.3 1055.4 221.4 1053.6 228.7 1052.2 235.9 1051.2 242.7 1050.7 249.6 1051 256.8 1052 263.9 1053.5 270.5 1055.2 276 1056.6 280 1057.5" stroke="#ff00ff"/>
<path d="M234.3 1070.5 236.9 1072 240.5 1074.1 244.7 1076.6 249.3 1079.4 253.8 1082.5 257.9 1085.7 261.9 1089.5 266.2 1094.1 270.4 1098.8 274.3 1103.4 277.6 1107.3 280 1110.1" stroke="#b000ff"/>
<path d="M189.4 1117.7 192.8 1116.5 197.6 1114.9 203.2 1112.9 209.1 1111 214.9 1109.5 219.9 1108.5 223.9 1108.1 227.5 1107.9 230.9 1108 234.3 1108.6 238.1 1109.8 242.7 1111.6 248.5 1114.6 255.4 1118.8 262.8 1123.5 269.8 1128.2 275.8 1132.3 280 1135" stroke="#ff00ff"/>
<path d="M69.1 1091 104.2 1097.1" stroke="#0000ff"/>
<path d="M69.1 1076.6 72.2 1078.5 76.5 1081 81.6 1084.1 87.1 1087.6 92.7 1091.7 98.1 1096.4 103.6 1102.2 109.7 1109.3 115.9 1116.9 121.6 1124.3 126.5 1130.6 130 1135" stroke="#b000ff"/>
<path d="M69.1 1006.5 72.4 1005.3 76.9 1003.6 82.2 1001.5 87.8 999.4 93.3 997.4 98.1 995.9 102.5 994.7 107 993.7 111.3 992.9 115.2 992.3 118.5 991.7 120.9 991.3" stroke="#b000ff"/>
<path d="M300.4 998.2 302.6 998.9 305.6 999.9 309.2 1001 313 1002.5 316.8 1004.3 320.2 1006.5 323.5 1009.3 326.7 1012.5 329.9 1016 333 1019.8 335.9 1023.8 338.5 1027.9 340.8 1032.1 342.7 1036.5 344.5 1041.2 346.1 1045.9 347.7 1050.6 349.2 1055.3 350.6 1059.5 352 1063.5 353.3 1067.4 354.5 1071.7 355.6 1076.7 356.8 1082.7 358 1090.6 359.2 1100.2 360.3 1110.6 361.3 1120.5 362.2 1129.1 362.9 1135" stroke="#b000ff"/>
<path d="M270 991.3 272.5 992.4 276 993.7 280.2 995.3 284.6 997.2 288.9 999.5 292.8 1002 296.4 1004.9 300 1008.1 303.5 1011.7 306.8 1015.4 309.9 1019.3 312.6 1023.3 315 1027.2 316.9 1031.3 318.6 1035.5 320.2 1039.8 321.7 1044.4 323.3 1049.2 324.9 1054.1 326.4 1059.1 327.9 1064.3 329.4 1069.8 330.9 1075.9 332.4 1082.7 334.1 1090.9 335.8 1100.7 337.6 1110.9 339.2 1120.8 340.6 1129.1 341.6 1135" stroke="#ff00ff"/>
<path d="M382.7 992.8 380.5 994.1 377.4 995.8 373.9 997.8 370.2 1000.1 366.9 1002.5 364.4 1005 362.7 1007.7 361.5 1010.5 360.7 1013.5 360.1 1016.6 359.6 1019.9 359.1 1023.3 358.6 1026.7 358.2 1030.1 357.9 1033.6 357.7 1037.3 357.6 1041.5 357.5 1046.1 357.5 1051.2 357.5 1056.7 357.6 1062.5 357.8 1068.8 358 1075.5 358.3 1082.7 358.7 1091.1 359.3 1100.9 359.9 1111.1 360.5 1120.9 361 1129.2 361.3 1135" stroke="#ff00ff"/>
<path d="M404 1075.1 404.8 1071.8 406 1067.3 407.3 1062 408.8 1056.4 410.2 1050.9 411.6 1046.1 412.8 1041.9 414 1037.8 415.1 1033.9 416.3 1030.2 417.7 1026.7 419.2 1023.3 420.9 1020.1 422.6 1017.1 424.4 1014.2 426.5 1011.6 428.8 1009 431.4 1006.5 434.7 1004.1 438.6 1001.7 442.8 999.4 446.8 997.3 450.3 995.6 452.7 994.4" stroke="#b000ff"/>
<path d="M270 1054.5 272.5 1055.3 275.9 1056.3 280 1057.5 284.4 1059 288.8 1060.8 292.8 1062.9 296.7 1065.3 300.7 1068.1 304.7 1071.1 308.6 1074.3 312.3 1077.7 315.7 1081.1 318.7 1084.6 321.4 1088.1 324 1091.8 326.3 1095.6 328.6 1099.6 330.9 1104 333.2 1109 335.6 1114.9 337.9 1120.9 340 1126.7 341.8 1131.6 343.1 1135" stroke="#ff00ff"/>
<path d="M416.2 1135 417.6 1131 419.7 1125.4 422.1 1118.8 424.7 1111.9 427.3 1105.2 429.9 1099.4" stroke="#b000ff"/>
<path d="M429.9 1099.4 432.2 1094.4 434.5 1089.7 436.9 1085.3 439.4 1081.1 442.1 1077.2 445.1 1073.5 448.5 1070.1 452.2 1067 456.1 1064.1 460.1 1061.5 464.1 1059 467.9 1056.8 471.9 1054.7 476.2 1052.8 480.4 1051.2 484.3 1049.7 487.6 1048.6 490 1047.6" stroke="#ff00ff"/>
<path d="M430.6 1135 431.6 1132 433 1127.8 434.6 1122.7 436.5 1117.4 438.4 1112 440.5 1107" stroke="#00ffff"/>
<path d="M440.5 1107 442.7 1102.3 445.1 1097.5 447.6 1092.7 450.2 1088.1 453 1083.7 455.7 1079.6 458.6 1076 461.7 1072.6 464.8 1069.4 468 1066.5 471.1 1063.8 474 1061.3 477 1059 480.1 1056.8 483.1 1054.9 485.9 1053.2 488.3 1051.8 490 1050.7" stroke="#0080ff"/>
<path d="M463.4 1135 464.9 1132.4 466.9 1128.7 469.4 1124.4 472 1119.8 474.7 1115.4 477.1 1111.6 479.4 1108.1 481.9 1104.7 484.4 1101.4 486.7 1098.4 488.6 1095.9 490 1094.1" stroke="#b000ff"/>
<path d="M270 1097.9 271.3 1099.1 273.2 1100.6 275.3 1102.4 277.7 1104.6 280 1107.2 282.2 1110.1 284.4 1113.8 286.7 1118.4 289 1123.3 291.2 1128.1 293 1132.2 294.4 1135" stroke="#7000ff"/>
<path d="M595.7 989.8 598.2 990.7 601.6 991.9 605.7 993.3 609.9 995 613.8 996.9 617 998.9 619.5 1001.2 621.7 1003.7 623.5 1006.4 625.1 1009.4 626.5 1012.4 627.7 1015.7 628.6 1019 629.3 1022.6 629.7 1026.2 630 1030.1 630 1034.2 630 1038.5 629.7 1043.1 629.3 1048.1 628.8 1053.3 628 1058.5 627.2 1063.8 626.2 1069 625 1074 623.7 1078.9 622.3 1083.9 620.7 1088.9 619 1094 617 1099.4 614.7 1105.5 611.8 1112.2 608.8 1119.1 606 1125.6 603.5 1131.1 601.8 1135" stroke="#ff00ff"/>
<path d="M571.3 1135 574 1131.9 577.8 1127.5 582.2 1122.4 586.9 1116.9 591.5 1111.6 595.7 1107 599.3 1103.1 602.7 1099.5 606 1096.1 609.4 1092.8 613 1089.4 617 1085.7 621.4 1081.8 625.9 1077.7 630.6 1073.5 635.7 1069.4 641.3 1065.3 647.5 1061.3 654.9 1057.4 663.7 1053.2 673 1049.2 681.8 1045.4 689.3 1042.3 694.7 1040" stroke="#ff00ff"/>
<path d="M694.7 992.1 692.9 992.5 690.6 993 687.7 993.6 684.6 994.3 681.3 995.3 677.9 996.6 674.4 998.3 670.4 1000.1 666.3 1002.3 662.2 1004.6 658.4 1007 655.1 1009.6 652.2 1012.3 649.7 1015.2 647.5 1018.2 645.4 1021.3 643.4 1024.6 641.4 1027.9 639.4 1031.2 637.5 1034.5 635.7 1037.9 633.9 1041.5 632.3 1045.2 630.7 1049.2 629.3 1053.3 628.1 1057.7 626.9 1062.3 625.8 1067 624.5 1071.8 623.1 1076.6 621.4 1081.8 619.4 1087.6 617.3 1093.5 615.3 1099 613.7 1103.7 612.5 1107" stroke="#ff00ff"/>
<path d="M694.7 1010.3 693.1 1011.8 691 1013.8 688.5 1016.2 685.8 1018.9 683.2 1021.8 681 1024.8 679 1027.9 677.1 1031.4 675.3 1034.9 673.5 1038.7 671.9 1042.4 670.3 1046.1 668.8 1049.8 667.5 1053.6 666.2 1057.4 665 1061.3 663.8 1065.1 662.7 1069 661.6 1072.8 660.6 1076.6 659.7 1080.5 658.8 1084.3 657.7 1088.1 656.6 1091.8 655.2 1095.7 653.7 1099.8 652 1103.9 650.5 1107.6 649.2 1110.8 648.2 1113.1" stroke="#b000ff"/>
<path d="M480 1056 482.4 1054.9 485.6 1053.2 489.5 1051.3 493.8 1049.3 498.3 1047.5 502.8 1046.1" stroke="#0080ff"/>
<path d="M502.8 1046.1 507.5 1045 512.4 1044.1 517.6 1043.4 522.9 1042.8 528.1 1042.4 533.3 1042.3 538.4 1042.4 543.4 1042.8 548.5 1043.3 553.6 1044.1 558.7 1045 563.7 1046.1" stroke="#00ffff"/>
<path d="M563.7 1046.1 568.9 1047.4 574.3 1048.9 579.6 1050.6 584.8 1052.5 589.7 1054.6 594.2 1056.8 598.2 1059.2 601.9 1061.9 605.3 1064.7 608.5 1067.6 611.3 1070.6 614 1073.5" stroke="#0080ff"/>
<path d="M614 1073.5 616.3 1076.4 618.3 1079.3 620.1 1082.3 621.6 1085.3 623.1 1088.5 624.6 1091.8 626.2 1095.4 627.6 1099.2 629 1103.1 630.3 1107 631.4 1110.9 632.2 1114.6 632.9 1118.4 633.3 1122.4 633.5 1126.3 633.6 1129.8 633.7 1132.8 633.8 1135" stroke="#00ffff"/>
<path d="M480 1049.9 483.3 1049.2 487.9 1048 493.3 1046.7 499.2 1045.5 505 1044.4 510.4 1043.8 515.6 1043.7 520.9 1043.8 526.2 1044.2 531.3 1044.8 536.3 1045.4 540.9 1046.1 545.3 1046.9 549.4 1047.8 553.4 1048.7 557.1 1049.8 560.5 1051 563.7 1052.2 566.7 1053.7 569.5 1055.4 572 1057.2 574.2 1058.9 576.1 1060.3 577.4 1061.3" stroke="#ff00ff"/>
<path d="M480 1105.5 482.5 1102.9 485.9 1099.3 490 1095 494.4 1090.6 498.8 1086.3 502.8 1082.7" stroke="#b000ff"/>
<path d="M502.8 1082.7 506.6 1079.7 510.2 1076.9 513.8 1074.4 517.5 1072 521.4 1069.7 525.7 1067.4" stroke="#ff00ff"/>
<path d="M525.7 1067.4 530.3 1065.2 535.3 1062.9 540.4 1060.7 545.7 1058.7 551 1056.9 556.1 1055.3 561 1053.9 565.7 1052.7 570.4 1051.7 575.3 1050.9 580.6 1050.3 586.6 1049.9 593.5 1049.8 601.2 1049.9 609.4 1050.3 617.6 1050.8 625.3 1051.4 632.2 1052.2 638.2 1053.1 643.5 1054.1 648.3 1055.2 653 1056.5 657.7 1058.1 662.7 1059.8 668.3 1062.1 674.4 1064.9 680.6 1067.9 686.3 1070.8 691.2 1073.3 694.7 1075.1" stroke="#b000ff"/>
<path d="M547 1135 549.6 1132.9 553.1 1130 557.3 1126.6 561.9 1122.9 566.7 1119.3 571.3 1116.2 576.2 1113.3 581.3 1110.5 586.7 1107.8 592 1105.3 597.1 1103 601.8 1100.9 606 1099.2 610 1097.7 613.7 1096.4 617.3 1095.2 620.9 1094.2 624.6 1093.3 628.4 1092.5 632.2 1091.9 636.1 1091.4 639.9 1091 643.7 1090.6 647.5 1090.3 651.3 1089.9 655 1089.5 658.8 1089.2 662.6 1088.9 666.4 1088.8 670.3 1088.8 674.6 1088.9 679.2 1089.3 683.9 1089.8 688.3 1090.3 692 1090.7 694.7 1091" stroke="#0000ff"/>
<path d="M556.1 1135 558.6 1131.9 562 1127.6 566.1 1122.6 570.5 1117.1 574.9 1111.8 579 1107 582.8 1102.7 586.6 1098.4 590.4 1094.2 594.2 1090.2 598 1086.3 601.8 1082.7 605.5 1079.2 609.1 1076 612.7 1073 616.5 1070 620.4 1067.2 624.6 1064.4 629.2 1061.6 633.9 1058.9 638.8 1056.3 644 1053.8 649.4 1051.4 655.1 1049.2 661.6 1047 669.1 1044.9 676.8 1042.9 684.1 1041.1 690.3 1039.6 694.7 1038.5" stroke="#7000ff"/>
<path d="M519.6 1135 521.9 1133.5 525.1 1131.4 528.8 1128.9 532.9 1126.3 537 1124 540.9 1122.2 544.6 1121 548.4 1120 552.2 1119.2 556.1 1118.7 559.9 1118.4 563.7 1118.4 567.6 1118.8 571.6 1119.5 575.6 1120.4 579.5 1121.5 583.2 1122.6 586.6 1123.8 589.7 1125 592.8 1126.4 595.6 1127.9 598.1 1129.3 600.2 1130.5 601.8 1131.4" stroke="#b000ff"/>
<path d="M571.3 1135 573.8 1132.3 577.3 1128.5 581.3 1124.1 585.7 1119.3 590.1 1114.5 594.2 1110.1 598 1106 602 1101.8 605.9 1097.8 609.8 1093.7 613.5 1089.7 617 1085.7 620.5 1081.6 624.1 1077.1 627.6 1072.8 630.7 1068.7 633.4 1065.3 635.3 1062.9" stroke="#ff00ff"/>
<path d="M612.5 1135 613.3 1131.4 614.5 1126.2 615.9 1120.2 617.4 1113.8 618.8 1107.7 620.1 1102.5 621.2 1097.8 622.4 1093.3 623.6 1089 624.6 1085.2 625.5 1082 626.2 1079.6" stroke="#7000ff"/>
<path d="M125.5 1125 125.2 1129.1 124.9 1134.9 124.5 1141.7 124.2 1149 124 1156.3 123.9 1163.1" stroke="#ffff00"/>
<path d="M123.9 1163.1 124.2 1169.5 124.5 1176 125 1182.6 125.6 1189 126.3 1195.2 127 1201.1" stroke="#ff9000"/>
<path d="M127 1201.1 127.8 1206.6 128.8 1211.8 129.8 1216.8 130.9 1221.7 132 1226.6 133.1 1231.6 134.1 1236.8 135.1 1242.1 136.1 1247.4 137.1 1252.6 138.2 1257.5 139.2 1262" stroke="#ff0000"/>
<path d="M139.2 1262 140.3 1266.4 141.4 1270.6 142.6 1274.6 143.7 1278.2 144.6 1281.1 145.3 1283.3" stroke="#000000"/>
<path d="M117.9 1125 119 1128.2 120.6 1132.6 122.4 1137.8 124.5 1143.6 126.5 1149.6 128.5 1155.4" stroke="#7000ff"/>
<path d="M128.5 1155.4 130.5 1161.5 132.5 1168 134.6 1174.8 136.7 1181.4 138.7 1187.8 140.7 1193.5 142.5 1198.5 144.3 1203 146 1207.1 147.7 1211.1 149.5 1215.1 151.3 1219.4" stroke="#0000ff"/>
<path d="M151.3 1219.4 153.3 1223.9 155.3 1228.6 157.3 1233.3 159.4 1237.9 161.5 1242.5 163.5 1246.8" stroke="#00ffff"/>
<path d="M163.5 1246.8 165.6 1251 167.9 1255.2 170.1 1259.3 172.2 1263.1 174.1 1266.6 175.7 1269.6" stroke="#00ff00"/>
<path d="M175.7 1269.6 177 1272.2 178 1274.5 178.8 1276.4 179.4 1278 179.9 1279.3 180.3 1280.3" stroke="#ffff00"/>
<path d="M123.9 1125 126.3 1127.4 129.6 1130.8 133.5 1134.7 137.6 1139 141.6 1143.5 145.3 1147.8 148.5 1152.2 151.7 1156.9 154.8 1161.7 157.8 1166.5 160.7 1171.1 163.5 1175.2" stroke="#7000ff"/>
<path d="M163.5 1175.2 166.2 1178.9 168.8 1182.3 171.3 1185.4 173.8 1188.5 176.3 1191.6 178.8 1195 181.5 1198.9 184.4 1203.3 187.3 1207.7 190 1211.8 192.3 1215.4 194 1217.9" stroke="#0000ff"/>
<path d="M148.3 1125 149 1128.3 150 1132.9 151.2 1138.3 152.4 1144.2 153.5 1150 154.4 1155.4" stroke="#b000ff"/>
<path d="M154.4 1155.4 155 1160.5 155.5 1165.6 155.8 1170.7 156.2 1175.7 156.7 1180.8 157.4 1185.9" stroke="#0000ff"/>
<path d="M157.4 1185.9 158.5 1191 159.8 1196 161.2 1201.1 162.6 1206.2 163.9 1211.3 165.1 1216.3" stroke="#00ffff"/>
<path d="M165.1 1216.3 166 1221.5 166.7 1226.8 167.4 1232.1 168.1 1237.2 168.8 1242.2 169.6 1246.8" stroke="#00ff00"/>
<path d="M169.6 1246.8 170.6 1251.3 171.8 1255.8 172.9 1260.1 174.1 1264 175 1267.2 175.7 1269.6" stroke="#ffff00"/>
<path d="M157.4 1125 157.1 1128.4 156.5 1133.3 155.9 1139 155.3 1145 154.8 1150.6 154.4 1155.4" stroke="#b000ff"/>
<path d="M154.4 1155.4 154.2 1159.3 154.2 1162.7 154.3 1165.8 154.4 1168.8 154.4 1171.9 154.4 1175.2" stroke="#0000ff"/>
<path d="M154.4 1175.2 154.2 1179.1 153.9 1183.5 153.6 1187.9 153.3 1192 153.1 1195.6 152.9 1198.1" stroke="#00ffff"/>
<path d="M163.5 1173.7 165.4 1171.1 167.8 1167.5 170.8 1163.2 174.1 1158.7 177.8 1154.4 181.8 1150.9 186.3 1147.9 191.3 1145 196.7 1142.4 202.2 1140.2 207.5 1138.4 212.2 1137.2 216.5 1136.6 220.4 1136.5 224.1 1136.9 227.8 1137.7 231.4 1138.8 235.1 1140.2 238.9 1142 242.7 1144.1 246.6 1146.6 250.4 1149.4 254.2 1152.3 257.9 1155.4" stroke="#0000ff"/>
<path d="M257.9 1155.4 261.9 1159.1 266.2 1163.3 270.4 1167.8 274.3 1172.1 277.6 1175.7 280 1178.3" stroke="#0080ff"/>
<path d="M152.9 1181.3 156.1 1180.3 160.6 1178.8 165.9 1177.1 171.5 1175.4 177 1174.2 181.8 1173.7 186 1174 189.9 1174.8 193.6 1176 197.2 1177.6 200.9 1179.4 204.6 1181.3 208.4 1183.5 212.2 1185.9 216.1 1188.6 219.9 1191.5 223.7 1194.7 227.5 1198.1" stroke="#0000ff"/>
<path d="M227.5 1198.1 231.4 1201.9 235.5 1206.1 239.6 1210.6 243.5 1215.2 247.1 1219.7 250.3 1224" stroke="#0080ff"/>
<path d="M250.3 1224 253 1227.9 255.2 1231.8 257.2 1235.6 258.9 1239.3 260.7 1243 262.5 1246.8" stroke="#00ffff"/>
<path d="M262.5 1246.8 264.4 1250.7 266.4 1254.6 268.3 1258.6 270.1 1262.5 271.7 1266.2 273.1 1269.6" stroke="#00ff00"/>
<path d="M273.1 1269.6 274.3 1273 275.3 1276.3 276.1 1279.4 276.8 1282.3 277.3 1284.6 277.7 1286.4" stroke="#ffff00"/>
<path d="M210 1150.9 211.9 1153.9 214.6 1158.2 217.8 1163.2 221.2 1168.5 224.5 1173.7 227.5 1178.3" stroke="#b000ff"/>
<path d="M227.5 1178.3 230.1 1182.3 232.7 1186 235.2 1189.5 237.7 1193.1 240.2 1196.9 242.7 1201.1" stroke="#0000ff"/>
<path d="M242.7 1201.1 245.3 1205.8 247.9 1211 250.6 1216.3 253.2 1221.7 255.7 1226.9 257.9 1231.6" stroke="#00ffff"/>
<path d="M257.9 1231.6 260 1235.8 261.9 1239.8 263.6 1243.5 265.3 1247.1 266.9 1250.7 268.6 1254.4" stroke="#00ff00"/>
<path d="M268.6 1254.4 270.3 1258.5 272.1 1262.9 273.8 1267.3 275.4 1271.3 276.7 1274.8 277.7 1277.2" stroke="#ff9000"/>
<path d="M98.1 1271.2 99.7 1268.8 102 1265.5 104.7 1261.5 107.6 1257.4 110.6 1253.4 113.3 1249.8" stroke="#ffff00"/>
<path d="M113.3 1249.8 115.8 1246.7 118.4 1243.5 120.9 1240.5 123.4 1237.7 126 1235.2 128.5 1233.1" stroke="#00ff00"/>
<path d="M128.5 1233.1 131 1231.4 133.3 1230 135.6 1228.9 138.1 1228.1 140.8 1227.5 143.7 1227 147.1 1226.7 150.8 1226.6 154.7 1226.6 158.7 1227 162.7 1227.6 166.6 1228.5 170.5 1230 174.6 1231.9 178.8 1234 182.7 1236.4 186.3 1238.6 189.4 1240.7" stroke="#00ffff"/>
<path d="M189.4 1240.7 191.9 1242.6 194 1244.3 195.7 1246.1 197.2 1247.8 198.7 1249.6 200.1 1251.4" stroke="#00ff00"/>
<path d="M200.1 1251.4 201.5 1253.4 202.9 1255.5 204.2 1257.7 205.3 1259.8 206.2 1261.5 206.9 1262.8" stroke="#ff9000"/>
<path d="M157.4 1188.9 158.4 1191.9 159.7 1196 161.2 1200.9 163 1206.2 164.8 1211.5 166.6 1216.3 168.4 1221 170.5 1225.8 172.6 1230.6 174.7 1235.3 176.8 1239.7 178.8 1243.8" stroke="#00ff00"/>
<path d="M178.8 1243.8 180.6 1247.3 182.4 1250.5 184.1 1253.4 185.8 1256.2 187.6 1259 189.4 1262" stroke="#ffff00"/>
<path d="M189.4 1262 191.5 1265.5 193.8 1269.2 196.2 1273.1 198.4 1276.6 200.2 1279.6 201.6 1281.8" stroke="#ff0000"/>
<path d="M225.2 1263.5 225.8 1264.5 226.5 1265.7 227.4 1267.3 228.4 1269 229.5 1270.8 230.5 1272.7" stroke="#ffff00"/>
<path d="M230.5 1272.7 231.7 1274.9 232.9 1277.4 234.3 1280.1 235.5 1282.7 236.6 1284.8 237.4 1286.4" stroke="#ff0000"/>
<path d="M81.3 1289.4 82.6 1288 84.5 1285.9 86.6 1283.5 89 1280.9 91.3 1278.3 93.5 1275.7" stroke="#000000"/>
<path d="M93.5 1275.7 95.5 1273.3 97.6 1270.8 99.7 1268.3 101.7 1265.7 103.7 1263.1 105.7 1260.5" stroke="#ff0000"/>
<path d="M105.7 1260.5 107.7 1257.6 109.7 1254.4 111.8 1251.2 113.6 1248.2 115.2 1245.6 116.3 1243.8" stroke="#ffff00"/>
<path d="M92 1288.7 96.5 1275.7" stroke="#ff0000"/>
<path d="M110.2 1269.6 128.5 1269.6" stroke="#000000"/>
<path d="M136.1 1275.7 138.1 1275.5 141 1275.1 144.3 1274.7 147.9 1274.3 151.3 1274.1 154.4 1274.2 157.2 1274.6 159.9 1275.2 162.5 1275.9 165 1276.8 167.4 1277.8 169.6 1278.8" stroke="#ff0000"/>
<path d="M169.6 1278.8 171.8 1280 173.9 1281.4 175.9 1282.9 177.7 1284.3 179.2 1285.5 180.3 1286.4" stroke="#000000"/>
<path d="M130.8 1257.5 130.2 1258.7 129.2 1260.3 128.1 1262.3 127 1264.4 126.1 1266.4 125.5 1268.1" stroke="#ffff00"/>
<path d="M125.5 1268.1 125.2 1269.6 125.1 1271.2 125.1 1272.6 125.3 1273.9 125.4 1274.9 125.5 1275.7" stroke="#ff0000"/>
<path d="M265.5 1125 280 1137.2" stroke="#ff00ff"/>
<path d="M270 1128 272.6 1131 276.2 1135 280.5 1139.8 284.9 1145.1 289.2 1150.4 292.8 1155.4" stroke="#ff00ff"/>
<path d="M292.8 1155.4 295.8 1160.3 298.5 1165.4 301 1170.5 303.4 1175.6 305.7 1180.8 308.1 1185.9" stroke="#b000ff"/>
<path d="M308.1 1185.9 310.5 1191.1 312.9 1196.3 315.3 1201.6 317.6 1206.8 319.8 1211.7 321.8 1216.3" stroke="#0000ff"/>
<path d="M321.8 1216.3 323.6 1220.4 325.1 1224 326.6 1227.3 328 1230.7 329.4 1234.6 330.9 1239.2" stroke="#00ffff"/>
<path d="M330.9 1239.2 332.5 1245 334.3 1251.9 336 1259.2 337.7 1266.3 339 1272.5 340 1277.2" stroke="#00ff00"/>
<path d="M340 1277.2 340.6 1280.4 340.7 1282.3 340.6 1283.4 340.4 1284 340.1 1284.4 340 1284.9" stroke="#ff0000"/>
<path d="M288.3 1125 290.1 1128.3 292.8 1132.9 295.9 1138.3 299.2 1144.2 302.3 1150 305 1155.4" stroke="#7000ff"/>
<path d="M305 1155.4 307.3 1160.5 309.5 1165.6 311.5 1170.7 313.4 1175.7 315.3 1180.8 317.2 1185.9" stroke="#0000ff"/>
<path d="M317.2 1185.9 319.1 1191 321 1196 322.9 1201.1 324.7 1206.2 326.4 1211.3 327.9 1216.3" stroke="#0080ff"/>
<path d="M327.9 1216.3 329.2 1221.4 330.3 1226.5 331.3 1231.6 332.2 1236.6 333.1 1241.7 333.9 1246.8" stroke="#00ffff"/>
<path d="M333.9 1246.8 334.8 1252.2 335.7 1258.1 336.6 1263.9 337.4 1269.4 338 1273.9 338.5 1277.2" stroke="#00ff00"/>
<path d="M274.6 1155.4 276.3 1158.8 278.7 1163.3 281.5 1168.8 284.5 1174.6 287.3 1180.5 289.8 1185.9" stroke="#0000ff"/>
<path d="M289.8 1185.9 291.9 1191 293.7 1196.2 295.5 1201.3 297.2 1206.4 298.8 1211.5 300.4 1216.3" stroke="#0080ff"/>
<path d="M300.4 1216.3 302 1221 303.6 1225.4 305 1229.7 306.5 1234.1 308 1238.7 309.6 1243.8 311.4 1249.7 313.4 1256.6 315.5 1263.7 317.4 1270.5 319.1 1276.2 320.2 1280.3" stroke="#00ff00"/>
<path d="M270 1164.6 271.7 1166.8 273.9 1169.9 276.7 1173.5 279.6 1177.6 282.5 1181.7 285.2 1185.9" stroke="#0080ff"/>
<path d="M285.2 1185.9 287.8 1190 290.3 1194.4 292.8 1198.8 295.4 1203.5 297.9 1208.3 300.4 1213.3" stroke="#00ffff"/>
<path d="M300.4 1213.3 303 1218.5 305.6 1223.9 308.2 1229.5 310.7 1235.2 313.2 1241 315.7 1246.8" stroke="#00ff00"/>
<path d="M315.7 1246.8 318.2 1253.1 320.9 1260.1 323.5 1267.2 325.9 1273.8 327.9 1279.3 329.4 1283.3" stroke="#ff9000"/>
<path d="M338.5 1125 339.4 1128.3 340.7 1132.9 342.2 1138.3 343.8 1144.2 345.1 1150 346.1 1155.4" stroke="#ff00ff"/>
<path d="M346.1 1155.4 346.7 1160.5 347.1 1165.6 347.3 1170.7 347.4 1175.7 347.5 1180.8 347.6 1185.9 347.9 1190.9 348.1 1195.8 348.3 1200.6 348.5 1205.6 348.8 1210.8 349.2 1216.3" stroke="#0000ff"/>
<path d="M349.2 1216.3 349.6 1222.4 350 1228.9 350.5 1235.6 351 1242.2 351.6 1248.6 352.2 1254.4" stroke="#00ffff"/>
<path d="M352.2 1254.4 352.9 1259.9 353.8 1265.4 354.7 1270.5 355.5 1275.1 356.3 1279 356.8 1281.8" stroke="#00ff00"/>
<path d="M362.9 1125 363.4 1129.1 364.1 1134.9 365 1141.7 365.9 1149 366.7 1156.3 367.4 1163.1 368.1 1169.5 368.6 1176 369.2 1182.6 369.6 1189 370.1 1195.2 370.5 1201.1 370.8 1206.4 371.1 1211.1 371.4 1215.6 371.6 1220.2 371.8 1225.4 372 1231.6" stroke="#0000ff"/>
<path d="M372 1231.6 372.2 1239.4 372.3 1248.7 372.5 1258.6 372.6 1268.1 372.7 1276.1 372.8 1281.8" stroke="#00ffff"/>
<path d="M341.6 1137.2 342.4 1140 343.6 1144.1 345.1 1148.8 346.6 1153.8 348 1158.7 349.2 1163.1" stroke="#0000ff"/>
<path d="M349.2 1163.1 350.2 1167.1 351.1 1171.3 351.9 1175.3 352.7 1179 353.3 1182.1 353.7 1184.4" stroke="#0080ff"/>
<path d="M418.4 1125 417.7 1127.3 416.7 1130.4 415.5 1134 414.2 1138.3 412.9 1142.9 411.6 1147.8" stroke="#b000ff"/>
<path d="M411.6 1147.8 410.3 1153.3 409.1 1159.4 407.7 1165.9 406.4 1172.6 405.2 1179.4 404 1185.9" stroke="#0000ff"/>
<path d="M404 1185.9 402.9 1192.2 401.8 1198.6 400.8 1204.9 399.9 1211.3 398.9 1217.6 397.9 1224" stroke="#0080ff"/>
<path d="M397.9 1224 396.8 1230.4 395.8 1237 394.7 1243.7 393.7 1250.1 392.7 1256.3 391.8 1262" stroke="#00ff00"/>
<path d="M391.8 1262 391 1267.5 390.2 1273 389.5 1278.1 388.9 1282.7 388.4 1286.6 388 1289.4" stroke="#ff9000"/>
<path d="M434.4 1125 433.8 1127.3 432.9 1130.4 431.9 1134 430.7 1138.3 429.5 1142.9 428.3 1147.8" stroke="#00ffff"/>
<path d="M428.3 1147.8 427.1 1153.3 425.9 1159.4 424.5 1165.9 423.2 1172.6 421.9 1179.4 420.7 1185.9" stroke="#00ff90"/>
<path d="M420.7 1185.9 419.6 1192.2 418.5 1198.6 417.5 1204.9 416.5 1211.3 415.5 1217.6 414.6 1224" stroke="#ffff00"/>
<path d="M414.6 1224 413.8 1230.5 412.9 1237.2 412.2 1243.9 411.4 1250.5 410.7 1256.6 410.1 1262" stroke="#a0ff00"/>
<path d="M410.1 1262 409.4 1267 408.8 1271.6 408.3 1275.8 407.8 1279.5 407.3 1282.6 407 1284.9" stroke="#ff0000"/>
<path d="M467.9 1125 466.2 1128.3 463.9 1132.9 461.1 1138.3 458.1 1144.2 455.2 1150 452.7 1155.4" stroke="#b000ff"/>
<path d="M452.7 1155.4 450.4 1160.5 448.2 1165.6 446.1 1170.7 444.1 1175.7 442.2 1180.8 440.5 1185.9" stroke="#0000ff"/>
<path d="M440.5 1185.9 439 1190.9 437.6 1195.9 436.4 1200.9 435.3 1206 434.1 1211.1 432.9 1216.3" stroke="#0080ff"/>
<path d="M432.9 1216.3 431.5 1222.1 430.1 1228.5 428.6 1235 427.3 1241 426.1 1246.2 425.3 1249.8" stroke="#00ffff"/>
<path d="M477.1 1201.1 475.2 1205 472.5 1210.5 469.4 1217 466.1 1223.8 462.9 1230.4 460.3 1236.1" stroke="#00ff00"/>
<path d="M460.3 1236.1 458.2 1241 456.3 1245.6 454.5 1249.8 452.9 1254 451.3 1258 449.7 1262" stroke="#ffff00"/>
<path d="M449.7 1262 447.9 1266.3 446.2 1270.7 444.4 1275.1 442.8 1279.1 441.5 1282.4 440.5 1284.9" stroke="#ff0000"/>
<path d="M490 1201.1 488 1205.4 485.3 1211.3 482 1218.3 478.6 1225.7 475.3 1232.8 472.5 1239.2 470.1 1244.9 467.8 1250.6 465.7 1256 463.7 1261.1 461.9 1265.7 460.3 1269.6" stroke="#00ff00"/>
<path d="M460.3 1269.6 458.9 1272.9 457.6 1275.5 456.5 1277.6 455.6 1279.3 454.8 1280.7 454.2 1281.8" stroke="#ffff00"/>
<path d="M443.6 1243.8 442.5 1246.1 441.1 1249.4 439.4 1253.3 437.6 1257.4 435.9 1261.4 434.4 1265.1 433.2 1268.5 431.9 1272.1 430.8 1275.5 429.8 1278.7 429 1281.4 428.3 1283.3" stroke="#00ff00"/>
<path d="M419.2 1262 419.2 1286.4" stroke="#ff9000"/>
<path d="M284.5 1237.7 285.7 1240.3 287.5 1243.9 289.6 1248.1 291.8 1252.8 294 1257.5 295.9 1262" stroke="#ffff00"/>
<path d="M295.9 1262 297.6 1266.7 299.4 1271.9 301.2 1277.2 302.7 1282.2 304 1286.4 305 1289.4" stroke="#ff0000"/>
<path d="M270 1260.5 282.2 1284.9" stroke="#ff0000"/>
<path d="M490 1252.9 480.1 1284.9" stroke="#00ff00"/>
<path d="M536.3 1125 534.3 1126.1 531.5 1127.6 528.1 1129.4 524.6 1131.4 521.1 1133.5 518.1 1135.7 515.3 1137.9 512.6 1140.3 510.1 1142.8 507.6 1145.4 505.2 1148.1 502.8 1150.9 500.5 1154 498.1 1157.4 495.8 1161 493.7 1164.3 491.9 1167.1 490.7 1169.2" stroke="#b000ff"/>
<path d="M559.2 1125 556.3 1126.9 552.3 1129.5 547.7 1132.6 542.6 1136.1 537.7 1139.7 533.3 1143.3 529.2 1147 525.2 1151.1 521.2 1155.3 517.4 1159.5 513.8 1163.7 510.4 1167.6" stroke="#0080ff"/>
<path d="M510.4 1167.6 507.5 1171.2 504.8 1174.5 502.4 1177.7 500 1181.1 497.7 1184.7 495.2 1188.9 492.5 1194.2 489.6 1200.4 486.7 1207 483.9 1213.3 481.7 1218.7 480 1222.4" stroke="#00ffff"/>
<path d="M562.2 1125 560.7 1127.4 558.7 1130.6 556.3 1134.5 553.7 1138.8 551 1143.3 548.5 1147.8 546 1152.6 543.4 1157.7 540.7 1163.1 538.1 1168.4 535.6 1173.6 533.3 1178.3 531.3 1182.4 529.5 1186.2 527.8 1189.7 526.1 1193.2 524.4 1197 522.6 1201.1" stroke="#0000ff"/>
<path d="M522.6 1201.1 520.7 1205.8 518.7 1210.7 516.6 1215.9 514.6 1221.1 512.5 1226.4 510.4 1231.6" stroke="#0080ff"/>
<path d="M510.4 1231.6 508.4 1236.7 506.3 1241.9 504.2 1247.1 502.1 1252.2 500.1 1257.2 498.3 1262" stroke="#00ffff"/>
<path d="M498.3 1262 496.5 1266.9 494.7 1271.9 492.9 1276.9 491.4 1281.4 490.1 1285.1 489.1 1287.9" stroke="#00ff00"/>
<path d="M579 1125 577.3 1127.2 575 1130.1 572.3 1133.7 569.4 1137.5 566.5 1141.3 563.7 1144.8 561.1 1148.1 558.5 1151.6 555.8 1155 553.2 1158.3 550.8 1161.6 548.5 1164.6 546.5 1167.3 544.7 1169.8 543 1172.1 541.4 1174.5 539.7 1177 537.9 1179.8" stroke="#ff00ff"/>
<path d="M537.9 1179.8 535.9 1182.9 533.9 1186.2 531.9 1189.6 529.8 1193.2 527.7 1197.1 525.7 1201.1" stroke="#7000ff"/>
<path d="M525.7 1201.1 523.5 1205.8 521.2 1211.3 518.8 1216.9 516.7 1222.3 514.8 1226.8 513.5 1230.1" stroke="#0000ff"/>
<path d="M603.3 1125 602.5 1126.6 601.4 1128.7 600.1 1131.2 598.6 1134 597.2 1137.1 595.7 1140.2 594.3 1143.7 592.8 1147.5 591.3 1151.5 589.8 1155.6 588.2 1159.5 586.6 1163.1" stroke="#b000ff"/>
<path d="M586.6 1163.1 584.8 1166.4 582.7 1169.7 580.7 1172.9 578.7 1175.7 577.1 1178.1 575.9 1179.8" stroke="#0000ff"/>
<path d="M614 1125 613.4 1127.4 612.6 1130.6 611.6 1134.5 610.5 1138.8 609.2 1143.3 607.9 1147.8 606.4 1152.5 604.7 1157.4 602.8 1162.6 601 1167.9 599.1 1173.1 597.2 1178.3" stroke="#0000ff"/>
<path d="M597.2 1178.3 595.5 1183.4 593.7 1188.4 592 1193.5 590.2 1198.6 588.4 1203.7 586.6 1208.7" stroke="#0080ff"/>
<path d="M586.6 1208.7 584.7 1213.8 582.7 1218.9 580.7 1224.1 578.6 1229.1 576.5 1234.2 574.4 1239.2 572 1244.4 569.4 1250 566.8 1255.6 564.3 1260.7 562.2 1265 560.7 1268.1" stroke="#00ff00"/>
<path d="M586.6 1125 589.1 1126.6 592.8 1128.8 597 1131.4 601.5 1134.2 605.8 1137.2 609.4 1140.2 612.5 1143.2 615.3 1146.3 617.9 1149.5 620.3 1152.8 622.5 1156.3 624.6 1160" stroke="#b000ff"/>
<path d="M624.6 1160 626.5 1163.9 628.2 1168 629.7 1172.3 631.1 1176.7 632.4 1181.3 633.8 1185.9 635.2 1190.7 636.6 1195.7 638.1 1200.8 639.4 1206 640.5 1211.2 641.4 1216.3" stroke="#0000ff"/>
<path d="M641.4 1216.3 642 1221.3 642.4 1226 642.6 1230.8 642.7 1235.7 642.8 1241 642.9 1246.8" stroke="#0080ff"/>
<path d="M642.9 1246.8 643.1 1253.7 643.2 1261.7 643.4 1270 643.5 1277.9 643.6 1284.7 643.7 1289.4" stroke="#00ffff"/>
<path d="M633.8 1125 634 1128.3 634.2 1132.9 634.5 1138.3 634.8 1144.2 635.1 1150 635.3 1155.4 635.4 1160.6 635.5 1165.9 635.6 1171.2 635.6 1176.3 635.5 1181.3 635.3 1185.9" stroke="#00ffff"/>
<path d="M635.3 1185.9 635 1190.1 634.6 1193.8 634.2 1197.3 633.6 1200.8 633 1204.6 632.2 1208.7 631.4 1213.4 630.4 1218.3 629.4 1223.5 628.3 1228.8 627.2 1234 626.2 1239.2" stroke="#00ff00"/>
<path d="M626.2 1239.2 625.1 1244.6 623.9 1250.5 622.7 1256.3 621.6 1261.7 620.7 1266.3 620.1 1269.6" stroke="#ffff00"/>
<path d="M597.2 1174.5 599.4 1175.5 602.5 1176.8 606.2 1178.5 610 1180.3 613.8 1182.3 617 1184.4 619.9 1186.5 622.6 1188.7 625.1 1191.1 627.6 1193.7 629.9 1196.5 632.2 1199.6 634.5 1203.2 636.7 1207.1 638.8 1211.3 640.8 1215.6 642.7 1219.9 644.4 1224" stroke="#00ff00"/>
<path d="M644.4 1224 646 1227.8 647.4 1231.4 648.6 1235 649.8 1238.7 650.9 1242.6 652 1246.8" stroke="#ffff00"/>
<path d="M652 1246.8 653.2 1251.7 654.4 1257.1 655.5 1262.8 656.5 1268.3 657.4 1273.2 658.1 1277.2" stroke="#ff9000"/>
<path d="M658.1 1277.2 658.7 1280.3 659 1282.7 659.3 1284.5 659.4 1285.9 659.5 1287 659.7 1287.9" stroke="#000000"/>
<path d="M554.6 1251.4 556.4 1249.8 559 1247.4 562 1244.7 565.3 1241.9 568.5 1239.5 571.3 1237.7" stroke="#ff9000"/>
<path d="M571.3 1237.7 574 1236.5 576.5 1235.7 579.1 1235.3 581.6 1235 584.1 1234.8 586.6 1234.6 589.1 1234.3 591.6 1234 594.2 1233.8 596.7 1233.7 599.3 1234 601.8 1234.6 604.3 1235.7 606.9 1237.3 609.4 1239.1 611.9 1241.1 614.5 1243.2 617 1245.3" stroke="#00ff00"/>
<path d="M617 1245.3 619.6 1247.4 622.3 1249.6 625 1251.8 627.6 1254.2 630.1 1256.6 632.2 1259 634.2 1261.4 635.9 1263.9 637.5 1266.5 638.9 1269.1 640.2 1271.6 641.4 1274.2" stroke="#ffff00"/>
<path d="M641.4 1274.2 642.5 1276.9 643.4 1279.8 644.2 1282.8 644.9 1285.5 645.5 1287.8 646 1289.4" stroke="#ff0000"/>
<path d="M548.5 1190.5 546.8 1193.7 544.4 1198.1 541.6 1203.4 538.6 1209 535.7 1214.5 533.3 1219.4 531.2 1223.8 529.3 1228.1 527.6 1232.2 525.9 1236.3 524.3 1240.1 522.6 1243.8" stroke="#00ff00"/>
<path d="M522.6 1243.8 521 1247.1 519.4 1250.1 517.9 1252.9 516.4 1255.7 514.9 1258.7 513.5 1262" stroke="#ffff00"/>
<path d="M513.5 1262 512 1266 510.6 1270.6 509.1 1275.3 507.8 1279.8 506.7 1283.7 505.9 1286.4" stroke="#ff0000"/>
<path d="M586.6 1178.3 585 1180.8 582.7 1184.2 580.1 1188.3 577.2 1192.7 574.2 1197.1 571.3 1201.1" stroke="#0000ff"/>
<path d="M571.3 1201.1 568.4 1205 565.3 1208.8 562 1212.7 558.8 1216.6 555.8 1220.3 553.1 1224" stroke="#0080ff"/>
<path d="M553.1 1224 550.7 1227.4 548.7 1230.7 546.8 1234 545 1237.2 543 1240.4 540.9 1243.8" stroke="#00ffff"/>
<path d="M540.9 1243.8 538.5 1247.2 536.1 1250.8 533.5 1254.4 530.9 1258 528.2 1261.6 525.7 1265.1" stroke="#00ff00"/>
<path d="M525.7 1265.1 523 1268.7 520 1272.5 517.1 1276.3 514.4 1279.8 512.1 1282.7 510.4 1284.9" stroke="#ffff00"/>
<path d="M575.9 1289.4 577.9 1288 580.6 1286 583.8 1283.6 587.3 1281.2 590.8 1279 594.2 1277.2 597.4 1275.9 600.7 1274.8 604.1 1273.9 607.4 1273.2 610.8 1272.8 614 1272.7 617.2 1272.8 620.4 1273.3 623.6 1274 626.7 1274.9 629.6 1276 632.2 1277.2" stroke="#ff0000"/>
<path d="M632.2 1277.2 634.8 1278.8 637.2 1280.7 639.5 1282.9 641.5 1284.9 643.2 1286.7 644.4 1287.9" stroke="#ffff00"/>
<path d="M606.4 1265.8 608.4 1266 611.2 1266.2 614.6 1266.4 618.1 1266.8 621.6 1267.3 624.6 1268.1 627.4 1269.2 630.2 1270.5 632.9 1272.1 635.5 1273.7 637.8 1275.5 639.9 1277.2" stroke="#ffff00"/>
<path d="M639.9 1277.2 641.7 1279.2 643.2 1281.5 644.6 1283.9 645.8 1286.2 646.7 1288.1 647.5 1289.4" stroke="#ff0000"/>
<path d="M505.9 1219.4 504.7 1221.6 503.1 1224.5 501.2 1228 499.2 1231.9 497.1 1236.2 495.2 1240.7 493.4 1245.9 491.4 1252 489.5 1258.4 487.7 1264.6 486 1270.1 484.6 1274.2" stroke="#00ff00"/>
<path d="M484.6 1274.2 483.4 1276.9 482.4 1278.5 481.6 1279.3 481 1279.7 480.4 1279.9 480 1280.3" stroke="#ffff00"/>
</g><g clip-path="url(#clipD)"><polyline points="67,991 140,986 250,982 380,982 500,984 600,988 697,996" fill="none" stroke="#ff00ff" stroke-width="2.6" stroke-dasharray="2.5 5"/><polyline points="67,1005 120,998 180,992 260,988" fill="none" stroke="#ff00ff" stroke-width="2.6" stroke-dasharray="2.5 5"/></g>
<line x1="67" y1="1029.50" x2="697" y2="1029.50" stroke="#000" stroke-width="1"/>
<line x1="67" y1="1029.50" x2="73" y2="1029.50" stroke="#000" stroke-width="2"/>
<line x1="691" y1="1029.50" x2="697" y2="1029.50" stroke="#000" stroke-width="2"/>
<line x1="67" y1="1082.50" x2="697" y2="1082.50" stroke="#000" stroke-width="1"/>
<line x1="67" y1="1082.50" x2="73" y2="1082.50" stroke="#000" stroke-width="2"/>
<line x1="691" y1="1082.50" x2="697" y2="1082.50" stroke="#000" stroke-width="2"/>
<line x1="67" y1="1134.50" x2="697" y2="1134.50" stroke="#000" stroke-width="1"/>
<line x1="67" y1="1134.50" x2="73" y2="1134.50" stroke="#000" stroke-width="2"/>
<line x1="691" y1="1134.50" x2="697" y2="1134.50" stroke="#000" stroke-width="2"/>
<line x1="67" y1="1187.50" x2="697" y2="1187.50" stroke="#000" stroke-width="1"/>
<line x1="67" y1="1187.50" x2="73" y2="1187.50" stroke="#000" stroke-width="2"/>
<line x1="691" y1="1187.50" x2="697" y2="1187.50" stroke="#000" stroke-width="2"/>
<line x1="67" y1="1239.50" x2="697" y2="1239.50" stroke="#000" stroke-width="1"/>
<line x1="67" y1="1239.50" x2="73" y2="1239.50" stroke="#000" stroke-width="2"/>
<line x1="691" y1="1239.50" x2="697" y2="1239.50" stroke="#000" stroke-width="2"/>
<line x1="84.50" y1="1291.6" x2="84.50" y2="1288.3999999999999" stroke="#000" stroke-width="2"/>
<line x1="84.50" y1="977.0" x2="84.50" y2="980.2" stroke="#000" stroke-width="2"/>
<line x1="102.00" y1="1291.6" x2="102.00" y2="1288.3999999999999" stroke="#000" stroke-width="2"/>
<line x1="102.00" y1="977.0" x2="102.00" y2="980.2" stroke="#000" stroke-width="2"/>
<line x1="119.50" y1="1291.6" x2="119.50" y2="1286.1" stroke="#000" stroke-width="2"/>
<line x1="119.50" y1="977.0" x2="119.50" y2="982.5" stroke="#000" stroke-width="2"/>
<line x1="137.00" y1="1291.6" x2="137.00" y2="1288.3999999999999" stroke="#000" stroke-width="2"/>
<line x1="137.00" y1="977.0" x2="137.00" y2="980.2" stroke="#000" stroke-width="2"/>
<line x1="154.50" y1="1291.6" x2="154.50" y2="1288.3999999999999" stroke="#000" stroke-width="2"/>
<line x1="154.50" y1="977.0" x2="154.50" y2="980.2" stroke="#000" stroke-width="2"/>
<line x1="172.00" y1="1291.6" x2="172.00" y2="1286.1" stroke="#000" stroke-width="2"/>
<line x1="172.00" y1="977.0" x2="172.00" y2="982.5" stroke="#000" stroke-width="2"/>
<line x1="189.50" y1="1291.6" x2="189.50" y2="1288.3999999999999" stroke="#000" stroke-width="2"/>
<line x1="189.50" y1="977.0" x2="189.50" y2="980.2" stroke="#000" stroke-width="2"/>
<line x1="207.00" y1="1291.6" x2="207.00" y2="1288.3999999999999" stroke="#000" stroke-width="2"/>
<line x1="207.00" y1="977.0" x2="207.00" y2="980.2" stroke="#000" stroke-width="2"/>
<line x1="224.50" y1="1291.6" x2="224.50" y2="1286.1" stroke="#000" stroke-width="2"/>
<line x1="224.50" y1="977.0" x2="224.50" y2="982.5" stroke="#000" stroke-width="2"/>
<line x1="242.00" y1="1291.6" x2="242.00" y2="1288.3999999999999" stroke="#000" stroke-width="2"/>
<line x1="242.00" y1="977.0" x2="242.00" y2="980.2" stroke="#000" stroke-width="2"/>
<line x1="259.50" y1="1291.6" x2="259.50" y2="1288.3999999999999" stroke="#000" stroke-width="2"/>
<line x1="259.50" y1="977.0" x2="259.50" y2="980.2" stroke="#000" stroke-width="2"/>
<line x1="277.00" y1="1291.6" x2="277.00" y2="1286.1" stroke="#000" stroke-width="2"/>
<line x1="277.00" y1="977.0" x2="277.00" y2="982.5" stroke="#000" stroke-width="2"/>
<line x1="294.50" y1="1291.6" x2="294.50" y2="1288.3999999999999" stroke="#000" stroke-width="2"/>
<line x1="294.50" y1="977.0" x2="294.50" y2="980.2" stroke="#000" stroke-width="2"/>
<line x1="312.00" y1="1291.6" x2="312.00" y2="1288.3999999999999" stroke="#000" stroke-width="2"/>
<line x1="312.00" y1="977.0" x2="312.00" y2="980.2" stroke="#000" stroke-width="2"/>
<line x1="329.50" y1="1291.6" x2="329.50" y2="1286.1" stroke="#000" stroke-width="2"/>
<line x1="329.50" y1="977.0" x2="329.50" y2="982.5" stroke="#000" stroke-width="2"/>
<line x1="347.00" y1="1291.6" x2="347.00" y2="1288.3999999999999" stroke="#000" stroke-width="2"/>
<line x1="347.00" y1="977.0" x2="347.00" y2="980.2" stroke="#000" stroke-width="2"/>
<line x1="364.50" y1="1291.6" x2="364.50" y2="1288.3999999999999" stroke="#000" stroke-width="2"/>
<line x1="364.50" y1="977.0" x2="364.50" y2="980.2" stroke="#000" stroke-width="2"/>
<line x1="382.00" y1="1291.6" x2="382.00" y2="1286.1" stroke="#000" stroke-width="2"/>
<line x1="382.00" y1="977.0" x2="382.00" y2="982.5" stroke="#000" stroke-width="2"/>
<line x1="399.50" y1="1291.6" x2="399.50" y2="1288.3999999999999" stroke="#000" stroke-width="2"/>
<line x1="399.50" y1="977.0" x2="399.50" y2="980.2" stroke="#000" stroke-width="2"/>
<line x1="417.00" y1="1291.6" x2="417.00" y2="1288.3999999999999" stroke="#000" stroke-width="2"/>
<line x1="417.00" y1="977.0" x2="417.00" y2="980.2" stroke="#000" stroke-width="2"/>
<line x1="434.50" y1="1291.6" x2="434.50" y2="1286.1" stroke="#000" stroke-width="2"/>
<line x1="434.50" y1="977.0" x2="434.50" y2="982.5" stroke="#000" stroke-width="2"/>
<line x1="452.00" y1="1291.6" x2="452.00" y2="1288.3999999999999" stroke="#000" stroke-width="2"/>
<line x1="452.00" y1="977.0" x2="452.00" y2="980.2" stroke="#000" stroke-width="2"/>
<line x1="469.50" y1="1291.6" x2="469.50" y2="1288.3999999999999" stroke="#000" stroke-width="2"/>
<line x1="469.50" y1="977.0" x2="469.50" y2="980.2" stroke="#000" stroke-width="2"/>
<line x1="487.00" y1="1291.6" x2="487.00" y2="1286.1" stroke="#000" stroke-width="2"/>
<line x1="487.00" y1="977.0" x2="487.00" y2="982.5" stroke="#000" stroke-width="2"/>
<line x1="504.50" y1="1291.6" x2="504.50" y2="1288.3999999999999" stroke="#000" stroke-width="2"/>
<line x1="504.50" y1="977.0" x2="504.50" y2="980.2" stroke="#000" stroke-width="2"/>
<line x1="522.00" y1="1291.6" x2="522.00" y2="1288.3999999999999" stroke="#000" stroke-width="2"/>
<line x1="522.00" y1="977.0" x2="522.00" y2="980.2" stroke="#000" stroke-width="2"/>
<line x1="539.50" y1="1291.6" x2="539.50" y2="1286.1" stroke="#000" stroke-width="2"/>
<line x1="539.50" y1="977.0" x2="539.50" y2="982.5" stroke="#000" stroke-width="2"/>
<line x1="557.00" y1="1291.6" x2="557.00" y2="1288.3999999999999" stroke="#000" stroke-width="2"/>
<line x1="557.00" y1="977.0" x2="557.00" y2="980.2" stroke="#000" stroke-width="2"/>
<line x1="574.50" y1="1291.6" x2="574.50" y2="1288.3999999999999" stroke="#000" stroke-width="2"/>
<line x1="574.50" y1="977.0" x2="574.50" y2="980.2" stroke="#000" stroke-width="2"/>
<line x1="592.00" y1="1291.6" x2="592.00" y2="1286.1" stroke="#000" stroke-width="2"/>
<line x1="592.00" y1="977.0" x2="592.00" y2="982.5" stroke="#000" stroke-width="2"/>
<line x1="609.50" y1="1291.6" x2="609.50" y2="1288.3999999999999" stroke="#000" stroke-width="2"/>
<line x1="609.50" y1="977.0" x2="609.50" y2="980.2" stroke="#000" stroke-width="2"/>
<line x1="627.00" y1="1291.6" x2="627.00" y2="1288.3999999999999" stroke="#000" stroke-width="2"/>
<line x1="627.00" y1="977.0" x2="627.00" y2="980.2" stroke="#000" stroke-width="2"/>
<line x1="644.50" y1="1291.6" x2="644.50" y2="1286.1" stroke="#000" stroke-width="2"/>
<line x1="644.50" y1="977.0" x2="644.50" y2="982.5" stroke="#000" stroke-width="2"/>
<line x1="662.00" y1="1291.6" x2="662.00" y2="1288.3999999999999" stroke="#000" stroke-width="2"/>
<line x1="662.00" y1="977.0" x2="662.00" y2="980.2" stroke="#000" stroke-width="2"/>
<line x1="679.50" y1="1291.6" x2="679.50" y2="1288.3999999999999" stroke="#000" stroke-width="2"/>
<line x1="679.50" y1="977.0" x2="679.50" y2="980.2" stroke="#000" stroke-width="2"/>
<rect x="67" y="977.0" width="630" height="314.5999999999999" fill="none" stroke="#000" stroke-width="4.4"/>
<text x="58.5" y="984.8" font-size="22" text-anchor="end" fill="#000" >90</text>
<text x="58.5" y="1037.2333333333333" font-size="22" text-anchor="end" fill="#000" >75</text>
<text x="58.5" y="1089.6666666666665" font-size="22" text-anchor="end" fill="#000" >60</text>
<text x="58.5" y="1142.1" font-size="22" text-anchor="end" fill="#000" >45</text>
<text x="58.5" y="1194.5333333333333" font-size="22" text-anchor="end" fill="#000" >30</text>
<text x="58.5" y="1246.9666666666665" font-size="22" text-anchor="end" fill="#000" >15</text>
<text x="58.5" y="1299.3999999999999" font-size="22" text-anchor="end" fill="#000" >0</text>
<text x="67.0" y="1316" font-size="22" text-anchor="middle" fill="#000" >0</text>
<text x="119.5" y="1316" font-size="22" text-anchor="middle" fill="#000" >30</text>
<text x="172.0" y="1316" font-size="22" text-anchor="middle" fill="#000" >60</text>
<text x="224.5" y="1316" font-size="22" text-anchor="middle" fill="#000" >90</text>
<text x="277.0" y="1316" font-size="22" text-anchor="middle" fill="#000" >120</text>
<text x="329.5" y="1316" font-size="22" text-anchor="middle" fill="#000" >150</text>
<text x="382.0" y="1316" font-size="22" text-anchor="middle" fill="#000" >180</text>
<text x="434.5" y="1316" font-size="22" text-anchor="middle" fill="#000" >210</text>
<text x="487.0" y="1316" font-size="22" text-anchor="middle" fill="#000" >240</text>
<text x="539.5" y="1316" font-size="22" text-anchor="middle" fill="#000" >270</text>
<text x="592.0" y="1316" font-size="22" text-anchor="middle" fill="#000" >300</text>
<text x="644.5" y="1316" font-size="22" text-anchor="middle" fill="#000" >330</text>
<text x="697.0" y="1316" font-size="22" text-anchor="middle" fill="#000" >360</text>
<text transform="translate(21.2 1134) rotate(-90)" font-size="22" text-anchor="middle">Elevación (grados)</text>
<text x="381" y="1344.6" font-size="22" text-anchor="middle" fill="#000" >Azimut (grados)</text>
<circle cx="381.6" cy="685.5" r="142.00" fill="none" stroke="#000" stroke-width="1.1"/>
<circle cx="381.6" cy="685.5" r="71.00" fill="none" stroke="#000" stroke-width="1.1"/>
<polygon points="394.10,685.50 391.71,692.85 385.46,697.39 377.74,697.39 371.49,692.85 369.10,685.50 371.49,678.15 377.74,673.61 385.46,673.61 391.71,678.15" fill="none" stroke="#000" stroke-width="1.1"/>
<line x1="168.60000000000002" y1="685.5" x2="594.6" y2="685.5" stroke="#000" stroke-width="1.1"/>
<line x1="381.6" y1="472.5" x2="381.6" y2="898.5" stroke="#000" stroke-width="1.1"/>
<g clip-path="url(#clipP)" fill="none" stroke-width="1.8" stroke-linecap="round" stroke-linejoin="round">
<path d="M382 666.5 382.4 664.9 383.1 662.7 384.1 660.1 385.4 657.3 386.7 654.4 388 651.7 389.3 649 390.6 646.1 391.9 643.2 393.2 640.3 394.7 637.4 396.2 634.6 397.9 631.8 399.7 629.1 401.6 626.4 403.5 623.8 405.5 621.2 407.5 618.8 409.5 616.5 411.4 614.4 413.3 612.3 415.3 610.3 417.3 608.2 419.6 606.1 422.3 603.8 425.3 601.3 428.6 598.9 431.7 596.7 434.4 594.9 436.4 593.6" stroke="#b000ff"/>
<path d="M382.5 643.3 383.8 643.7 385.4 644.3 387.4 645 389.5 645.9 391.6 646.9 393.7 647.8 395.8 648.8 398.2 649.9 400.5 651.2 402.8 652.5 404.9 653.9 406.6 655.1 408.1 656.2 409.3 657.1 410.4 657.9 411.5 658.6 412.7 659.5 414.3 660.5 416.2 661.8 418.5 663.5 420.8 665.4 423 667.5 424.8 669.4 426 670.8" stroke="#ff00ff"/>
<path d="M382.5 644.4 384.1 644.6 386.3 645.2 388.9 645.9 391.6 646.8 394.2 647.9 396.5 648.8 398.6 649.7 400.7 650.6 402.8 651.6 404.8 652.6 406.8 653.6 408.7 654.6 410.5 655.5 412.3 656.5 414 657.4 415.8 658.3 417.7 659.3 419.9 660.5 422.5 662 425.3 663.8 428.3 665.9 431.2 668.2 433.9 670.5 436.2 672.8 438.2 674.8 439.8 676.5 441.4 678 443 679.6 444.8 681.3 446.9 683.5 449.6 686.3 452.7 689.8 455.8 693.7 458.7 697.8 460.9 701.4 462.4 704.2" stroke="#7000ff"/>
<path d="M415.5 649.6 416.8 648.2 418.6 646.2 420.6 643.8 422.9 641.2 425.2 638.6 427.6 636.2 429.9 633.9 432.5 631.6 435.2 629.3 437.9 627 440.7 624.9 443.5 622.9 446.6 621.1 449.9 619.2 453.4 617.6 456.6 616.1 459.4 615 461.4 614.2" stroke="#ff00ff"/>
<path d="M426.4 635.1 426.6 634.2 426.8 632.8 427 631.2 427.3 629.5 427.6 627.6 427.9 625.7" stroke="#a0ff00"/>
<path d="M427.9 625.7 428.3 623.8 428.7 621.8 429.2 619.7 429.7 617.5 430.3 615.2 431.2 612.8" stroke="#00ff00"/>
<path d="M431.2 612.8 432.4 610 434 606.8 435.7 603.5 437.4 600.3 438.9 597.6 439.8 595.7" stroke="#a0ff00"/>
<path d="M464.5 617.9 463.2 619.5 461.2 621.6 458.9 624.2 456.5 627 454.2 630 452.3 633 450.6 636.2 449 639.4 447.4 642.8 445.8 646.2 444.3 649.6 443 653" stroke="#b000ff"/>
<path d="M443 653 441.8 656.3 440.5 659.6 439.3 662.9 438.2 666.1 437.2 669.4 436.2 672.8 435.3 676.4 434.4 680.1 433.4 683.9 432.4 687.6 431.5 691.2 430.7 694.5 430.1 697.9 429.8 701.6 429.5 705.4 429.1 708.9 428.6 712 428 714.2" stroke="#ff00ff"/>
<path d="M444.6 691.7 445.5 693.4 446.5 695.9 447.6 699 448.8 702.5 450 706.1 451.2 709.6 452.5 713.3 454.1 717.5 455.6 722 456.8 726.3 457.7 730.1 458.2 732.9" stroke="#b000ff"/>
<path d="M471.1 652.8 471.4 656.1 471.6 660.7 471.6 666.1 471.3 671.7 470.9 676.9 470.6 681.4 470.4 685 470.2 688.2 470.1 691.1 470.3 694.2 470.7 697.7 471.2 701.9 472.1 707.6 473 714.7 473.7 722.5 473.7 730.2 473.3 736.9 472.6 741.7" stroke="#ff00ff"/>
<path d="M383.2 608.3 411.1 609.7" stroke="#0000ff"/>
<path d="M383 618.1 385.2 616.9 388.3 615.4 392.1 613.8 396.5 612.1 401.3 610.4 406.2 608.5 411.8 606.3 418.6 603.9 426 601.8 433.3 600.2 439.8 599.3 444.5 599" stroke="#b000ff"/>
<path d="M382 665.5 382.6 666.4 383.4 667.6 384.1 669.1 384.7 670.7 385.2 672.1 385.5 673.3 385.8 674.2 386 675.1 386.2 675.7 386.4 676.3 386.5 676.8 386.6 677.2" stroke="#b000ff"/>
<path d="M392 695.3 392.2 695.9 392.3 696.7 392.4 697.7 392.6 698.8 392.8 700.2 393.2 701.8 393.6 703.7 394.2 706 394.7 708.4 395.2 711.1 395.7 713.9 396.1 716.7 396.5 719.7 397 722.8 397.5 725.9 397.9 729.2 398.3 732.5 398.6 735.7 398.8 738.7 398.9 741.4 398.9 744.2 399 747.2 399.1 750.7 399.4 754.8 399.9 760.2 400.4 766.8 401 773.8 401.5 780.6 401.8 786.5 401.9 790.6" stroke="#b000ff"/>
<path d="M390.3 689.7 390.8 690.3 391.4 691.1 392.1 692 392.9 693.2 393.8 694.6 394.7 696.2 395.8 697.9 397 699.9 398.2 702.1 399.3 704.6 400.5 707.1 401.6 709.6 402.7 712.2 403.8 714.8 405 717.4 406.2 720.2 407.4 723.1 408.6 726.2 409.7 729.5 410.8 732.8 411.9 736.2 413.1 739.9 414.3 744 415.5 748.5 417.1 754 418.8 760.5 420.5 767.4 421.9 774.1 423 779.8 423.6 783.9" stroke="#ff00ff"/>
<path d="M381.5 696.2 381.8 697.1 382.2 698.2 382.7 699.5 383.4 701 384.2 702.6 384.9 704.2 385.6 705.9 386.2 707.7 386.8 709.6 387.4 711.7 388 713.8 388.7 716 389.4 718.2 390 720.4 390.7 722.7 391.4 725.2 392.1 727.9 392.9 730.9 393.8 734.3 394.6 737.9 395.5 741.7 396.5 745.9 397.4 750.3 398.3 755.1 399.4 760.7 400.5 767.2 401.5 774.1 402.4 780.7 403 786.3 403.5 790.2" stroke="#ff00ff"/>
<path d="M367.2 750.3 367.1 748.1 367.1 744.9 367.2 741.2 367.4 737.3 367.7 733.6 368 730.3 368.3 727.4 368.7 724.6 369.1 722 369.5 719.4 369.9 717 370.2 714.7 370.6 712.5 370.9 710.4 371.2 708.5 371.6 706.6 371.9 704.8 372.1 703.1 372.4 701.4 372.7 699.6 373 698 373.3 696.5 373.7 695.3 374 694.5" stroke="#b000ff"/>
<path d="M428.8 708.5 428.7 709.9 428.4 711.8 428 714.2 427.5 716.7 427.1 719.4 426.8 722.1 426.5 724.9 426.3 728 426 731.2 425.6 734.5 425.3 737.9 424.9 741.1 424.6 744.3 424.3 747.4 424.1 750.5 423.9 753.7 423.7 757 423.5 760.5 423.4 764.5 423.2 769 423.1 773.7 422.8 778.1 422.5 781.8 422.1 784.5" stroke="#ff00ff"/>
<path d="M345.8 786.4 345.3 783.3 344.7 779 344.2 774 343.9 768.7 343.7 763.6 343.5 759.1" stroke="#b000ff"/>
<path d="M343.5 759.1 343.4 755.2 343.4 751.6 343.4 748.1 343.4 744.8 343.3 741.5 343.1 738.3 342.8 735.2 342.4 732.1 341.9 729.1 341.4 726.2 341 723.4 340.8 720.9 340.5 718.3 340.2 715.8 339.9 713.4 339.6 711.3 339.5 709.5 339.5 708.2" stroke="#ff00ff"/>
<path d="M331.7 780.2 331.7 777.8 331.9 774.7 332.2 770.9 332.5 766.9 332.8 762.8 333.1 759" stroke="#00ffff"/>
<path d="M333.1 759 333.3 755.3 333.6 751.5 333.9 747.7 334.3 743.9 334.7 740.4 335 737 335.2 733.9 335.4 730.8 335.6 727.9 335.8 725.2 336 722.6 336.2 720.2 336.5 717.9 336.8 715.7 337 713.6 337.2 711.8 337.4 710.2 337.7 709.1" stroke="#0080ff"/>
<path d="M304 759.2 304.2 756.8 304.6 753.5 305.2 749.7 306 745.8 306.8 742 307.6 738.7 308.3 735.6 309 732.5 309.8 729.5 310.6 726.8 311.2 724.6 311.8 723.1" stroke="#b000ff"/>
<path d="M455.2 721.4 455.4 722.7 455.6 724.5 455.8 726.7 456.1 729.2 456.6 731.8 457.2 734.5 458.2 737.6 459.5 741.1 460.8 744.9 462.1 748.6 463.1 751.8 463.7 754.2" stroke="#7000ff"/>
<path d="M374.3 680.9 373.9 680.4 373.4 679.6 372.9 678.7 372.3 677.6 371.7 676.4 371 675.1 370.2 673.8 369.3 672.3 368.3 670.7 367.2 669 366.1 667.2 364.9 665.3 363.7 663.4 362.3 661.4 360.9 659.4 359.3 657.3 357.6 655.1 355.8 652.8 353.8 650.4 351.5 647.9 349.1 645.4 346.6 642.8 343.9 640.4 341.2 638.1 338.4 636 335.5 634.1 332.6 632.3 329.4 630.6 326 629.1 322.3 627.6 317.9 626.2 312.9 625 307.5 624.1 302.3 623.6 297.8 623.3 294.6 623.2" stroke="#ff00ff"/>
<path d="M280 652.1 282.9 650.1 287 647.5 292 644.8 297.3 642.4 302.5 640.3 307 638.7 311 637.5 314.6 636.6 318 635.8 321.5 635.2 325.1 634.6 328.9 634.1 333 633.8 337.2 633.8 341.4 633.9 345.7 634.3 350.1 634.7 354.5 635.2 359.4 635.8 364.8 636.7 370 638 374.6 639.7 378.2 641.4 380.6 642.8" stroke="#ff00ff"/>
<path d="M381.4 675.3 381.2 675 380.9 674.7 380.6 674.3 380.1 673.9 379.7 673.2 379.1 672.4 378.4 671.5 377.5 670.4 376.4 669.2 375.3 667.9 374 666.7 372.6 665.3 371.3 664 369.9 662.5 368.4 660.9 366.8 659.4 365.2 657.8 363.5 656.2 361.7 654.7 359.8 653.2 357.9 651.7 355.9 650.2 353.8 648.6 351.6 646.9 349.3 645.1 346.9 643.2 344.4 641.3 341.9 639.3 339.2 637.4 336.3 635.6 333 633.8 329.2 631.9 325.3 630.2 321.5 628.8 318.2 627.7 315.9 626.9" stroke="#ff00ff"/>
<path d="M381.1 662.9 380.7 661.9 380.1 660.6 379.3 659 378.4 657.3 377.4 655.4 376.4 653.5 375.4 651.6 374.3 649.4 373.2 647.2 371.9 644.9 370.6 642.6 369.3 640.3 367.9 638.1 366.6 635.9 365.1 633.6 363.7 631.3 362.2 629.1 360.7 626.8 359.2 624.6 357.7 622.4 356.1 620.2 354.6 618.1 352.9 616 351.1 614 349.1 612 346.8 610 344.4 608.1 342 606.4 340 605 338.5 604" stroke="#b000ff"/>
<path d="M337.2 715.4 337.2 713.9 337.3 711.9 337.4 709.6 337.6 707.1 337.8 704.6 337.9 702.2" stroke="#0080ff"/>
<path d="M337.9 702.2 337.9 700 337.8 697.6 337.7 695.2 337.7 692.9 337.6 690.5 337.5 688.2 337.3 686 337.1 683.8 336.9 681.5 336.6 679.1 336.4 676.8 336.2 674.3" stroke="#00ffff"/>
<path d="M336.2 674.3 336 671.7 335.8 668.9 335.7 666.1 335.6 663.2 335.5 660.3 335.4 657.5 335.2 654.7 334.9 652 334.6 649.3 334.2 646.6 333.8 643.9 333.5 641.3" stroke="#0080ff"/>
<path d="M333.5 641.3 333.1 638.8 332.6 636.5 332.1 634.2 331.5 631.9 330.9 629.6 330.3 627.2 329.6 624.5 328.8 621.8 328.1 619 327.2 616.2 326.4 613.6 325.5 611.1 324.5 608.7 323.2 606.3 321.8 604 320.4 602 319.3 600.3 318.5 599.1" stroke="#00ffff"/>
<path d="M340.7 713.1 340.2 711.5 339.7 709.2 339.3 706.5 338.9 703.6 338.6 700.9 338.2 698.4 337.7 696.2 337.1 693.9 336.5 691.5 335.9 689.2 335.3 687 334.8 684.8 334.4 682.8 333.9 680.8 333.5 678.8 333.1 676.9 332.6 675.1 332.2 673.3 331.6 671.6 330.9 669.9 330.2 668.2 329.5 666.7 328.9 665.4 328.5 664.4" stroke="#ff00ff"/>
<path d="M309.5 734.2 309.8 731.4 310.3 727.7 311.2 723.4 312.4 718.9 313.6 714.7 314.8 711.1" stroke="#b000ff"/>
<path d="M314.8 711.1 315.8 707.9 316.8 705 317.8 702.2 318.8 699.5 319.8 696.8 320.9 693.9" stroke="#ff00ff"/>
<path d="M320.9 693.9 322.2 691 323.5 688 324.9 685 326.4 682.1 327.9 679.3 329.3 676.8 330.7 674.4 332.1 672.3 333.4 670.2 334.7 668 336.1 665.7 337.6 663.2 339.3 660.2 341.3 657 343.6 653.6 346 650.4 348.6 647.4 351 644.8 353.1 642.6 355 640.6 356.9 638.7 358.7 636.8 360.6 634.8 362.8 632.7 365.3 630.2 368.3 627.5 371.6 624.8 374.9 622.3 377.8 620.4 380.1 619.1" stroke="#b000ff"/>
<path d="M274.9 677.5 276.6 674.9 279 671.5 281.9 667.7 285.3 663.6 288.8 659.7 292.1 656.1 295.4 652.5 298.9 648.9 302.6 645.3 306.4 642.1 310 639.2 313.4 636.7 316.4 634.5 319.3 632.7 321.9 631 324.5 629.4 327 627.9 329.6 626.4 332.2 624.9 334.8 623.4 337.4 621.9 340 620.5 342.6 619.2 345.2 618 347.9 616.9 350.6 615.9 353.4 615 356.1 614.1 358.9 613.3 361.7 612.5 364.8 611.6 368.2 610.6 371.7 609.8 375 609.1 377.8 608.6 379.8 608.3" stroke="#0000ff"/>
<path d="M276.1 667.8 278.6 665.6 282.2 662.8 286.5 659.6 291.2 656.6 296 653.9 300.3 651.7 304.3 649.9 308.3 648.3 312.2 646.9 316.1 645.7 319.8 644.7 323.4 643.9 326.9 643.1 330.1 642.6 333.2 642.2 336.3 641.8 339.4 641.4 342.5 641.1 345.7 640.8 348.9 640.7 352.2 640.6 355.4 640.6 358.6 640.7 361.8 640.8 365.2 641 369 641.3 372.7 641.8 376 642.5 378.8 643.2 380.6 643.9" stroke="#7000ff"/>
<path d="M276.7 706.6 277.2 704 278.2 700.5 279.4 696.4 280.7 692.2 282.1 688 283.3 684.1 284.2 680.5 285.2 676.9 286.1 673.3 287 669.7 287.8 666.1 288.6 662.6 289.4 658.9 290.1 655.1 290.8 651.3 291.5 647.5 292.2 643.9 293 640.5 293.7 637.4 294.4 634.2 295 631.3 295.6 628.6 296.1 626.3 296.6 624.7" stroke="#b000ff"/>
<path d="M280 652.1 282.5 650.2 286.2 647.8 290.6 645.1 295.3 642.6 300.1 640.5 304.6 638.8 308.8 637.4 313 636.2 317.1 635.2 321.2 634.6 325.2 634.2 328.9 634.1 332.7 634.3 336.6 634.8 340.2 635.6 343.5 636.5 346.1 637.3 348 638" stroke="#ff00ff"/>
<path d="M301.7 614.3 304.1 615.3 307.5 616.8 311.5 618.6 315.5 620.6 319.4 622.6 322.6 624.4 325.5 626 328.3 627.6 330.9 629.1 333.2 630.5 335.1 631.7 336.5 632.7" stroke="#7000ff"/>
<path d="M436.8 601.9 438.1 599.4 440 595.9 442.1 591.9 444.4 587.5 446.9 583.2 449.4 579.3" stroke="#ffff00"/>
<path d="M449.4 579.3 451.9 575.8 454.7 572.3 457.7 569 460.8 565.8 463.9 562.8 467.1 560.1" stroke="#ff9000"/>
<path d="M467.1 560.1 470.2 557.8 473.5 555.8 476.8 554 480.2 552.4 483.7 550.8 487.1 549.2 490.7 547.6 494.3 545.9 498 544.3 501.7 542.8 505.3 541.4 508.8 540.4" stroke="#ff0000"/>
<path d="M508.8 540.4 512.3 539.6 516 539 519.5 538.6 522.8 538.4 525.5 538.2 527.5 538.1" stroke="#000000"/>
<path d="M430.3 597.9 432.3 596.6 435.2 594.8 438.8 592.8 442.8 590.7 447 588.6 451.2 586.7" stroke="#7000ff"/>
<path d="M451.2 586.7 455.5 584.8 460.2 582.8 465.2 580.9 470.2 579.2 475.2 577.8 479.9 576.8 484.2 576.1 488.2 575.8 492.1 575.6 495.9 575.7 499.8 575.8 503.9 576.1" stroke="#0000ff"/>
<path d="M503.9 576.1 508.4 576.5 513 577.1 517.6 577.8 522.3 578.7 527 579.8 531.5 581.1" stroke="#00ffff"/>
<path d="M531.5 581.1 536.1 582.8 540.7 584.7 545.3 586.8 549.6 589 553.4 591.1 556.7 592.8" stroke="#00ff00"/>
<path d="M556.7 592.8 559.4 594.2 561.7 595.3 563.6 596.2 565.1 596.9 566.3 597.4 567.3 597.8" stroke="#ffff00"/>
<path d="M435.5 601 438.4 600.9 442.4 601 447.3 601.3 452.6 601.9 458 602.6 463 603.3 467.8 604 472.7 604.6 477.6 605.4 482.5 606.3 487.3 607.4 491.8 608.8" stroke="#7000ff"/>
<path d="M491.8 608.8 495.9 610.5 499.7 612.2 503.3 614.1 506.9 616.1 510.4 618.2 514.1 620.5 518.2 623 522.7 625.8 527.2 628.9 531.3 631.9 534.7 634.6 537.2 636.6" stroke="#0000ff"/>
<path d="M454.2 616.5 456.4 615.4 459.3 614.1 462.9 612.5 466.7 610.9 470.6 609.3 474.1 607.7" stroke="#b000ff"/>
<path d="M474.1 607.7 477.2 606.1 480.2 604.4 483.2 602.5 486.1 600.8 489.2 599.1 492.6 597.8" stroke="#0000ff"/>
<path d="M492.6 597.8 496.2 596.9 500 596.2 504.1 595.9 508.1 595.6 512.1 595.4 516 595" stroke="#00ffff"/>
<path d="M516 595 519.7 594.3 523.4 593.4 527.1 592.4 530.6 591.5 534.1 590.8 537.6 590.4" stroke="#00ff00"/>
<path d="M537.6 590.4 541.1 590.4 544.9 590.7 548.5 591.2 551.9 591.8 554.7 592.4 556.7 592.8" stroke="#ffff00"/>
<path d="M460.2 623.4 461.8 621.6 464 619.1 466.6 616.2 469.3 613.1 471.9 610.2 474.1 607.7" stroke="#b000ff"/>
<path d="M474.1 607.7 476 605.9 477.7 604.4 479.4 603.1 481 601.9 482.6 600.6 484.3 599.1" stroke="#0000ff"/>
<path d="M484.3 599.1 486.2 597.2 488.2 595 490.2 592.8 492 590.6 493.6 588.8 494.7 587.4" stroke="#00ffff"/>
<path d="M490.9 609.4 490.8 612.4 490.5 616.4 490 621.1 489.4 626.3 489 631.6 488.8 636.9 489 642.4 489.2 648.5 489.3 654.9 489.4 661.1 489.3 667 489.2 672.3 489.3 676.9 489.5 681.1 489.9 685.1 490.3 689 490.9 693 491.5 697.1 492.1 701.5 492.9 706 493.7 710.6 494.4 715.3 495.2 720.1 495.8 725" stroke="#0000ff"/>
<path d="M495.8 725 496.4 730.4 497 736.4 497.5 742.6 497.7 748.4 497.7 753.5 497.5 757.1" stroke="#0080ff"/>
<path d="M486.1 594.9 488.4 598.7 491.4 604.2 494.6 610.8 497.6 617.8 500.4 624.6 502.9 630.5 505.2 635.5 507.6 640.2 510 644.6 512.4 649 514.8 653.6 517.2 658.3 519.6 663.2 522 668.3 524.3 673.5 526.7 678.8 529 684.3 531.2 689.9" stroke="#0000ff"/>
<path d="M531.2 689.9 533.5 696 535.8 702.5 538 709.2 540 715.9 541.8 722.3 543.3 728.1" stroke="#0080ff"/>
<path d="M543.3 728.1 544.7 733.1 546.1 737.5 547.5 741.5 548.8 745.3 550.1 749.1 551.3 753.1" stroke="#00ffff"/>
<path d="M551.3 753.1 552.4 757.3 553.4 761.8 554.4 766.2 555.2 770.4 556.1 774.4 556.9 777.9" stroke="#00ff00"/>
<path d="M556.9 777.9 557.8 781 558.8 783.8 559.8 786.3 560.8 788.4 561.7 790.2 562.3 791.5" stroke="#ffff00"/>
<path d="M498.1 668.5 500.4 670.5 503.7 673.4 507.4 677 511.2 681.2 514.8 685.5 517.8 689.5" stroke="#b000ff"/>
<path d="M517.8 689.5 520.4 693.3 522.6 697.1 524.7 700.9 526.7 704.7 528.7 708.7 530.9 712.9" stroke="#0000ff"/>
<path d="M530.9 712.9 533.2 717.4 535.7 722.2 538.2 727.2 540.5 732.3 542.7 737.2 544.5 741.9" stroke="#00ffff"/>
<path d="M544.5 741.9 546 746.2 547.3 750.3 548.4 754.1 549.5 757.9 550.5 761.6 551.6 765.4" stroke="#00ff00"/>
<path d="M551.6 765.4 552.6 769.6 553.8 773.9 554.8 778.3 555.7 782.4 556.5 785.8 556.9 788.4" stroke="#ff9000"/>
<path d="M442.3 495.8 444.9 498.4 448.4 502 452.4 506.3 456.5 511 460.4 515.8 463.9 520.1" stroke="#ffff00"/>
<path d="M463.9 520.1 467 524.1 470 528.2 473 532.2 475.8 536.2 478.6 540.1 481.4 543.7" stroke="#00ff00"/>
<path d="M481.4 543.7 484.2 547.1 486.8 550.3 489.5 553.4 492.3 556.5 495.4 559.8 498.9 563.4 502.7 567.6 506.9 572.2 511.3 577.1 515.7 582.2 520 587.4 524.3 592.5 528.6 597.7 533.3 603.2 537.8 608.8 542.2 614.4 546.1 619.6 549.3 624.3" stroke="#00ffff"/>
<path d="M549.3 624.3 552 628.1 554.3 631.3 556.3 634 558.2 636.3 560 638.5 561.9 640.7" stroke="#00ff00"/>
<path d="M561.9 640.7 563.8 643 565.8 645.2 567.8 647.2 569.6 649 571.1 650.6 572.1 651.7" stroke="#ff9000"/>
<path d="M494.2 596.5 496.6 596.4 500 596.2 504 596.1 508.5 596.1 513 596.4 517.4 597 521.7 597.9 526.2 599 530.8 600.5 535.3 602.2 539.7 604 543.7 605.9" stroke="#00ff00"/>
<path d="M543.7 605.9 547.4 607.9 550.6 610 553.7 612.1 556.7 614.4 559.7 616.7 562.9 619.3" stroke="#ffff00"/>
<path d="M562.9 619.3 566.4 622.4 570.3 625.9 574.1 629.6 577.6 633.2 580.5 636.4 582.6 638.8" stroke="#ff0000"/>
<path d="M575.6 686.8 576.2 687.9 577.1 689.4 578 691.2 579.1 693.3 580.3 695.4 581.4 697.5" stroke="#ffff00"/>
<path d="M581.4 697.5 582.8 699.9 584.3 702.6 585.8 705.5 587.3 708.2 588.5 710.6 589.3 712.3" stroke="#ff0000"/>
<path d="M411.7 476.1 414.3 477.5 417.9 479.5 422 481.9 426.4 484.7 430.6 487.5 434.4 490.3" stroke="#000000"/>
<path d="M434.4 490.3 437.9 493 441.4 495.8 444.7 498.7 448 501.6 451 504.6 453.8 507.7" stroke="#ff0000"/>
<path d="M453.8 507.7 456.6 510.9 459.2 514.5 461.7 518.1 463.9 521.4 465.7 524.3 466.9 526.3" stroke="#ffff00"/>
<path d="M433.6 481 440.3 492" stroke="#ff0000"/>
<path d="M464.4 505.5 495.7 523.5" stroke="#000000"/>
<path d="M510.2 529.4 513.3 532.2 517.4 536.1 522 541 526.9 546.2 531.5 551.4 535.6 556 539.3 560.1 543 564.2 546.5 568.2 549.9 572 553.1 575.7 556.1 579.2" stroke="#ff0000"/>
<path d="M556.1 579.2 559 582.6 562 585.9 564.8 589 567.4 591.8 569.5 594.3 571 596.1" stroke="#000000"/>
<path d="M494.4 532.8 493.9 531.4 493.1 529.4 492.2 527.1 491.3 524.8 490.5 522.6 490.1 521" stroke="#ffff00"/>
<path d="M490.1 521 490.2 519.8 490.6 518.8 491.2 518.1 491.9 517.5 492.6 517 493 516.7" stroke="#ff0000"/>
<path d="M473.5 725.4 473.9 742.5" stroke="#ff00ff"/>
<path d="M473.5 730.3 474.1 733.6 474.7 738.3 475.1 743.9 475.3 750 475.4 756.1 475.4 761.6" stroke="#ff00ff"/>
<path d="M475.4 761.6 475.6 766.6 475.9 771.3 476.3 776 476.6 780.7 476.7 785.4 476.7 790.2" stroke="#b000ff"/>
<path d="M476.7 790.2 476.4 795.1 476 800.1 475.5 805.1 474.8 810.1 474 814.8 473.2 819.2" stroke="#0000ff"/>
<path d="M473.2 819.2 472.3 823.1 471.4 826.5 470.5 829.8 469.7 833 468.9 836.5 468.2 840.5" stroke="#00ffff"/>
<path d="M468.2 840.5 467.5 845.3 466.9 850.9 466.1 856.8 465.4 862.5 464.7 867.5 464.2 871.2" stroke="#00ff00"/>
<path d="M464.2 871.2 464.1 873.6 464.3 874.9 464.8 875.5 465.4 875.7 466 875.7 466.3 875.9" stroke="#ff0000"/>
<path d="M462.2 745 462.9 747.9 463.6 751.9 464.3 756.9 464.8 762.2 465.2 767.5 465.5 772.4" stroke="#7000ff"/>
<path d="M465.5 772.4 465.8 776.9 466.1 781.2 466.4 785.5 466.6 789.8 466.8 794.1 466.8 798.4" stroke="#0000ff"/>
<path d="M466.8 798.4 466.6 802.8 466.3 807.2 465.9 811.6 465.5 816 465.2 820.3 464.9 824.5" stroke="#0080ff"/>
<path d="M464.9 824.5 464.8 828.5 464.9 832.4 465.1 836.3 465.4 840.1 465.6 843.8 465.8 847.6" stroke="#00ffff"/>
<path d="M465.8 847.6 466 851.6 466.3 855.9 466.6 860.2 466.8 864.2 467 867.5 467 870" stroke="#00ff00"/>
<path d="M487.7 743.4 488.6 746.3 489.8 750.4 491 755.4 492.2 760.9 493.2 766.3 494.1 771.2" stroke="#0000ff"/>
<path d="M494.1 771.2 495 775.7 496 780 497 784.3 497.9 788.5 498.7 792.7 499.3 796.8" stroke="#0080ff"/>
<path d="M499.3 796.8 499.8 800.9 500.1 804.8 500.4 808.6 500.6 812.5 500.8 816.6 501 821 501.1 826.2 501.2 832.2 501.1 838.5 500.9 844.4 500.6 849.5 500.2 853.1" stroke="#00ff00"/>
<path d="M495.8 741.2 496.2 743.7 496.6 747.3 497.1 751.6 497.4 756.4 497.7 761.3 497.9 766" stroke="#0080ff"/>
<path d="M497.9 766 498.1 770.6 498.2 775.3 498.2 780.1 498.2 785.1 498.1 790.2 497.8 795.4" stroke="#00ffff"/>
<path d="M497.8 795.4 497.5 800.8 497 806.4 496.4 812.1 495.7 818 494.8 823.8 493.8 829.6" stroke="#00ff00"/>
<path d="M493.8 829.6 492.7 835.9 491.4 842.6 489.9 849.4 488.3 855.8 486.8 861.1 485.5 865" stroke="#ff9000"/>
<path d="M423.7 776.4 423.8 778.8 423.8 782.2 423.8 786.2 423.7 790.6 423.7 794.8 423.9 798.7" stroke="#ff00ff"/>
<path d="M423.9 798.7 424.4 802.1 425.2 805.5 426.1 808.8 427.2 812.1 428.2 815.4 429.1 818.7 429.9 822 430.7 825.2 431.5 828.5 432.3 831.8 433 835.2 433.7 838.9" stroke="#0000ff"/>
<path d="M433.7 838.9 434.4 843 435.1 847.4 435.7 852 436.2 856.6 436.5 861 436.6 865.1" stroke="#00ffff"/>
<path d="M436.6 865.1 436.3 869.1 435.8 873.1 435.1 876.9 434.2 880.3 433.5 883.2 433 885.4" stroke="#00ff00"/>
<path d="M400.6 783.9 400.6 786.7 400.6 790.7 400.4 795.4 400.3 800.4 400 805.5 399.8 810.1 399.7 814.6 399.5 819.1 399.4 823.5 399.3 827.9 399.1 832.2 399 836.2 398.9 839.9 398.7 843.1 398.7 846.1 398.6 849.3 398.7 852.8 398.7 857" stroke="#0000ff"/>
<path d="M398.7 857 399 862.3 399.3 868.6 399.7 875.3 400 881.7 400.4 887.1 400.6 891" stroke="#00ffff"/>
<path d="M424.2 785.2 424.1 787.4 423.8 790.4 423.5 794 423 797.8 422.5 801.5 422.1 804.8" stroke="#0000ff"/>
<path d="M422.1 804.8 421.8 807.8 421.5 810.8 421.3 813.8 421 816.5 420.8 818.7 420.7 820.4" stroke="#0080ff"/>
<path d="M346 779.2 346.1 780.9 346.4 783.2 346.7 785.9 347.2 789.1 347.6 792.5 348 796.2" stroke="#b000ff"/>
<path d="M348 796.2 348.3 800.1 348.7 804.5 349.1 809.2 349.6 814.1 350.2 818.9 350.8 823.6" stroke="#0000ff"/>
<path d="M350.8 823.6 351.5 828.1 352.1 832.6 352.8 837.1 353.5 841.6 354.3 846.1 355.2 850.6" stroke="#0080ff"/>
<path d="M355.2 850.6 356.3 855.2 357.5 859.9 358.8 864.6 360.1 869.2 361.5 873.5 362.8 877.6" stroke="#00ff00"/>
<path d="M362.8 877.6 364 881.4 365.2 885.2 366.3 888.8 367.4 892 368.3 894.7 369 896.7" stroke="#ff9000"/>
<path d="M331.6 772.3 331.3 774 331.1 776.2 330.9 778.9 330.6 782 330.3 785.4 330 789" stroke="#00ffff"/>
<path d="M330 789 329.7 793 329.3 797.4 329 802.1 328.7 806.9 328.5 811.8 328.3 816.5" stroke="#00ff90"/>
<path d="M328.3 816.5 328.2 821.1 328.1 825.7 328.1 830.3 328.1 834.8 328.1 839.4 328.1 843.9" stroke="#ffff00"/>
<path d="M328.1 843.9 328.1 848.6 328.1 853.4 328 858.1 328 862.7 328.1 867.1 328.3 871" stroke="#a0ff00"/>
<path d="M328.3 871 328.5 874.5 328.9 877.9 329.2 880.9 329.6 883.6 329.9 885.8 330.1 887.5" stroke="#ff0000"/>
<path d="M305.9 751.1 305.3 753.9 304.7 757.8 304.1 762.5 303.7 767.6 303.4 772.8 303.3 777.5" stroke="#b000ff"/>
<path d="M303.3 777.5 303.2 781.9 303.2 786.3 303.3 790.7 303.5 795 303.6 799.3 303.7 803.5" stroke="#0000ff"/>
<path d="M303.7 803.5 303.6 807.6 303.5 811.5 303.3 815.3 303.1 819.2 302.9 823.1 302.8 827.1" stroke="#0080ff"/>
<path d="M302.8 827.1 302.9 831.6 303 836.6 303.3 841.6 303.6 846.4 304 850.4 304.3 853.3" stroke="#00ffff"/>
<path d="M258.3 774 257.9 777.9 257.5 783.5 257.3 790.1 257.3 797.3 257.6 804.1 258.1 810.1" stroke="#00ff00"/>
<path d="M258.1 810.1 258.5 815.1 258.9 819.7 259.4 824 259.8 828.1 260.4 832.1 261.1 836.2" stroke="#ffff00"/>
<path d="M261.1 836.2 261.9 840.5 262.9 845 263.9 849.4 265 853.5 266 856.9 266.7 859.4" stroke="#ff0000"/>
<path d="M248 757.4 246.9 761.4 245.6 767.2 244.4 774.1 243.4 781.6 242.7 789 242.3 795.5 242 801.3 241.7 806.9 241.6 812.3 241.6 817.4 241.8 822.1 242.1 826.2" stroke="#00ff00"/>
<path d="M242.1 826.2 242.6 829.8 243.2 832.8 243.9 835.4 244.5 837.5 245.1 839.2 245.5 840.6" stroke="#ffff00"/>
<path d="M277.5 833.1 278.2 835.5 279.1 838.8 280.3 842.7 281.7 846.9 283 850.9 284.2 854.5 285.2 857.7 286.1 861 287 864.1 287.9 867 288.6 869.4 289.1 871.1" stroke="#00ff00"/>
<path d="M311.6 865.3 305.6 880.7" stroke="#ff9000"/>
<path d="M527.5 784.9 527.6 787.7 527.8 791.7 527.8 796.5 527.8 801.7 527.7 806.8 527.7 811.6" stroke="#ffff00"/>
<path d="M527.7 811.6 527.8 816.2 528.1 821.2 528.3 826.2 528.5 830.9 528.5 834.8 528.5 837.7" stroke="#ff0000"/>
<path d="M554.1 769.6 556.5 798.9" stroke="#ff0000"/>
<path d="M217.1 774 208.7 801.9" stroke="#00ff00"/>
<path d="M281.4 688.7 280.8 690.7 280 693.6 279.1 697.2 278.2 701 277.4 704.8 276.6 708.3 275.8 711.5 275 714.8 274.1 718 273.3 721.2 272.5 724.4 271.7 727.6 270.7 730.9 269.7 734.5 268.7 738.1 267.8 741.4 267.1 744.3 266.6 746.4" stroke="#b000ff"/>
<path d="M283.3 666 281.5 668.6 279.2 672.3 276.6 676.9 274 682.1 271.5 687.5 269.2 692.5 267.1 697.3 265 702.3 262.9 707.4 261 712.5 259.3 717.6 257.9 722.4" stroke="#0080ff"/>
<path d="M257.9 722.4 256.8 726.8 255.8 730.8 254.9 734.7 254 738.5 253 742.5 251.9 746.8 250.4 751.9 248.7 757.7 247 763.8 245.5 769.7 244.5 774.7 243.8 778.4" stroke="#00ffff"/>
<path d="M284 663 282.1 664.1 279.5 665.7 276.5 667.7 273.1 670 269.7 672.6 266.4 675.1 263 677.8 259.3 680.8 255.6 684 252 687.3 248.6 690.7 245.6 693.9 243 696.9 240.7 699.7 238.6 702.3 236.5 705 234.3 707.8 232 710.9" stroke="#0000ff"/>
<path d="M232 710.9 229.4 714.4 226.8 718.1 224.1 722.1 221.4 726.2 218.8 730.4 216.4 734.7" stroke="#0080ff"/>
<path d="M216.4 734.7 214.2 739.2 212 743.8 210 748.6 208.1 753.4 206.3 758.1 204.7 762.6" stroke="#00ffff"/>
<path d="M204.7 762.6 203.1 767.2 201.5 771.9 200.1 776.4 198.8 780.6 197.8 784.2 197.1 786.8" stroke="#00ff00"/>
<path d="M289.1 647.1 287.1 648.1 284.4 649.5 281.2 651.4 277.7 653.6 274.4 656 271.3 658.3 268.4 660.7 265.5 663.2 262.7 666 260 668.7 257.4 671.5 255.1 674.1 253.1 676.5 251.3 678.8 249.6 680.9 247.9 683 246.2 685.3 244.3 687.8" stroke="#ff00ff"/>
<path d="M244.3 687.8 242.3 690.5 240.2 693.4 238.1 696.5 235.9 699.7 233.6 703 231.3 706.4" stroke="#7000ff"/>
<path d="M231.3 706.4 228.6 710.1 225.6 714.3 222.6 718.8 219.8 723 217.6 726.7 216 729.4" stroke="#0000ff"/>
<path d="M301 625.9 299.7 626 297.9 626.1 295.7 626.2 293.3 626.4 290.7 626.6 288 626.7 285.2 626.9 282.1 627 278.9 627.1 275.6 627.4 272.3 627.8 269.3 628.5" stroke="#b000ff"/>
<path d="M269.3 628.5 266.2 629.6 263.1 631 260 632.6 257.2 634.2 254.9 635.6 253.2 636.7" stroke="#0000ff"/>
<path d="M307.8 617.7 306.2 617.1 304 616.2 301.4 615.3 298.4 614.3 295.1 613.3 291.8 612.6 288.3 612 284.4 611.6 280.2 611.3 275.9 611.2 271.6 611.2 267.3 611.3" stroke="#0000ff"/>
<path d="M267.3 611.3 263.1 611.5 258.9 611.8 254.6 612.2 250.4 612.8 246.1 613.5 241.7 614.5" stroke="#0080ff"/>
<path d="M241.7 614.5 237.2 615.7 232.8 617.1 228.2 618.7 223.7 620.6 219.2 622.6 214.7 625 210 627.8 204.9 631.1 199.9 634.8 195.4 638.5 191.6 641.7 188.9 644.2" stroke="#00ff00"/>
<path d="M292.2 640.2 292.5 637.4 293 633.4 293.8 628.8 294.9 623.8 296 618.9 296.9 614.5 297.6 610.7 298.2 606.9 298.7 603.2 299.2 599.6 299.5 596.1 299.7 592.5" stroke="#b000ff"/>
<path d="M299.7 592.5 299.8 588.9 299.6 585.4 299.3 582 299 578.5 298.5 574.9 298.2 571.3 298 567.4 297.8 563.4 297.5 559.4 297.3 555.4 296.9 551.4 296.3 547.7" stroke="#0000ff"/>
<path d="M296.3 547.7 295.4 544.4 294.2 541.3 292.8 538.4 291.3 535.4 289.6 532.3 287.8 528.8" stroke="#0080ff"/>
<path d="M287.8 528.8 285.7 524.6 283.1 519.8 280.5 514.8 278 510.1 275.8 506.1 274.3 503.2" stroke="#00ffff"/>
<path d="M322.5 604.6 321.3 602.6 319.8 600 317.9 596.8 315.8 593.4 313.8 590 311.9 586.8 310 583.9 308 580.9 306 578 304 575.1 302 572.4 299.9 570" stroke="#00ffff"/>
<path d="M299.9 570 298 568 296.1 566.2 294.1 564.7 292 563.2 289.8 561.8 287.2 560.2 284.2 558.5 280.9 556.8 277.4 555.1 273.7 553.5 270 552 266.4 550.5" stroke="#00ff00"/>
<path d="M266.4 550.5 262.5 549 258.3 547.4 254 545.9 250 544.6 246.6 543.6 244.1 542.9" stroke="#ffff00"/>
<path d="M269.5 612.7 270.5 609.9 272.2 605.9 274.3 601.3 276.6 596.5 279 591.7 281.1 587.4 282.9 583.6 284.7 579.9 286.4 576.2 288 572.6 289.5 568.9 290.9 565.1 292.2 561.2 293.5 557 294.6 552.8 295.7 548.6 296.8 544.6 297.9 540.8" stroke="#00ff00"/>
<path d="M297.9 540.8 298.9 537.2 299.8 533.9 300.5 530.8 301.2 527.6 301.8 524.4 302.4 520.9" stroke="#ffff00"/>
<path d="M302.4 520.9 302.9 517 303.3 512.7 303.7 508.4 304.1 504.2 304.4 500.4 304.8 497.3" stroke="#ff9000"/>
<path d="M304.8 497.3 305 495 305.1 493.2 305.1 491.9 305.1 490.9 305 490.1 305 489.4" stroke="#000000"/>
<path d="M197.9 657.6 199.6 654.4 202 650.1 204.9 645.1 208.1 639.9 211.2 634.9 213.9 630.4" stroke="#ff9000"/>
<path d="M213.9 630.4 216.2 626.3 218.2 622.3 220.2 618.3 222.1 614.4 224 610.5 226.1 606.6 228.3 602.8 230.6 599 233 595.3 235.3 591.6 237.6 587.8 239.8 584 241.8 580 243.7 575.8 245.6 571.6 247.5 567.3 249.5 562.9 251.6 558.6" stroke="#00ff00"/>
<path d="M251.6 558.6 254 554.3 256.5 549.8 259.2 545.3 261.9 541 264.4 536.8 266.7 533 268.7 529.5 270.4 526.2 272 523 273.3 520 274.5 517.2 275.6 514.4" stroke="#ffff00"/>
<path d="M275.6 514.4 276.5 511.7 277.2 509.1 277.6 506.5 278 504.2 278.2 502.2 278.5 500.8" stroke="#ff0000"/>
<path d="M237.7 672.5 235.3 674.8 232.1 678.2 228.3 682.3 224.5 686.9 220.9 691.5 217.8 695.7 215.1 699.3 212.5 702.7 210 706 207.7 709.2 205.5 712.5 203.5 715.7" stroke="#00ff00"/>
<path d="M203.5 715.7 201.8 719 200.4 722.3 199.1 725.5 197.9 728.6 196.6 731.8 195.1 735" stroke="#ffff00"/>
<path d="M195.1 735 193.2 738.4 191 742.1 188.8 745.8 186.7 749.3 185 752.2 183.8 754.4" stroke="#ff0000"/>
<path d="M260.1 623.8 257.6 625.1 254.2 626.9 250.1 629.1 245.8 631.9 241.5 634.9 237.4 638.1" stroke="#0000ff"/>
<path d="M237.4 638.1 233.6 641.6 229.8 645.6 226 649.9 222.4 654.4 219 658.8 215.9 662.9" stroke="#0080ff"/>
<path d="M215.9 662.9 213.1 666.5 210.5 669.8 208.1 672.8 205.7 675.9 203.4 679.2 201 683" stroke="#00ffff"/>
<path d="M201 683 198.6 687.3 196.3 691.9 194.1 696.8 192 701.9 190.1 707.1 188.4 712.3" stroke="#00ff00"/>
<path d="M188.4 712.3 186.8 717.9 185.3 724.1 184 730.4 183 736.3 182.3 741.4 181.8 745" stroke="#ffff00"/>
<path d="M183.9 610.4 186.3 606.8 189.7 602.1 193.9 596.7 198.6 591 203.4 585.3 207.8 580 212 575 216.4 569.9 220.8 564.8 225.3 559.8 229.8 554.9 234.1 550.1 238.5 545.4 242.8 540.6 247.2 535.9 251.4 531.4 255.5 527.1 259.3 523.2" stroke="#ff0000"/>
<path d="M259.3 523.2 262.8 519.3 266.1 515.3 269.2 511.6 272 508.2 274.4 505.3 276.2 503.3" stroke="#ffff00"/>
<path d="M227.9 564.5 230.3 561.4 233.8 557.1 238 552.2 242.7 547 247.3 542 251.4 537.5 255.1 533.4 258.8 529.2 262.4 525.2 265.9 521.3 269.1 517.6 271.9 514.3" stroke="#ffff00"/>
<path d="M271.9 514.3 274.3 511.3 276.3 508.2 277.9 505.4 279.3 502.9 280.4 500.8 281.3 499.3" stroke="#ff0000"/>
<path d="M226.6 739.5 225.9 741.8 225 745 223.9 748.8 222.8 753.1 221.5 757.5 220.2 761.8 218.5 766.3 216.4 771.3 214.3 776.6 212.3 781.7 210.8 786.4 209.8 790.3" stroke="#00ff00"/>
<path d="M209.8 790.3 209.5 793.3 209.7 795.5 210.1 797.2 210.6 798.5 211.1 799.5 211.4 800.3" stroke="#ffff00"/>
</g>
<circle cx="381.6" cy="685.5" r="213.0" fill="none" stroke="#000" stroke-width="4.4"/>
<text x="383" y="464.5" font-size="22" text-anchor="middle" fill="#000" >Norte</text>
<text x="379" y="926.5" font-size="22" text-anchor="middle" fill="#000" >Sur</text>
<text x="128.5" y="688" font-size="22" text-anchor="middle" fill="#000" >Oeste</text>
<text x="625.5" y="688" font-size="22" text-anchor="middle" fill="#000" >Este</text>
<text x="385" y="538.5" font-size="22" text-anchor="start" fill="#000" >30</text>
<text x="385" y="609" font-size="22" text-anchor="start" fill="#000" >60</text>
</svg></body></html>
